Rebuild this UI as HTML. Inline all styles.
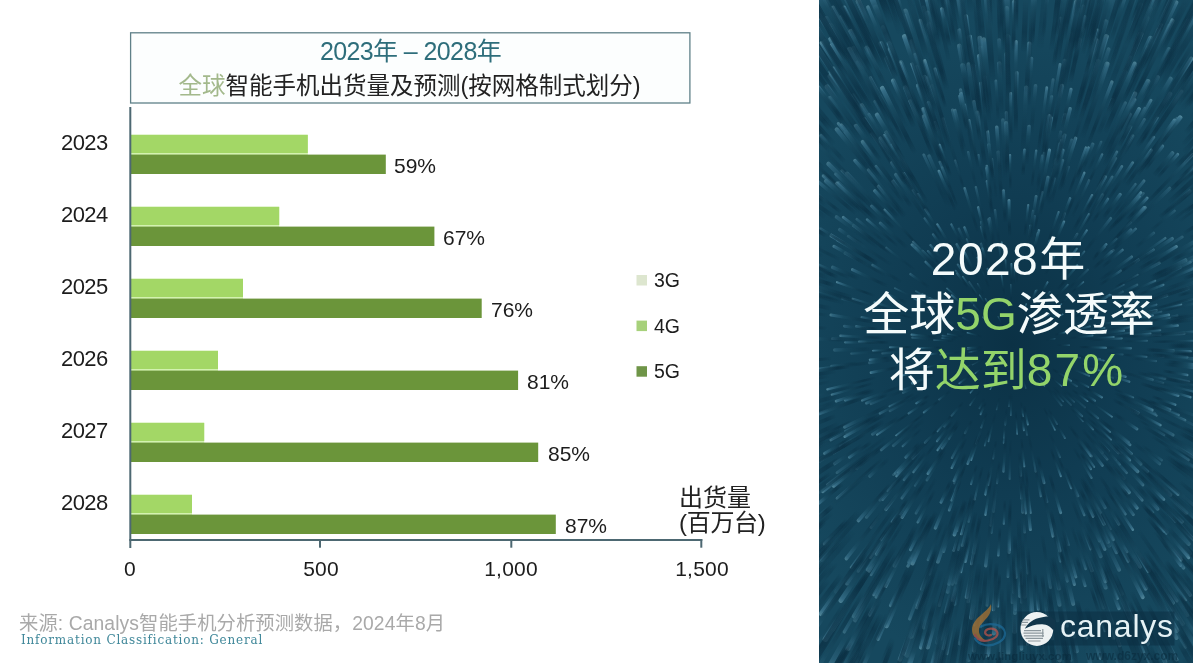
<!DOCTYPE html>
<html lang="zh">
<head>
<meta charset="utf-8">
<title>2023年 – 2028年 全球智能手机出货量及预测</title>
<style>
html,body{margin:0;padding:0;}
body{width:1193px;height:663px;position:relative;overflow:hidden;background:#fff;
  font-family:"Liberation Sans","Noto Sans CJK SC",sans-serif;color:#1a1a1a;}
.abs{position:absolute;white-space:nowrap;line-height:1;z-index:2;}
#titlebox{position:absolute;left:130px;top:32px;width:559px;height:70px;border:1px solid #5f8088;box-sizing:content-box;}
.t1{left:130px;width:561px;top:39px;text-align:center;font-size:25px;letter-spacing:-0.6px;color:#2e6e7b;}
.t2{left:129px;width:561px;top:75px;text-align:center;font-size:23.5px;color:#222;}
.t2 span{color:#a3b98c;}
.bar{position:absolute;left:131px;}
.l{background:#a3d867;height:19px;}
.d{background:#6b953a;height:20px;}
.yr{left:61px;font-size:22px;letter-spacing:-0.6px;color:#1c1c1c;}
.pc{font-size:21px;letter-spacing:0;color:#1c1c1c;}
.ax{font-size:21px;letter-spacing:0.2px;color:#1c1c1c;text-align:center;width:100px;}
#yaxis{position:absolute;left:130px;top:107px;width:1px;height:433px;background:#4f7580;}
#xaxis{position:absolute;left:130px;top:539px;width:572px;height:1px;background:#4f7580;}
.tick{position:absolute;top:539px;width:1px;height:8px;background:#4f7580;}
.lg{font-size:19.5px;letter-spacing:0;color:#1c1c1c;}
.sw{position:absolute;width:9px;height:9px;}
#panel{position:absolute;left:819px;top:0;width:374px;height:663px;overflow:hidden;background:radial-gradient(ellipse 250px 330px at 193px 345px,#0b3145 0%,#103c52 45%,#16485e 100%);}
.big{left:0;width:374px;text-align:center;color:#f4fbfb;font-size:46px;}
.big i{font-style:normal;letter-spacing:1.5px;}
.big span{color:#93d46a;}
</style>
</head>
<body>
<div class="abs t1">2023年 – 2028年</div>
<div class="abs t2"><span>全球</span>智能手机出货量及预测(按网格制式划分)</div>

<svg id="chart" width="819" height="663" viewBox="0 0 819 663" style="position:absolute;left:0;top:0">
<rect x="131" y="134.80" width="176.8" height="39.2" fill="#d3f2b0"/>
<rect x="131" y="134.80" width="176.8" height="18.2" fill="#a3d766"/>
<rect x="131" y="154.60" width="254.8" height="19.4" fill="#6b953a"/>
<rect x="131" y="206.80" width="148.2" height="39.2" fill="#d3f2b0"/>
<rect x="131" y="206.80" width="148.2" height="18.2" fill="#a3d766"/>
<rect x="131" y="226.60" width="303.4" height="19.4" fill="#6b953a"/>
<rect x="131" y="278.80" width="112.0" height="39.2" fill="#d3f2b0"/>
<rect x="131" y="278.80" width="112.0" height="18.2" fill="#a3d766"/>
<rect x="131" y="298.60" width="350.7" height="19.4" fill="#6b953a"/>
<rect x="131" y="350.80" width="87.0" height="39.2" fill="#d3f2b0"/>
<rect x="131" y="350.80" width="87.0" height="18.2" fill="#a3d766"/>
<rect x="131" y="370.60" width="387.1" height="19.4" fill="#6b953a"/>
<rect x="131" y="422.80" width="73.2" height="39.2" fill="#d3f2b0"/>
<rect x="131" y="422.80" width="73.2" height="18.2" fill="#a3d766"/>
<rect x="131" y="442.60" width="407.2" height="19.4" fill="#6b953a"/>
<rect x="131" y="494.80" width="61.0" height="39.2" fill="#d3f2b0"/>
<rect x="131" y="494.80" width="61.0" height="18.2" fill="#a3d766"/>
<rect x="131" y="514.60" width="424.8" height="19.4" fill="#6b953a"/>
<rect x="129.3" y="107" width="2" height="441" fill="#4d6872"/>
<rect x="129.3" y="539" width="573" height="2" fill="#4d6872"/>
<rect x="319" y="539" width="2" height="8.7" fill="#4d6872"/>
<rect x="510.3" y="539" width="2" height="8.7" fill="#4d6872"/>
<rect x="700.3" y="539" width="2" height="8.7" fill="#4d6872"/>
<rect x="636.5" y="275" width="10.5" height="10.5" fill="#dde6cf"/>
<rect x="636.5" y="320.6" width="10.5" height="10.5" fill="#a7d17b"/>
<rect x="636.5" y="366.2" width="10.5" height="10.5" fill="#6f9548"/>
<rect x="130.6" y="32.8" width="559.3" height="70.2" fill="#fcfefe" stroke="#5f8088" stroke-width="1.3"/>
</svg>

<div class="abs yr" style="top:132px">2023</div>
<div class="abs yr" style="top:204px">2024</div>
<div class="abs yr" style="top:276px">2025</div>
<div class="abs yr" style="top:348px">2026</div>
<div class="abs yr" style="top:420px">2027</div>
<div class="abs yr" style="top:492px">2028</div>

<div class="abs pc" style="left:394px;top:155px">59%</div>
<div class="abs pc" style="left:443px;top:227px">67%</div>
<div class="abs pc" style="left:491px;top:299px">76%</div>
<div class="abs pc" style="left:527px;top:371px">81%</div>
<div class="abs pc" style="left:548px;top:443px">85%</div>
<div class="abs pc" style="left:565px;top:515px">87%</div>

<div class="abs ax" style="left:80px;top:558px">0</div>
<div class="abs ax" style="left:271px;top:558px">500</div>
<div class="abs ax" style="left:461px;top:558px">1,000</div>
<div class="abs ax" style="left:652px;top:558px">1,500</div>

<div class="abs lg" style="left:654px;top:271px">3G</div>
<div class="abs lg" style="left:654px;top:317px">4G</div>
<div class="abs lg" style="left:654px;top:362px">5G</div>

<div class="abs" style="left:679px;top:486px;font-size:24px;color:#222">出货量</div>
<div class="abs" style="left:679px;top:511px;font-size:24px;letter-spacing:-0.3px;color:#222">(百万台)</div>

<div class="abs" style="left:19px;top:614px;font-size:19.3px;letter-spacing:0.1px;color:#a9a9a9">来源: Canalys智能手机分析预测数据，2024年8月</div>
<div class="abs" style="left:21px;top:634px;font-size:12px;letter-spacing:0.8px;color:#3f8799;font-family:'DejaVu Serif','Liberation Serif',serif">Information Classification: General</div>

<div id="panel">
<!--BURST-->
<svg id="burst" width="374" height="663" viewBox="0 0 374 663" style="position:absolute;left:0;top:0;filter:blur(0.5px)">
<defs><linearGradient id="rg" x1="0" y1="0" x2="1" y2="0"><stop offset="0" stop-color="#0a2c3f" stop-opacity="0"/><stop offset="0.25" stop-color="#0b3044" stop-opacity="0.75"/><stop offset="0.7" stop-color="#1a4c62" stop-opacity="0.92"/><stop offset="0.93" stop-color="#38708a" stop-opacity="1"/><stop offset="1" stop-color="#5a8fa2" stop-opacity="1"/></linearGradient></defs>
<g transform="translate(193 345)" fill="url(#rg)">
<rect x="21" y="-0.6" width="11" height="1.3" rx="0.6" opacity="0.5" transform="rotate(243.7)"/>
<rect x="28" y="-0.7" width="13" height="1.3" rx="0.7" opacity="0.4" transform="rotate(313.9)"/>
<rect x="29" y="-0.7" width="12" height="1.5" rx="0.7" opacity="0.6" transform="rotate(223.4)"/>
<rect x="30" y="-0.8" width="12" height="1.5" rx="0.8" opacity="0.5" transform="rotate(170.6)"/>
<rect x="32" y="-0.8" width="12" height="1.5" rx="0.8" opacity="0.9" transform="rotate(289.2)"/>
<rect x="34" y="-0.8" width="10" height="1.5" rx="0.8" opacity="0.5" transform="rotate(351.7)"/>
<rect x="29" y="-0.7" width="16" height="1.4" rx="0.7" opacity="0.7" transform="rotate(176.6)"/>
<rect x="31" y="-0.7" width="13" height="1.4" rx="0.7" opacity="0.5" transform="rotate(170.6)"/>
<rect x="30" y="-0.7" width="15" height="1.4" rx="0.7" opacity="0.7" transform="rotate(174.7)"/>
<rect x="30" y="-0.7" width="15" height="1.4" rx="0.7" opacity="0.6" transform="rotate(153.8)"/>
<rect x="30" y="-0.8" width="16" height="1.5" rx="0.8" opacity="0.4" transform="rotate(72.3)"/>
<rect x="31" y="-0.8" width="16" height="1.6" rx="0.8" opacity="0.9" transform="rotate(195.4)"/>
<rect x="37" y="-0.7" width="10" height="1.4" rx="0.7" opacity="0.9" transform="rotate(142.5)"/>
<rect x="30" y="-0.7" width="17" height="1.4" rx="0.7" opacity="0.9" transform="rotate(48.1)"/>
<rect x="34" y="-0.8" width="15" height="1.6" rx="0.8" opacity="0.6" transform="rotate(320.4)"/>
<rect x="33" y="-0.7" width="17" height="1.5" rx="0.7" opacity="0.9" transform="rotate(116.0)"/>
<rect x="35" y="-0.8" width="18" height="1.6" rx="0.8" opacity="0.7" transform="rotate(51.5)"/>
<rect x="38" y="-0.8" width="16" height="1.6" rx="0.8" opacity="0.5" transform="rotate(240.2)"/>
<rect x="44" y="-0.8" width="11" height="1.7" rx="0.8" opacity="0.8" transform="rotate(346.5)"/>
<rect x="39" y="-0.8" width="17" height="1.7" rx="0.8" opacity="0.5" transform="rotate(226.1)"/>
<rect x="39" y="-0.7" width="17" height="1.4" rx="0.7" opacity="0.8" transform="rotate(154.3)"/>
<rect x="39" y="-0.7" width="17" height="1.4" rx="0.7" opacity="0.9" transform="rotate(326.0)"/>
<rect x="43" y="-0.8" width="14" height="1.6" rx="0.8" opacity="0.8" transform="rotate(209.0)"/>
<rect x="45" y="-0.7" width="13" height="1.4" rx="0.7" opacity="0.7" transform="rotate(0.1)"/>
<rect x="47" y="-0.8" width="13" height="1.5" rx="0.8" opacity="0.9" transform="rotate(236.9)"/>
<rect x="48" y="-0.8" width="12" height="1.5" rx="0.8" opacity="0.9" transform="rotate(328.9)"/>
<rect x="46" y="-0.7" width="14" height="1.5" rx="0.7" opacity="0.7" transform="rotate(293.4)"/>
<rect x="49" y="-0.9" width="12" height="1.8" rx="0.9" opacity="0.4" transform="rotate(226.7)"/>
<rect x="43" y="-0.8" width="18" height="1.6" rx="0.8" opacity="0.4" transform="rotate(294.4)"/>
<rect x="43" y="-0.7" width="18" height="1.4" rx="0.7" opacity="0.5" transform="rotate(268.9)"/>
<rect x="50" y="-0.7" width="12" height="1.5" rx="0.7" opacity="0.5" transform="rotate(92.8)"/>
<rect x="48" y="-0.7" width="16" height="1.5" rx="0.7" opacity="0.9" transform="rotate(131.0)"/>
<rect x="47" y="-0.7" width="17" height="1.4" rx="0.7" opacity="0.6" transform="rotate(195.0)"/>
<rect x="49" y="-0.8" width="16" height="1.6" rx="0.8" opacity="0.9" transform="rotate(320.3)"/>
<rect x="49" y="-0.7" width="16" height="1.4" rx="0.7" opacity="0.8" transform="rotate(39.6)"/>
<rect x="51" y="-0.9" width="15" height="1.9" rx="0.9" opacity="0.9" transform="rotate(143.9)"/>
<rect x="53" y="-0.9" width="13" height="1.8" rx="0.9" opacity="0.5" transform="rotate(305.3)"/>
<rect x="46" y="-0.8" width="20" height="1.7" rx="0.8" opacity="0.7" transform="rotate(30.8)"/>
<rect x="54" y="-0.8" width="13" height="1.6" rx="0.8" opacity="0.4" transform="rotate(103.4)"/>
<rect x="49" y="-0.8" width="17" height="1.6" rx="0.8" opacity="0.6" transform="rotate(189.7)"/>
<rect x="55" y="-0.7" width="15" height="1.5" rx="0.7" opacity="0.6" transform="rotate(31.7)"/>
<rect x="47" y="-0.8" width="23" height="1.6" rx="0.8" opacity="0.8" transform="rotate(31.1)"/>
<rect x="56" y="-0.8" width="15" height="1.6" rx="0.8" opacity="0.6" transform="rotate(185.6)"/>
<rect x="54" y="-1.0" width="17" height="1.9" rx="1.0" opacity="0.6" transform="rotate(187.7)"/>
<rect x="54" y="-0.8" width="16" height="1.7" rx="0.8" opacity="0.5" transform="rotate(10.4)"/>
<rect x="58" y="-0.9" width="13" height="1.7" rx="0.9" opacity="0.4" transform="rotate(240.8)"/>
<rect x="51" y="-0.8" width="20" height="1.6" rx="0.8" opacity="0.9" transform="rotate(261.4)"/>
<rect x="48" y="-0.9" width="23" height="1.9" rx="0.9" opacity="0.5" transform="rotate(90.9)"/>
<rect x="60" y="-1.0" width="12" height="1.9" rx="1.0" opacity="0.4" transform="rotate(117.3)"/>
<rect x="59" y="-0.8" width="13" height="1.6" rx="0.8" opacity="0.6" transform="rotate(198.8)"/>
<rect x="58" y="-0.9" width="15" height="1.8" rx="0.9" opacity="0.7" transform="rotate(81.1)"/>
<rect x="58" y="-0.9" width="15" height="1.9" rx="0.9" opacity="0.9" transform="rotate(299.5)"/>
<rect x="51" y="-1.0" width="22" height="2.0" rx="1.0" opacity="0.5" transform="rotate(172.4)"/>
<rect x="56" y="-0.8" width="18" height="1.6" rx="0.8" opacity="0.5" transform="rotate(124.9)"/>
<rect x="52" y="-0.8" width="24" height="1.6" rx="0.8" opacity="0.5" transform="rotate(200.1)"/>
<rect x="52" y="-0.9" width="25" height="1.7" rx="0.9" opacity="0.8" transform="rotate(235.9)"/>
<rect x="61" y="-0.8" width="16" height="1.6" rx="0.8" opacity="0.5" transform="rotate(47.8)"/>
<rect x="63" y="-1.0" width="14" height="2.0" rx="1.0" opacity="0.8" transform="rotate(114.4)"/>
<rect x="55" y="-1.0" width="23" height="1.9" rx="1.0" opacity="0.4" transform="rotate(32.5)"/>
<rect x="63" y="-0.8" width="14" height="1.5" rx="0.8" opacity="0.7" transform="rotate(319.6)"/>
<rect x="61" y="-0.8" width="17" height="1.6" rx="0.8" opacity="0.7" transform="rotate(271.9)"/>
<rect x="58" y="-1.0" width="21" height="2.0" rx="1.0" opacity="0.9" transform="rotate(219.5)"/>
<rect x="58" y="-0.8" width="21" height="1.6" rx="0.8" opacity="0.7" transform="rotate(183.7)"/>
<rect x="59" y="-0.9" width="21" height="1.8" rx="0.9" opacity="0.4" transform="rotate(21.7)"/>
<rect x="54" y="-1.0" width="25" height="2.0" rx="1.0" opacity="0.4" transform="rotate(50.6)"/>
<rect x="58" y="-0.9" width="23" height="1.9" rx="0.9" opacity="0.9" transform="rotate(346.6)"/>
<rect x="64" y="-1.0" width="17" height="2.0" rx="1.0" opacity="0.6" transform="rotate(94.9)"/>
<rect x="62" y="-1.0" width="20" height="2.0" rx="1.0" opacity="0.9" transform="rotate(78.7)"/>
<rect x="60" y="-1.0" width="22" height="2.0" rx="1.0" opacity="0.9" transform="rotate(269.6)"/>
<rect x="67" y="-1.0" width="14" height="2.1" rx="1.0" opacity="0.7" transform="rotate(252.2)"/>
<rect x="57" y="-1.0" width="25" height="2.1" rx="1.0" opacity="0.7" transform="rotate(353.2)"/>
<rect x="68" y="-1.0" width="15" height="2.0" rx="1.0" opacity="0.8" transform="rotate(173.6)"/>
<rect x="63" y="-1.0" width="20" height="1.9" rx="1.0" opacity="0.6" transform="rotate(312.8)"/>
<rect x="57" y="-0.9" width="27" height="1.7" rx="0.9" opacity="0.7" transform="rotate(341.8)"/>
<rect x="57" y="-0.9" width="27" height="1.8" rx="0.9" opacity="0.7" transform="rotate(21.8)"/>
<rect x="61" y="-0.9" width="24" height="1.8" rx="0.9" opacity="0.7" transform="rotate(234.3)"/>
<rect x="59" y="-0.9" width="26" height="1.8" rx="0.9" opacity="0.6" transform="rotate(45.5)"/>
<rect x="68" y="-0.8" width="17" height="1.7" rx="0.8" opacity="0.4" transform="rotate(42.4)"/>
<rect x="70" y="-1.0" width="17" height="2.1" rx="1.0" opacity="0.8" transform="rotate(82.0)"/>
<rect x="67" y="-0.9" width="19" height="1.8" rx="0.9" opacity="0.6" transform="rotate(265.6)"/>
<rect x="61" y="-0.8" width="26" height="1.6" rx="0.8" opacity="0.7" transform="rotate(221.0)"/>
<rect x="63" y="-0.8" width="24" height="1.6" rx="0.8" opacity="0.6" transform="rotate(274.3)"/>
<rect x="69" y="-1.1" width="19" height="2.1" rx="1.1" opacity="0.6" transform="rotate(28.9)"/>
<rect x="67" y="-0.8" width="21" height="1.7" rx="0.8" opacity="0.8" transform="rotate(335.7)"/>
<rect x="72" y="-1.0" width="17" height="2.0" rx="1.0" opacity="0.7" transform="rotate(110.4)"/>
<rect x="68" y="-0.8" width="22" height="1.7" rx="0.8" opacity="0.5" transform="rotate(165.3)"/>
<rect x="66" y="-0.8" width="24" height="1.6" rx="0.8" opacity="0.9" transform="rotate(86.7)"/>
<rect x="62" y="-1.0" width="28" height="2.0" rx="1.0" opacity="0.6" transform="rotate(9.1)"/>
<rect x="62" y="-0.9" width="28" height="1.7" rx="0.9" opacity="0.7" transform="rotate(248.3)"/>
<rect x="73" y="-1.1" width="18" height="2.2" rx="1.1" opacity="0.7" transform="rotate(232.5)"/>
<rect x="77" y="-1.0" width="15" height="2.1" rx="1.0" opacity="0.5" transform="rotate(143.2)"/>
<rect x="72" y="-0.9" width="19" height="1.7" rx="0.9" opacity="0.4" transform="rotate(205.4)"/>
<rect x="74" y="-0.8" width="18" height="1.7" rx="0.8" opacity="0.6" transform="rotate(60.3)"/>
<rect x="71" y="-0.9" width="21" height="1.9" rx="0.9" opacity="0.4" transform="rotate(80.5)"/>
<rect x="77" y="-0.9" width="17" height="1.7" rx="0.9" opacity="0.6" transform="rotate(232.9)"/>
<rect x="72" y="-0.9" width="22" height="1.9" rx="0.9" opacity="0.9" transform="rotate(16.3)"/>
<rect x="65" y="-0.9" width="29" height="1.8" rx="0.9" opacity="0.7" transform="rotate(9.6)"/>
<rect x="75" y="-1.1" width="19" height="2.2" rx="1.1" opacity="0.7" transform="rotate(130.5)"/>
<rect x="68" y="-0.8" width="26" height="1.7" rx="0.8" opacity="0.6" transform="rotate(95.0)"/>
<rect x="68" y="-0.9" width="26" height="1.8" rx="0.9" opacity="0.8" transform="rotate(178.1)"/>
<rect x="75" y="-0.8" width="20" height="1.7" rx="0.8" opacity="0.9" transform="rotate(36.6)"/>
<rect x="77" y="-1.0" width="18" height="1.9" rx="1.0" opacity="0.9" transform="rotate(248.5)"/>
<rect x="67" y="-1.0" width="28" height="2.0" rx="1.0" opacity="0.5" transform="rotate(1.7)"/>
<rect x="67" y="-1.0" width="28" height="2.0" rx="1.0" opacity="0.9" transform="rotate(1.7)"/>
<rect x="80" y="-1.0" width="15" height="2.0" rx="1.0" opacity="0.8" transform="rotate(349.6)"/>
<rect x="70" y="-0.8" width="26" height="1.6" rx="0.8" opacity="0.9" transform="rotate(63.2)"/>
<rect x="79" y="-0.9" width="17" height="1.8" rx="0.9" opacity="0.8" transform="rotate(318.6)"/>
<rect x="76" y="-1.1" width="20" height="2.1" rx="1.1" opacity="0.9" transform="rotate(209.7)"/>
<rect x="78" y="-0.8" width="18" height="1.7" rx="0.8" opacity="0.4" transform="rotate(15.4)"/>
<rect x="75" y="-0.8" width="22" height="1.6" rx="0.8" opacity="0.4" transform="rotate(209.3)"/>
<rect x="69" y="-1.0" width="28" height="2.0" rx="1.0" opacity="0.5" transform="rotate(40.5)"/>
<rect x="68" y="-1.1" width="30" height="2.2" rx="1.1" opacity="0.6" transform="rotate(236.0)"/>
<rect x="81" y="-0.9" width="18" height="1.9" rx="0.9" opacity="0.5" transform="rotate(176.2)"/>
<rect x="78" y="-1.2" width="21" height="2.3" rx="1.2" opacity="0.5" transform="rotate(295.5)"/>
<rect x="80" y="-0.9" width="19" height="1.8" rx="0.9" opacity="0.6" transform="rotate(94.9)"/>
<rect x="71" y="-1.0" width="29" height="2.0" rx="1.0" opacity="0.4" transform="rotate(262.6)"/>
<rect x="70" y="-0.9" width="30" height="1.8" rx="0.9" opacity="0.6" transform="rotate(103.7)"/>
<rect x="73" y="-1.2" width="28" height="2.3" rx="1.2" opacity="0.5" transform="rotate(184.3)"/>
<rect x="84" y="-1.1" width="17" height="2.1" rx="1.1" opacity="0.7" transform="rotate(33.9)"/>
<rect x="79" y="-1.2" width="22" height="2.3" rx="1.2" opacity="0.6" transform="rotate(45.5)"/>
<rect x="85" y="-1.2" width="16" height="2.3" rx="1.2" opacity="0.6" transform="rotate(118.1)"/>
<rect x="74" y="-0.9" width="28" height="1.9" rx="0.9" opacity="0.4" transform="rotate(347.2)"/>
<rect x="75" y="-1.2" width="27" height="2.3" rx="1.2" opacity="0.9" transform="rotate(185.9)"/>
<rect x="86" y="-1.1" width="16" height="2.2" rx="1.1" opacity="0.9" transform="rotate(253.0)"/>
<rect x="72" y="-0.9" width="31" height="1.8" rx="0.9" opacity="0.8" transform="rotate(355.5)"/>
<rect x="84" y="-1.0" width="20" height="2.0" rx="1.0" opacity="0.7" transform="rotate(264.3)"/>
<rect x="76" y="-0.9" width="28" height="1.8" rx="0.9" opacity="0.4" transform="rotate(206.8)"/>
<rect x="72" y="-1.2" width="32" height="2.4" rx="1.2" opacity="0.9" transform="rotate(309.4)"/>
<rect x="81" y="-1.2" width="23" height="2.3" rx="1.2" opacity="0.7" transform="rotate(209.5)"/>
<rect x="84" y="-1.2" width="21" height="2.3" rx="1.2" opacity="0.9" transform="rotate(30.2)"/>
<rect x="88" y="-0.9" width="17" height="1.7" rx="0.9" opacity="0.6" transform="rotate(105.2)"/>
<rect x="76" y="-1.2" width="29" height="2.4" rx="1.2" opacity="0.7" transform="rotate(242.9)"/>
<rect x="86" y="-0.9" width="19" height="1.8" rx="0.9" opacity="0.5" transform="rotate(47.1)"/>
<rect x="77" y="-1.1" width="29" height="2.3" rx="1.1" opacity="0.4" transform="rotate(110.0)"/>
<rect x="78" y="-1.0" width="29" height="1.9" rx="1.0" opacity="0.8" transform="rotate(333.3)"/>
<rect x="91" y="-0.9" width="16" height="1.8" rx="0.9" opacity="0.6" transform="rotate(17.9)"/>
<rect x="90" y="-1.1" width="17" height="2.3" rx="1.1" opacity="0.4" transform="rotate(129.7)"/>
<rect x="77" y="-1.2" width="30" height="2.4" rx="1.2" opacity="0.4" transform="rotate(253.0)"/>
<rect x="78" y="-1.2" width="30" height="2.4" rx="1.2" opacity="0.4" transform="rotate(315.2)"/>
<rect x="88" y="-1.0" width="20" height="2.0" rx="1.0" opacity="0.6" transform="rotate(60.4)"/>
<rect x="83" y="-1.2" width="25" height="2.5" rx="1.2" opacity="0.8" transform="rotate(159.0)"/>
<rect x="89" y="-0.9" width="20" height="1.8" rx="0.9" opacity="0.8" transform="rotate(205.4)"/>
<rect x="78" y="-1.1" width="33" height="2.2" rx="1.1" opacity="0.7" transform="rotate(356.5)"/>
<rect x="78" y="-0.9" width="33" height="1.7" rx="0.9" opacity="0.5" transform="rotate(209.3)"/>
<rect x="95" y="-1.0" width="17" height="2.0" rx="1.0" opacity="0.4" transform="rotate(4.9)"/>
<rect x="88" y="-1.0" width="23" height="2.0" rx="1.0" opacity="0.9" transform="rotate(332.8)"/>
<rect x="88" y="-1.0" width="24" height="2.0" rx="1.0" opacity="0.5" transform="rotate(333.4)"/>
<rect x="86" y="-1.0" width="26" height="2.0" rx="1.0" opacity="0.7" transform="rotate(289.8)"/>
<rect x="91" y="-1.0" width="21" height="2.0" rx="1.0" opacity="0.8" transform="rotate(142.6)"/>
<rect x="97" y="-1.2" width="16" height="2.3" rx="1.2" opacity="0.9" transform="rotate(148.7)"/>
<rect x="86" y="-1.1" width="28" height="2.1" rx="1.1" opacity="0.8" transform="rotate(352.7)"/>
<rect x="89" y="-1.2" width="25" height="2.4" rx="1.2" opacity="0.5" transform="rotate(40.4)"/>
<rect x="97" y="-0.9" width="17" height="1.8" rx="0.9" opacity="0.8" transform="rotate(123.9)"/>
<rect x="89" y="-0.9" width="26" height="1.8" rx="0.9" opacity="0.7" transform="rotate(130.8)"/>
<rect x="88" y="-1.0" width="27" height="2.0" rx="1.0" opacity="0.9" transform="rotate(164.5)"/>
<rect x="97" y="-0.9" width="19" height="1.9" rx="0.9" opacity="0.7" transform="rotate(99.4)"/>
<rect x="82" y="-1.2" width="34" height="2.5" rx="1.2" opacity="0.6" transform="rotate(241.2)"/>
<rect x="83" y="-0.9" width="33" height="1.8" rx="0.9" opacity="0.9" transform="rotate(282.9)"/>
<rect x="95" y="-0.9" width="21" height="1.9" rx="0.9" opacity="0.5" transform="rotate(246.8)"/>
<rect x="86" y="-1.2" width="31" height="2.5" rx="1.2" opacity="0.9" transform="rotate(303.8)"/>
<rect x="85" y="-1.3" width="33" height="2.5" rx="1.3" opacity="0.6" transform="rotate(347.6)"/>
<rect x="97" y="-1.1" width="21" height="2.2" rx="1.1" opacity="0.7" transform="rotate(46.1)"/>
<rect x="94" y="-1.3" width="25" height="2.6" rx="1.3" opacity="0.9" transform="rotate(15.6)"/>
<rect x="85" y="-1.1" width="34" height="2.3" rx="1.1" opacity="0.5" transform="rotate(351.4)"/>
<rect x="93" y="-1.2" width="26" height="2.5" rx="1.2" opacity="0.9" transform="rotate(283.2)"/>
<rect x="94" y="-1.1" width="25" height="2.2" rx="1.1" opacity="0.5" transform="rotate(157.6)"/>
<rect x="102" y="-0.9" width="17" height="1.9" rx="0.9" opacity="0.7" transform="rotate(307.7)"/>
<rect x="92" y="-1.3" width="28" height="2.6" rx="1.3" opacity="0.7" transform="rotate(1.6)"/>
<rect x="101" y="-1.2" width="19" height="2.5" rx="1.2" opacity="0.5" transform="rotate(156.3)"/>
<rect x="90" y="-1.3" width="31" height="2.6" rx="1.3" opacity="0.7" transform="rotate(223.9)"/>
<rect x="87" y="-0.9" width="35" height="1.8" rx="0.9" opacity="0.8" transform="rotate(354.1)"/>
<rect x="93" y="-1.1" width="29" height="2.2" rx="1.1" opacity="0.6" transform="rotate(278.8)"/>
<rect x="97" y="-0.9" width="25" height="1.8" rx="0.9" opacity="0.8" transform="rotate(351.0)"/>
<rect x="100" y="-1.0" width="23" height="2.0" rx="1.0" opacity="0.9" transform="rotate(178.9)"/>
<rect x="94" y="-1.0" width="29" height="2.0" rx="1.0" opacity="0.8" transform="rotate(84.2)"/>
<rect x="94" y="-1.0" width="29" height="2.0" rx="1.0" opacity="0.9" transform="rotate(109.5)"/>
<rect x="97" y="-1.0" width="26" height="2.0" rx="1.0" opacity="0.5" transform="rotate(255.2)"/>
<rect x="96" y="-1.0" width="27" height="2.1" rx="1.0" opacity="0.4" transform="rotate(66.8)"/>
<rect x="97" y="-1.2" width="26" height="2.3" rx="1.2" opacity="0.7" transform="rotate(128.0)"/>
<rect x="88" y="-0.9" width="36" height="1.8" rx="0.9" opacity="0.8" transform="rotate(35.7)"/>
<rect x="88" y="-1.3" width="36" height="2.5" rx="1.3" opacity="0.7" transform="rotate(17.4)"/>
<rect x="102" y="-1.1" width="22" height="2.2" rx="1.1" opacity="0.7" transform="rotate(334.3)"/>
<rect x="106" y="-1.3" width="18" height="2.7" rx="1.3" opacity="0.8" transform="rotate(348.4)"/>
<rect x="101" y="-1.1" width="24" height="2.2" rx="1.1" opacity="0.8" transform="rotate(146.5)"/>
<rect x="101" y="-1.3" width="24" height="2.6" rx="1.3" opacity="0.5" transform="rotate(214.9)"/>
<rect x="107" y="-1.0" width="19" height="1.9" rx="1.0" opacity="0.5" transform="rotate(187.3)"/>
<rect x="93" y="-1.3" width="33" height="2.6" rx="1.3" opacity="0.6" transform="rotate(124.1)"/>
<rect x="108" y="-1.2" width="19" height="2.3" rx="1.2" opacity="0.6" transform="rotate(228.2)"/>
<rect x="96" y="-1.4" width="32" height="2.7" rx="1.4" opacity="0.8" transform="rotate(110.5)"/>
<rect x="92" y="-1.3" width="36" height="2.5" rx="1.3" opacity="0.6" transform="rotate(93.9)"/>
<rect x="93" y="-1.0" width="35" height="1.9" rx="1.0" opacity="0.4" transform="rotate(331.7)"/>
<rect x="98" y="-1.0" width="31" height="2.1" rx="1.0" opacity="0.5" transform="rotate(259.3)"/>
<rect x="108" y="-1.0" width="20" height="2.0" rx="1.0" opacity="0.7" transform="rotate(255.8)"/>
<rect x="102" y="-1.3" width="26" height="2.5" rx="1.3" opacity="0.8" transform="rotate(248.0)"/>
<rect x="102" y="-1.2" width="27" height="2.5" rx="1.2" opacity="0.4" transform="rotate(245.4)"/>
<rect x="92" y="-1.2" width="37" height="2.4" rx="1.2" opacity="0.5" transform="rotate(118.0)"/>
<rect x="104" y="-1.2" width="26" height="2.5" rx="1.2" opacity="0.5" transform="rotate(260.0)"/>
<rect x="92" y="-1.0" width="38" height="2.0" rx="1.0" opacity="0.6" transform="rotate(79.4)"/>
<rect x="92" y="-1.1" width="38" height="2.2" rx="1.1" opacity="0.9" transform="rotate(125.3)"/>
<rect x="105" y="-1.1" width="25" height="2.2" rx="1.1" opacity="0.9" transform="rotate(300.4)"/>
<rect x="101" y="-1.2" width="29" height="2.4" rx="1.2" opacity="0.7" transform="rotate(230.8)"/>
<rect x="101" y="-1.0" width="30" height="1.9" rx="1.0" opacity="0.5" transform="rotate(205.9)"/>
<rect x="94" y="-1.0" width="37" height="2.0" rx="1.0" opacity="0.7" transform="rotate(226.5)"/>
<rect x="96" y="-1.1" width="35" height="2.2" rx="1.1" opacity="0.4" transform="rotate(176.3)"/>
<rect x="112" y="-1.1" width="20" height="2.3" rx="1.1" opacity="0.9" transform="rotate(131.6)"/>
<rect x="97" y="-1.0" width="35" height="2.0" rx="1.0" opacity="0.8" transform="rotate(41.6)"/>
<rect x="109" y="-1.4" width="23" height="2.7" rx="1.4" opacity="0.4" transform="rotate(280.0)"/>
<rect x="111" y="-1.0" width="22" height="1.9" rx="1.0" opacity="0.6" transform="rotate(23.4)"/>
<rect x="108" y="-1.3" width="24" height="2.5" rx="1.3" opacity="0.5" transform="rotate(86.1)"/>
<rect x="106" y="-1.2" width="27" height="2.3" rx="1.2" opacity="0.7" transform="rotate(325.7)"/>
<rect x="114" y="-1.4" width="20" height="2.7" rx="1.4" opacity="0.6" transform="rotate(202.0)"/>
<rect x="105" y="-1.3" width="30" height="2.7" rx="1.3" opacity="0.9" transform="rotate(292.8)"/>
<rect x="106" y="-1.4" width="29" height="2.8" rx="1.4" opacity="0.4" transform="rotate(338.7)"/>
<rect x="95" y="-1.1" width="40" height="2.2" rx="1.1" opacity="0.4" transform="rotate(91.0)"/>
<rect x="110" y="-1.1" width="26" height="2.2" rx="1.1" opacity="0.7" transform="rotate(5.0)"/>
<rect x="103" y="-1.0" width="33" height="2.0" rx="1.0" opacity="0.7" transform="rotate(195.1)"/>
<rect x="117" y="-1.1" width="19" height="2.2" rx="1.1" opacity="0.6" transform="rotate(313.4)"/>
<rect x="110" y="-1.1" width="26" height="2.2" rx="1.1" opacity="0.7" transform="rotate(243.3)"/>
<rect x="115" y="-1.3" width="22" height="2.6" rx="1.3" opacity="0.6" transform="rotate(234.5)"/>
<rect x="101" y="-1.2" width="36" height="2.5" rx="1.2" opacity="0.4" transform="rotate(262.8)"/>
<rect x="111" y="-1.0" width="25" height="2.0" rx="1.0" opacity="0.5" transform="rotate(358.2)"/>
<rect x="100" y="-1.1" width="37" height="2.3" rx="1.1" opacity="0.5" transform="rotate(278.9)"/>
<rect x="109" y="-1.0" width="29" height="2.0" rx="1.0" opacity="0.7" transform="rotate(153.4)"/>
<rect x="113" y="-1.1" width="25" height="2.2" rx="1.1" opacity="0.7" transform="rotate(225.3)"/>
<rect x="99" y="-1.1" width="38" height="2.3" rx="1.1" opacity="0.7" transform="rotate(54.7)"/>
<rect x="111" y="-1.4" width="27" height="2.8" rx="1.4" opacity="0.5" transform="rotate(348.2)"/>
<rect x="104" y="-1.2" width="34" height="2.5" rx="1.2" opacity="0.8" transform="rotate(116.1)"/>
<rect x="111" y="-1.1" width="27" height="2.2" rx="1.1" opacity="0.9" transform="rotate(303.1)"/>
<rect x="112" y="-1.4" width="26" height="2.7" rx="1.4" opacity="0.8" transform="rotate(316.8)"/>
<rect x="100" y="-1.4" width="38" height="2.7" rx="1.4" opacity="0.4" transform="rotate(54.4)"/>
<rect x="105" y="-1.0" width="33" height="2.0" rx="1.0" opacity="0.7" transform="rotate(43.7)"/>
<rect x="120" y="-1.3" width="19" height="2.6" rx="1.3" opacity="0.9" transform="rotate(313.1)"/>
<rect x="117" y="-1.1" width="23" height="2.2" rx="1.1" opacity="0.6" transform="rotate(96.2)"/>
<rect x="104" y="-1.3" width="36" height="2.7" rx="1.3" opacity="0.4" transform="rotate(151.6)"/>
<rect x="119" y="-1.3" width="21" height="2.6" rx="1.3" opacity="0.5" transform="rotate(316.9)"/>
<rect x="108" y="-1.2" width="32" height="2.4" rx="1.2" opacity="0.5" transform="rotate(334.3)"/>
<rect x="105" y="-1.3" width="35" height="2.6" rx="1.3" opacity="0.7" transform="rotate(355.4)"/>
<rect x="116" y="-1.0" width="24" height="2.1" rx="1.0" opacity="0.9" transform="rotate(177.6)"/>
<rect x="110" y="-1.2" width="31" height="2.5" rx="1.2" opacity="0.6" transform="rotate(350.4)"/>
<rect x="111" y="-1.1" width="30" height="2.1" rx="1.1" opacity="0.9" transform="rotate(69.6)"/>
<rect x="110" y="-1.1" width="32" height="2.2" rx="1.1" opacity="0.8" transform="rotate(276.6)"/>
<rect x="122" y="-1.4" width="20" height="2.9" rx="1.4" opacity="0.4" transform="rotate(50.0)"/>
<rect x="108" y="-1.1" width="34" height="2.2" rx="1.1" opacity="0.7" transform="rotate(289.3)"/>
<rect x="114" y="-1.4" width="29" height="2.9" rx="1.4" opacity="0.8" transform="rotate(76.9)"/>
<rect x="102" y="-1.5" width="41" height="2.9" rx="1.5" opacity="0.8" transform="rotate(225.1)"/>
<rect x="109" y="-1.3" width="34" height="2.6" rx="1.3" opacity="0.9" transform="rotate(238.2)"/>
<rect x="122" y="-1.3" width="22" height="2.6" rx="1.3" opacity="0.9" transform="rotate(174.1)"/>
<rect x="104" y="-1.3" width="39" height="2.6" rx="1.3" opacity="0.8" transform="rotate(256.2)"/>
<rect x="104" y="-1.4" width="39" height="2.7" rx="1.4" opacity="0.5" transform="rotate(99.6)"/>
<rect x="106" y="-1.2" width="37" height="2.4" rx="1.2" opacity="0.4" transform="rotate(291.9)"/>
<rect x="119" y="-1.4" width="26" height="2.8" rx="1.4" opacity="0.5" transform="rotate(172.9)"/>
<rect x="118" y="-1.0" width="27" height="2.0" rx="1.0" opacity="0.9" transform="rotate(330.8)"/>
<rect x="105" y="-1.1" width="39" height="2.2" rx="1.1" opacity="0.8" transform="rotate(226.3)"/>
<rect x="116" y="-1.4" width="29" height="2.8" rx="1.4" opacity="0.8" transform="rotate(348.2)"/>
<rect x="114" y="-1.4" width="31" height="2.7" rx="1.4" opacity="0.4" transform="rotate(47.7)"/>
<rect x="108" y="-1.1" width="37" height="2.3" rx="1.1" opacity="0.7" transform="rotate(197.2)"/>
<rect x="115" y="-1.4" width="30" height="2.9" rx="1.4" opacity="0.8" transform="rotate(28.3)"/>
<rect x="125" y="-1.1" width="21" height="2.2" rx="1.1" opacity="0.7" transform="rotate(106.4)"/>
<rect x="115" y="-1.3" width="30" height="2.7" rx="1.3" opacity="0.9" transform="rotate(168.9)"/>
<rect x="121" y="-1.1" width="25" height="2.3" rx="1.1" opacity="0.4" transform="rotate(6.4)"/>
<rect x="109" y="-1.5" width="37" height="3.0" rx="1.5" opacity="0.9" transform="rotate(268.8)"/>
<rect x="114" y="-1.3" width="32" height="2.7" rx="1.3" opacity="0.6" transform="rotate(13.9)"/>
<rect x="119" y="-1.3" width="28" height="2.6" rx="1.3" opacity="0.7" transform="rotate(319.3)"/>
<rect x="112" y="-1.0" width="36" height="2.0" rx="1.0" opacity="0.9" transform="rotate(142.0)"/>
<rect x="117" y="-1.0" width="31" height="2.0" rx="1.0" opacity="0.7" transform="rotate(56.0)"/>
<rect x="128" y="-1.2" width="20" height="2.5" rx="1.2" opacity="0.8" transform="rotate(57.5)"/>
<rect x="114" y="-1.4" width="36" height="2.8" rx="1.4" opacity="0.9" transform="rotate(346.5)"/>
<rect x="118" y="-1.4" width="31" height="2.7" rx="1.4" opacity="0.7" transform="rotate(113.2)"/>
<rect x="116" y="-1.3" width="34" height="2.6" rx="1.3" opacity="0.6" transform="rotate(152.6)"/>
<rect x="114" y="-1.2" width="36" height="2.3" rx="1.2" opacity="0.8" transform="rotate(356.0)"/>
<rect x="109" y="-1.0" width="41" height="2.0" rx="1.0" opacity="0.6" transform="rotate(354.3)"/>
<rect x="124" y="-1.1" width="26" height="2.2" rx="1.1" opacity="0.6" transform="rotate(137.2)"/>
<rect x="109" y="-1.4" width="41" height="2.9" rx="1.4" opacity="0.6" transform="rotate(323.6)"/>
<rect x="110" y="-1.3" width="40" height="2.5" rx="1.3" opacity="0.6" transform="rotate(50.2)"/>
<rect x="128" y="-1.0" width="22" height="2.0" rx="1.0" opacity="0.5" transform="rotate(314.5)"/>
<rect x="120" y="-1.1" width="31" height="2.2" rx="1.1" opacity="0.4" transform="rotate(112.7)"/>
<rect x="124" y="-1.1" width="27" height="2.1" rx="1.1" opacity="0.6" transform="rotate(344.4)"/>
<rect x="122" y="-1.5" width="30" height="3.0" rx="1.5" opacity="0.7" transform="rotate(33.9)"/>
<rect x="124" y="-1.5" width="28" height="3.0" rx="1.5" opacity="0.7" transform="rotate(131.3)"/>
<rect x="118" y="-1.5" width="34" height="3.0" rx="1.5" opacity="0.7" transform="rotate(53.1)"/>
<rect x="108" y="-1.4" width="44" height="2.9" rx="1.4" opacity="0.6" transform="rotate(279.2)"/>
<rect x="127" y="-1.1" width="26" height="2.3" rx="1.1" opacity="0.9" transform="rotate(100.1)"/>
<rect x="119" y="-1.0" width="34" height="2.1" rx="1.0" opacity="0.5" transform="rotate(39.7)"/>
<rect x="109" y="-1.2" width="44" height="2.3" rx="1.2" opacity="0.7" transform="rotate(300.5)"/>
<rect x="110" y="-1.2" width="43" height="2.4" rx="1.2" opacity="0.8" transform="rotate(45.4)"/>
<rect x="130" y="-1.2" width="23" height="2.4" rx="1.2" opacity="0.5" transform="rotate(4.4)"/>
<rect x="123" y="-1.3" width="31" height="2.5" rx="1.3" opacity="0.9" transform="rotate(181.2)"/>
<rect x="111" y="-1.0" width="43" height="2.0" rx="1.0" opacity="0.4" transform="rotate(347.4)"/>
<rect x="125" y="-1.2" width="29" height="2.3" rx="1.2" opacity="0.6" transform="rotate(190.5)"/>
<rect x="129" y="-1.4" width="25" height="2.8" rx="1.4" opacity="0.9" transform="rotate(326.0)"/>
<rect x="122" y="-1.5" width="33" height="2.9" rx="1.5" opacity="0.9" transform="rotate(123.2)"/>
<rect x="113" y="-1.2" width="41" height="2.4" rx="1.2" opacity="0.4" transform="rotate(157.3)"/>
<rect x="122" y="-1.2" width="33" height="2.4" rx="1.2" opacity="0.7" transform="rotate(86.5)"/>
<rect x="121" y="-1.5" width="34" height="3.0" rx="1.5" opacity="0.4" transform="rotate(44.7)"/>
<rect x="122" y="-1.1" width="33" height="2.3" rx="1.1" opacity="0.6" transform="rotate(79.2)"/>
<rect x="121" y="-1.1" width="35" height="2.3" rx="1.1" opacity="0.8" transform="rotate(67.5)"/>
<rect x="128" y="-1.1" width="27" height="2.2" rx="1.1" opacity="0.6" transform="rotate(235.4)"/>
<rect x="113" y="-1.4" width="43" height="2.9" rx="1.4" opacity="0.9" transform="rotate(24.9)"/>
<rect x="131" y="-1.1" width="25" height="2.1" rx="1.1" opacity="0.5" transform="rotate(47.9)"/>
<rect x="135" y="-1.5" width="21" height="3.0" rx="1.5" opacity="0.7" transform="rotate(133.4)"/>
<rect x="123" y="-1.1" width="34" height="2.3" rx="1.1" opacity="0.4" transform="rotate(14.1)"/>
<rect x="115" y="-1.4" width="41" height="2.9" rx="1.4" opacity="0.7" transform="rotate(40.2)"/>
<rect x="120" y="-1.2" width="36" height="2.4" rx="1.2" opacity="0.6" transform="rotate(59.1)"/>
<rect x="123" y="-1.5" width="33" height="3.1" rx="1.5" opacity="0.8" transform="rotate(266.8)"/>
<rect x="116" y="-1.1" width="41" height="2.1" rx="1.1" opacity="0.7" transform="rotate(281.3)"/>
<rect x="116" y="-1.5" width="41" height="3.0" rx="1.5" opacity="0.4" transform="rotate(139.7)"/>
<rect x="123" y="-1.0" width="34" height="2.1" rx="1.0" opacity="0.5" transform="rotate(338.3)"/>
<rect x="129" y="-1.4" width="29" height="2.8" rx="1.4" opacity="0.6" transform="rotate(12.4)"/>
<rect x="135" y="-1.3" width="22" height="2.6" rx="1.3" opacity="0.4" transform="rotate(111.3)"/>
<rect x="135" y="-1.2" width="23" height="2.4" rx="1.2" opacity="0.9" transform="rotate(186.8)"/>
<rect x="134" y="-1.4" width="24" height="2.8" rx="1.4" opacity="0.7" transform="rotate(158.2)"/>
<rect x="125" y="-1.1" width="33" height="2.3" rx="1.1" opacity="0.7" transform="rotate(335.8)"/>
<rect x="130" y="-1.3" width="29" height="2.6" rx="1.3" opacity="0.7" transform="rotate(291.6)"/>
<rect x="136" y="-1.5" width="24" height="2.9" rx="1.5" opacity="0.4" transform="rotate(25.6)"/>
<rect x="125" y="-1.0" width="35" height="2.1" rx="1.0" opacity="0.8" transform="rotate(103.6)"/>
<rect x="123" y="-1.1" width="37" height="2.3" rx="1.1" opacity="0.4" transform="rotate(217.7)"/>
<rect x="119" y="-1.4" width="42" height="2.9" rx="1.4" opacity="0.9" transform="rotate(349.1)"/>
<rect x="125" y="-1.4" width="36" height="2.8" rx="1.4" opacity="0.4" transform="rotate(122.2)"/>
<rect x="140" y="-1.1" width="21" height="2.1" rx="1.1" opacity="0.9" transform="rotate(350.2)"/>
<rect x="118" y="-1.3" width="43" height="2.6" rx="1.3" opacity="0.7" transform="rotate(159.7)"/>
<rect x="123" y="-1.2" width="39" height="2.4" rx="1.2" opacity="0.7" transform="rotate(127.8)"/>
<rect x="126" y="-1.1" width="36" height="2.2" rx="1.1" opacity="0.4" transform="rotate(176.9)"/>
<rect x="136" y="-1.1" width="26" height="2.3" rx="1.1" opacity="0.6" transform="rotate(47.9)"/>
<rect x="127" y="-1.4" width="35" height="2.8" rx="1.4" opacity="0.5" transform="rotate(209.8)"/>
<rect x="116" y="-1.2" width="46" height="2.3" rx="1.2" opacity="0.6" transform="rotate(26.0)"/>
<rect x="136" y="-1.4" width="26" height="2.8" rx="1.4" opacity="0.4" transform="rotate(77.4)"/>
<rect x="130" y="-1.1" width="32" height="2.3" rx="1.1" opacity="0.8" transform="rotate(237.4)"/>
<rect x="136" y="-1.1" width="26" height="2.3" rx="1.1" opacity="0.4" transform="rotate(353.0)"/>
<rect x="122" y="-1.1" width="41" height="2.2" rx="1.1" opacity="0.9" transform="rotate(146.4)"/>
<rect x="122" y="-1.2" width="41" height="2.4" rx="1.2" opacity="0.5" transform="rotate(257.1)"/>
<rect x="116" y="-1.4" width="46" height="2.9" rx="1.4" opacity="0.5" transform="rotate(307.9)"/>
<rect x="124" y="-1.4" width="39" height="2.8" rx="1.4" opacity="0.7" transform="rotate(42.3)"/>
<rect x="134" y="-1.6" width="29" height="3.2" rx="1.6" opacity="0.8" transform="rotate(2.0)"/>
<rect x="136" y="-1.1" width="28" height="2.3" rx="1.1" opacity="0.8" transform="rotate(338.3)"/>
<rect x="137" y="-1.4" width="27" height="2.8" rx="1.4" opacity="0.8" transform="rotate(342.3)"/>
<rect x="118" y="-1.3" width="47" height="2.6" rx="1.3" opacity="0.7" transform="rotate(253.2)"/>
<rect x="141" y="-1.6" width="25" height="3.2" rx="1.6" opacity="0.8" transform="rotate(44.4)"/>
<rect x="134" y="-1.5" width="32" height="3.1" rx="1.5" opacity="0.5" transform="rotate(66.4)"/>
<rect x="123" y="-1.1" width="44" height="2.1" rx="1.1" opacity="0.7" transform="rotate(196.2)"/>
<rect x="133" y="-1.3" width="34" height="2.6" rx="1.3" opacity="0.7" transform="rotate(261.3)"/>
<rect x="141" y="-1.6" width="26" height="3.2" rx="1.6" opacity="0.6" transform="rotate(315.9)"/>
<rect x="134" y="-1.5" width="33" height="3.0" rx="1.5" opacity="0.5" transform="rotate(147.4)"/>
<rect x="126" y="-1.2" width="42" height="2.4" rx="1.2" opacity="0.9" transform="rotate(111.2)"/>
<rect x="134" y="-1.2" width="34" height="2.5" rx="1.2" opacity="0.9" transform="rotate(353.3)"/>
<rect x="134" y="-1.3" width="35" height="2.6" rx="1.3" opacity="0.9" transform="rotate(86.3)"/>
<rect x="134" y="-1.1" width="34" height="2.2" rx="1.1" opacity="0.7" transform="rotate(180.9)"/>
<rect x="122" y="-1.3" width="47" height="2.7" rx="1.3" opacity="0.4" transform="rotate(96.3)"/>
<rect x="123" y="-1.2" width="47" height="2.5" rx="1.2" opacity="0.7" transform="rotate(85.3)"/>
<rect x="125" y="-1.4" width="44" height="2.8" rx="1.4" opacity="0.6" transform="rotate(141.3)"/>
<rect x="125" y="-1.2" width="45" height="2.4" rx="1.2" opacity="0.8" transform="rotate(83.7)"/>
<rect x="130" y="-1.1" width="39" height="2.3" rx="1.1" opacity="0.4" transform="rotate(349.9)"/>
<rect x="143" y="-1.5" width="27" height="2.9" rx="1.5" opacity="0.5" transform="rotate(186.4)"/>
<rect x="128" y="-1.3" width="42" height="2.6" rx="1.3" opacity="0.9" transform="rotate(28.4)"/>
<rect x="127" y="-1.5" width="43" height="3.0" rx="1.5" opacity="0.6" transform="rotate(330.9)"/>
<rect x="134" y="-1.4" width="37" height="2.7" rx="1.4" opacity="0.6" transform="rotate(316.8)"/>
<rect x="144" y="-1.1" width="28" height="2.2" rx="1.1" opacity="0.4" transform="rotate(124.6)"/>
<rect x="130" y="-1.5" width="41" height="2.9" rx="1.5" opacity="0.8" transform="rotate(298.2)"/>
<rect x="134" y="-1.2" width="38" height="2.5" rx="1.2" opacity="0.7" transform="rotate(22.6)"/>
<rect x="128" y="-1.2" width="45" height="2.4" rx="1.2" opacity="0.7" transform="rotate(183.1)"/>
<rect x="148" y="-1.2" width="24" height="2.5" rx="1.2" opacity="0.9" transform="rotate(131.8)"/>
<rect x="147" y="-1.1" width="25" height="2.2" rx="1.1" opacity="0.8" transform="rotate(314.1)"/>
<rect x="147" y="-1.3" width="25" height="2.7" rx="1.3" opacity="0.9" transform="rotate(22.2)"/>
<rect x="133" y="-1.6" width="40" height="3.3" rx="1.6" opacity="0.6" transform="rotate(282.1)"/>
<rect x="145" y="-1.3" width="28" height="2.6" rx="1.3" opacity="0.4" transform="rotate(284.4)"/>
<rect x="137" y="-1.2" width="35" height="2.3" rx="1.2" opacity="0.9" transform="rotate(326.1)"/>
<rect x="134" y="-1.2" width="39" height="2.4" rx="1.2" opacity="0.9" transform="rotate(98.9)"/>
<rect x="128" y="-1.2" width="45" height="2.5" rx="1.2" opacity="0.5" transform="rotate(48.1)"/>
<rect x="138" y="-1.3" width="36" height="2.7" rx="1.3" opacity="0.5" transform="rotate(128.7)"/>
<rect x="135" y="-1.6" width="39" height="3.3" rx="1.6" opacity="0.8" transform="rotate(356.1)"/>
<rect x="149" y="-1.6" width="25" height="3.1" rx="1.6" opacity="0.8" transform="rotate(114.3)"/>
<rect x="134" y="-1.5" width="40" height="3.0" rx="1.5" opacity="0.9" transform="rotate(16.7)"/>
<rect x="149" y="-1.2" width="26" height="2.4" rx="1.2" opacity="0.9" transform="rotate(20.1)"/>
<rect x="132" y="-1.1" width="43" height="2.2" rx="1.1" opacity="0.8" transform="rotate(346.6)"/>
<rect x="144" y="-1.5" width="31" height="3.1" rx="1.5" opacity="0.9" transform="rotate(16.9)"/>
<rect x="135" y="-1.4" width="41" height="2.9" rx="1.4" opacity="0.9" transform="rotate(73.8)"/>
<rect x="131" y="-1.4" width="45" height="2.7" rx="1.4" opacity="0.4" transform="rotate(50.0)"/>
<rect x="132" y="-1.3" width="43" height="2.6" rx="1.3" opacity="0.6" transform="rotate(132.3)"/>
<rect x="147" y="-1.3" width="29" height="2.6" rx="1.3" opacity="0.7" transform="rotate(303.3)"/>
<rect x="133" y="-1.3" width="43" height="2.5" rx="1.3" opacity="0.9" transform="rotate(131.4)"/>
<rect x="143" y="-1.7" width="34" height="3.4" rx="1.7" opacity="0.6" transform="rotate(42.7)"/>
<rect x="140" y="-1.6" width="37" height="3.2" rx="1.6" opacity="0.6" transform="rotate(301.1)"/>
<rect x="152" y="-1.4" width="25" height="2.7" rx="1.4" opacity="0.4" transform="rotate(195.3)"/>
<rect x="140" y="-1.6" width="37" height="3.2" rx="1.6" opacity="0.9" transform="rotate(4.0)"/>
<rect x="130" y="-1.2" width="47" height="2.5" rx="1.2" opacity="0.4" transform="rotate(132.4)"/>
<rect x="145" y="-1.5" width="32" height="3.1" rx="1.5" opacity="0.7" transform="rotate(161.7)"/>
<rect x="138" y="-1.5" width="40" height="3.0" rx="1.5" opacity="0.7" transform="rotate(205.3)"/>
<rect x="147" y="-1.1" width="31" height="2.2" rx="1.1" opacity="0.5" transform="rotate(30.6)"/>
<rect x="144" y="-1.4" width="34" height="2.8" rx="1.4" opacity="0.7" transform="rotate(110.8)"/>
<rect x="155" y="-1.5" width="24" height="3.1" rx="1.5" opacity="0.6" transform="rotate(237.9)"/>
<rect x="153" y="-1.2" width="26" height="2.5" rx="1.2" opacity="0.9" transform="rotate(9.7)"/>
<rect x="139" y="-1.7" width="40" height="3.4" rx="1.7" opacity="0.4" transform="rotate(178.4)"/>
<rect x="137" y="-1.7" width="43" height="3.4" rx="1.7" opacity="0.9" transform="rotate(45.2)"/>
<rect x="133" y="-1.1" width="47" height="2.2" rx="1.1" opacity="0.7" transform="rotate(261.7)"/>
<rect x="136" y="-1.6" width="44" height="3.3" rx="1.6" opacity="0.8" transform="rotate(2.1)"/>
<rect x="155" y="-1.1" width="25" height="2.3" rx="1.1" opacity="0.7" transform="rotate(92.6)"/>
<rect x="143" y="-1.6" width="38" height="3.2" rx="1.6" opacity="0.5" transform="rotate(222.8)"/>
<rect x="150" y="-1.3" width="31" height="2.6" rx="1.3" opacity="0.6" transform="rotate(182.0)"/>
<rect x="149" y="-1.4" width="33" height="2.7" rx="1.4" opacity="0.7" transform="rotate(262.0)"/>
<rect x="140" y="-1.2" width="42" height="2.5" rx="1.2" opacity="0.7" transform="rotate(22.7)"/>
<rect x="137" y="-1.5" width="45" height="2.9" rx="1.5" opacity="0.7" transform="rotate(11.7)"/>
<rect x="155" y="-1.4" width="28" height="2.8" rx="1.4" opacity="0.5" transform="rotate(173.3)"/>
<rect x="140" y="-1.2" width="43" height="2.4" rx="1.2" opacity="0.4" transform="rotate(96.8)"/>
<rect x="158" y="-1.5" width="24" height="2.9" rx="1.5" opacity="0.4" transform="rotate(321.7)"/>
<rect x="142" y="-1.2" width="41" height="2.4" rx="1.2" opacity="0.5" transform="rotate(295.1)"/>
<rect x="154" y="-1.2" width="29" height="2.3" rx="1.2" opacity="0.7" transform="rotate(103.8)"/>
<rect x="138" y="-1.6" width="47" height="3.2" rx="1.6" opacity="0.7" transform="rotate(189.4)"/>
<rect x="155" y="-1.3" width="30" height="2.6" rx="1.3" opacity="0.7" transform="rotate(237.4)"/>
<rect x="156" y="-1.7" width="29" height="3.3" rx="1.7" opacity="0.8" transform="rotate(6.2)"/>
<rect x="136" y="-1.7" width="50" height="3.4" rx="1.7" opacity="0.5" transform="rotate(29.2)"/>
<rect x="147" y="-1.5" width="39" height="3.0" rx="1.5" opacity="0.8" transform="rotate(162.3)"/>
<rect x="153" y="-1.6" width="33" height="3.2" rx="1.6" opacity="0.7" transform="rotate(7.1)"/>
<rect x="163" y="-1.6" width="24" height="3.2" rx="1.6" opacity="0.9" transform="rotate(335.2)"/>
<rect x="134" y="-1.2" width="53" height="2.4" rx="1.2" opacity="0.8" transform="rotate(226.7)"/>
<rect x="156" y="-1.7" width="31" height="3.4" rx="1.7" opacity="0.7" transform="rotate(305.7)"/>
<rect x="157" y="-1.6" width="30" height="3.3" rx="1.6" opacity="0.4" transform="rotate(43.0)"/>
<rect x="138" y="-1.5" width="49" height="3.1" rx="1.5" opacity="0.8" transform="rotate(84.3)"/>
<rect x="140" y="-1.3" width="46" height="2.5" rx="1.3" opacity="0.6" transform="rotate(67.0)"/>
<rect x="141" y="-1.6" width="46" height="3.3" rx="1.6" opacity="0.6" transform="rotate(342.1)"/>
<rect x="146" y="-1.1" width="41" height="2.3" rx="1.1" opacity="0.9" transform="rotate(199.7)"/>
<rect x="139" y="-1.3" width="49" height="2.5" rx="1.3" opacity="0.9" transform="rotate(292.8)"/>
<rect x="148" y="-1.2" width="39" height="2.4" rx="1.2" opacity="0.9" transform="rotate(16.3)"/>
<rect x="144" y="-1.2" width="44" height="2.4" rx="1.2" opacity="0.8" transform="rotate(164.6)"/>
<rect x="138" y="-1.7" width="50" height="3.4" rx="1.7" opacity="0.6" transform="rotate(153.9)"/>
<rect x="139" y="-1.3" width="49" height="2.6" rx="1.3" opacity="0.8" transform="rotate(355.8)"/>
<rect x="137" y="-1.2" width="51" height="2.5" rx="1.2" opacity="0.6" transform="rotate(325.1)"/>
<rect x="149" y="-1.1" width="39" height="2.2" rx="1.1" opacity="0.4" transform="rotate(263.9)"/>
<rect x="164" y="-1.6" width="24" height="3.2" rx="1.6" opacity="0.4" transform="rotate(287.6)"/>
<rect x="154" y="-1.4" width="35" height="2.8" rx="1.4" opacity="0.5" transform="rotate(151.8)"/>
<rect x="157" y="-1.3" width="32" height="2.6" rx="1.3" opacity="0.6" transform="rotate(86.1)"/>
<rect x="140" y="-1.1" width="49" height="2.3" rx="1.1" opacity="0.9" transform="rotate(358.7)"/>
<rect x="148" y="-1.6" width="41" height="3.2" rx="1.6" opacity="0.4" transform="rotate(60.2)"/>
<rect x="142" y="-1.2" width="47" height="2.4" rx="1.2" opacity="0.5" transform="rotate(14.4)"/>
<rect x="140" y="-1.7" width="49" height="3.5" rx="1.7" opacity="0.6" transform="rotate(4.3)"/>
<rect x="148" y="-1.8" width="42" height="3.5" rx="1.8" opacity="0.7" transform="rotate(51.5)"/>
<rect x="152" y="-1.5" width="37" height="3.0" rx="1.5" opacity="0.5" transform="rotate(152.6)"/>
<rect x="165" y="-1.3" width="25" height="2.5" rx="1.3" opacity="0.4" transform="rotate(37.6)"/>
<rect x="146" y="-1.5" width="44" height="3.0" rx="1.5" opacity="0.9" transform="rotate(247.2)"/>
<rect x="143" y="-1.4" width="47" height="2.9" rx="1.4" opacity="0.5" transform="rotate(125.7)"/>
<rect x="158" y="-1.2" width="32" height="2.4" rx="1.2" opacity="0.4" transform="rotate(96.2)"/>
<rect x="145" y="-1.3" width="45" height="2.5" rx="1.3" opacity="0.8" transform="rotate(23.5)"/>
<rect x="149" y="-1.4" width="42" height="2.8" rx="1.4" opacity="0.6" transform="rotate(62.2)"/>
<rect x="156" y="-1.1" width="35" height="2.3" rx="1.1" opacity="0.8" transform="rotate(269.4)"/>
<rect x="145" y="-1.4" width="45" height="2.7" rx="1.4" opacity="0.5" transform="rotate(52.1)"/>
<rect x="156" y="-1.5" width="35" height="3.1" rx="1.5" opacity="0.4" transform="rotate(38.8)"/>
<rect x="159" y="-1.7" width="32" height="3.3" rx="1.7" opacity="0.9" transform="rotate(64.7)"/>
<rect x="147" y="-1.3" width="45" height="2.7" rx="1.3" opacity="0.8" transform="rotate(283.4)"/>
<rect x="140" y="-1.1" width="51" height="2.3" rx="1.1" opacity="0.9" transform="rotate(166.5)"/>
<rect x="149" y="-1.2" width="43" height="2.4" rx="1.2" opacity="0.8" transform="rotate(248.5)"/>
<rect x="145" y="-1.6" width="47" height="3.2" rx="1.6" opacity="0.5" transform="rotate(208.9)"/>
<rect x="165" y="-1.4" width="27" height="2.8" rx="1.4" opacity="0.9" transform="rotate(313.8)"/>
<rect x="163" y="-1.5" width="29" height="3.0" rx="1.5" opacity="0.5" transform="rotate(356.2)"/>
<rect x="160" y="-1.4" width="33" height="2.7" rx="1.4" opacity="0.5" transform="rotate(279.1)"/>
<rect x="151" y="-1.3" width="42" height="2.5" rx="1.3" opacity="0.7" transform="rotate(220.9)"/>
<rect x="144" y="-1.5" width="48" height="3.0" rx="1.5" opacity="0.9" transform="rotate(151.3)"/>
<rect x="153" y="-1.6" width="40" height="3.2" rx="1.6" opacity="0.6" transform="rotate(46.9)"/>
<rect x="144" y="-1.6" width="49" height="3.2" rx="1.6" opacity="0.7" transform="rotate(314.1)"/>
<rect x="147" y="-1.5" width="46" height="3.0" rx="1.5" opacity="0.5" transform="rotate(285.4)"/>
<rect x="148" y="-1.6" width="45" height="3.1" rx="1.6" opacity="0.9" transform="rotate(329.1)"/>
<rect x="168" y="-1.1" width="26" height="2.3" rx="1.1" opacity="0.5" transform="rotate(260.0)"/>
<rect x="150" y="-1.8" width="44" height="3.6" rx="1.8" opacity="0.6" transform="rotate(326.4)"/>
<rect x="143" y="-1.2" width="50" height="2.4" rx="1.2" opacity="0.8" transform="rotate(130.4)"/>
<rect x="164" y="-1.2" width="30" height="2.3" rx="1.2" opacity="0.6" transform="rotate(252.9)"/>
<rect x="155" y="-1.6" width="39" height="3.2" rx="1.6" opacity="0.8" transform="rotate(351.7)"/>
<rect x="149" y="-1.8" width="45" height="3.6" rx="1.8" opacity="0.9" transform="rotate(299.0)"/>
<rect x="145" y="-1.2" width="50" height="2.4" rx="1.2" opacity="0.8" transform="rotate(345.7)"/>
<rect x="154" y="-1.8" width="41" height="3.5" rx="1.8" opacity="0.8" transform="rotate(334.1)"/>
<rect x="154" y="-1.3" width="41" height="2.7" rx="1.3" opacity="0.4" transform="rotate(119.7)"/>
<rect x="162" y="-1.8" width="33" height="3.6" rx="1.8" opacity="0.5" transform="rotate(106.4)"/>
<rect x="145" y="-1.6" width="50" height="3.2" rx="1.6" opacity="0.6" transform="rotate(265.9)"/>
<rect x="168" y="-1.7" width="27" height="3.4" rx="1.7" opacity="0.4" transform="rotate(137.3)"/>
<rect x="153" y="-1.5" width="42" height="2.9" rx="1.5" opacity="0.6" transform="rotate(12.4)"/>
<rect x="155" y="-1.5" width="40" height="3.0" rx="1.5" opacity="0.5" transform="rotate(333.8)"/>
<rect x="155" y="-1.3" width="41" height="2.5" rx="1.3" opacity="0.4" transform="rotate(279.5)"/>
<rect x="140" y="-1.3" width="56" height="2.6" rx="1.3" opacity="0.4" transform="rotate(341.9)"/>
<rect x="141" y="-1.5" width="56" height="3.0" rx="1.5" opacity="0.8" transform="rotate(77.9)"/>
<rect x="151" y="-1.4" width="46" height="2.8" rx="1.4" opacity="0.5" transform="rotate(300.8)"/>
<rect x="167" y="-1.8" width="30" height="3.6" rx="1.8" opacity="0.5" transform="rotate(203.4)"/>
<rect x="142" y="-1.5" width="54" height="3.1" rx="1.5" opacity="0.6" transform="rotate(172.9)"/>
<rect x="152" y="-1.3" width="45" height="2.6" rx="1.3" opacity="0.7" transform="rotate(347.2)"/>
<rect x="154" y="-1.4" width="43" height="2.7" rx="1.4" opacity="0.9" transform="rotate(105.0)"/>
<rect x="170" y="-1.6" width="27" height="3.2" rx="1.6" opacity="0.8" transform="rotate(273.7)"/>
<rect x="160" y="-1.2" width="37" height="2.4" rx="1.2" opacity="0.7" transform="rotate(277.1)"/>
<rect x="154" y="-1.2" width="43" height="2.4" rx="1.2" opacity="0.9" transform="rotate(310.7)"/>
<rect x="152" y="-1.4" width="46" height="2.8" rx="1.4" opacity="0.8" transform="rotate(335.1)"/>
<rect x="162" y="-1.4" width="36" height="2.8" rx="1.4" opacity="0.7" transform="rotate(248.5)"/>
<rect x="145" y="-1.4" width="53" height="2.8" rx="1.4" opacity="0.4" transform="rotate(213.6)"/>
<rect x="170" y="-1.4" width="28" height="2.9" rx="1.4" opacity="0.5" transform="rotate(237.3)"/>
<rect x="170" y="-1.2" width="29" height="2.4" rx="1.2" opacity="0.4" transform="rotate(13.7)"/>
<rect x="163" y="-1.3" width="36" height="2.6" rx="1.3" opacity="0.4" transform="rotate(257.2)"/>
<rect x="168" y="-1.4" width="32" height="2.7" rx="1.4" opacity="0.8" transform="rotate(172.7)"/>
<rect x="171" y="-1.5" width="28" height="3.0" rx="1.5" opacity="0.7" transform="rotate(145.4)"/>
<rect x="166" y="-1.6" width="33" height="3.2" rx="1.6" opacity="0.7" transform="rotate(224.7)"/>
<rect x="152" y="-1.5" width="48" height="3.1" rx="1.5" opacity="0.8" transform="rotate(217.0)"/>
<rect x="146" y="-1.7" width="54" height="3.3" rx="1.7" opacity="0.9" transform="rotate(280.9)"/>
<rect x="173" y="-1.2" width="27" height="2.4" rx="1.2" opacity="0.8" transform="rotate(343.5)"/>
<rect x="147" y="-1.7" width="53" height="3.4" rx="1.7" opacity="0.7" transform="rotate(112.7)"/>
<rect x="164" y="-1.2" width="36" height="2.5" rx="1.2" opacity="0.6" transform="rotate(141.5)"/>
<rect x="162" y="-1.9" width="38" height="3.7" rx="1.9" opacity="0.9" transform="rotate(106.9)"/>
<rect x="147" y="-1.4" width="53" height="2.9" rx="1.4" opacity="0.8" transform="rotate(337.1)"/>
<rect x="149" y="-1.8" width="52" height="3.6" rx="1.8" opacity="0.8" transform="rotate(149.3)"/>
<rect x="148" y="-1.4" width="53" height="2.8" rx="1.4" opacity="0.9" transform="rotate(310.2)"/>
<rect x="170" y="-1.6" width="31" height="3.2" rx="1.6" opacity="0.9" transform="rotate(312.6)"/>
<rect x="153" y="-1.2" width="49" height="2.3" rx="1.2" opacity="0.5" transform="rotate(350.2)"/>
<rect x="162" y="-1.3" width="39" height="2.7" rx="1.3" opacity="0.4" transform="rotate(219.0)"/>
<rect x="164" y="-1.8" width="38" height="3.6" rx="1.8" opacity="0.6" transform="rotate(181.8)"/>
<rect x="160" y="-1.4" width="42" height="2.8" rx="1.4" opacity="0.4" transform="rotate(310.9)"/>
<rect x="165" y="-1.4" width="37" height="2.7" rx="1.4" opacity="0.7" transform="rotate(118.0)"/>
<rect x="158" y="-1.6" width="45" height="3.2" rx="1.6" opacity="0.8" transform="rotate(0.4)"/>
<rect x="153" y="-1.5" width="50" height="3.0" rx="1.5" opacity="0.4" transform="rotate(327.6)"/>
<rect x="169" y="-1.7" width="34" height="3.3" rx="1.7" opacity="0.7" transform="rotate(284.7)"/>
<rect x="168" y="-1.3" width="35" height="2.5" rx="1.3" opacity="0.7" transform="rotate(129.9)"/>
<rect x="168" y="-1.6" width="35" height="3.2" rx="1.6" opacity="0.7" transform="rotate(263.4)"/>
<rect x="167" y="-1.7" width="36" height="3.4" rx="1.7" opacity="0.6" transform="rotate(334.9)"/>
<rect x="152" y="-1.4" width="52" height="2.8" rx="1.4" opacity="0.4" transform="rotate(23.7)"/>
<rect x="146" y="-1.6" width="58" height="3.3" rx="1.6" opacity="0.4" transform="rotate(340.9)"/>
<rect x="162" y="-1.3" width="42" height="2.6" rx="1.3" opacity="0.5" transform="rotate(307.5)"/>
<rect x="150" y="-1.8" width="53" height="3.6" rx="1.8" opacity="0.9" transform="rotate(62.8)"/>
<rect x="171" y="-1.4" width="33" height="2.8" rx="1.4" opacity="0.6" transform="rotate(237.9)"/>
<rect x="171" y="-1.9" width="33" height="3.7" rx="1.9" opacity="0.6" transform="rotate(234.0)"/>
<rect x="155" y="-1.4" width="49" height="2.8" rx="1.4" opacity="0.9" transform="rotate(50.0)"/>
<rect x="159" y="-1.6" width="46" height="3.2" rx="1.6" opacity="0.8" transform="rotate(350.8)"/>
<rect x="157" y="-1.8" width="48" height="3.6" rx="1.8" opacity="0.9" transform="rotate(211.1)"/>
<rect x="163" y="-1.2" width="42" height="2.4" rx="1.2" opacity="0.4" transform="rotate(237.6)"/>
<rect x="158" y="-1.5" width="47" height="3.0" rx="1.5" opacity="0.6" transform="rotate(56.2)"/>
<rect x="165" y="-1.8" width="40" height="3.5" rx="1.8" opacity="0.4" transform="rotate(130.5)"/>
<rect x="168" y="-1.2" width="36" height="2.3" rx="1.2" opacity="0.4" transform="rotate(123.4)"/>
<rect x="154" y="-1.6" width="51" height="3.3" rx="1.6" opacity="0.7" transform="rotate(342.0)"/>
<rect x="166" y="-1.6" width="39" height="3.3" rx="1.6" opacity="0.7" transform="rotate(209.0)"/>
<rect x="160" y="-1.3" width="45" height="2.6" rx="1.3" opacity="0.7" transform="rotate(142.2)"/>
<rect x="160" y="-1.5" width="46" height="3.1" rx="1.5" opacity="0.9" transform="rotate(122.5)"/>
<rect x="165" y="-1.2" width="41" height="2.5" rx="1.2" opacity="0.5" transform="rotate(336.5)"/>
<rect x="154" y="-1.2" width="52" height="2.4" rx="1.2" opacity="0.7" transform="rotate(90.6)"/>
<rect x="149" y="-1.3" width="57" height="2.6" rx="1.3" opacity="0.9" transform="rotate(152.3)"/>
<rect x="156" y="-1.7" width="51" height="3.4" rx="1.7" opacity="0.6" transform="rotate(352.0)"/>
<rect x="154" y="-1.6" width="53" height="3.1" rx="1.6" opacity="0.8" transform="rotate(12.3)"/>
<rect x="180" y="-1.7" width="27" height="3.4" rx="1.7" opacity="0.9" transform="rotate(52.5)"/>
<rect x="162" y="-1.9" width="46" height="3.8" rx="1.9" opacity="0.5" transform="rotate(340.1)"/>
<rect x="177" y="-1.4" width="31" height="2.8" rx="1.4" opacity="0.4" transform="rotate(335.8)"/>
<rect x="171" y="-1.7" width="37" height="3.5" rx="1.7" opacity="0.7" transform="rotate(228.3)"/>
<rect x="150" y="-1.5" width="58" height="3.0" rx="1.5" opacity="0.5" transform="rotate(103.9)"/>
<rect x="155" y="-1.6" width="53" height="3.2" rx="1.6" opacity="0.7" transform="rotate(21.1)"/>
<rect x="176" y="-1.6" width="32" height="3.2" rx="1.6" opacity="0.8" transform="rotate(283.4)"/>
<rect x="150" y="-1.8" width="58" height="3.7" rx="1.8" opacity="0.5" transform="rotate(235.7)"/>
<rect x="151" y="-1.9" width="57" height="3.7" rx="1.9" opacity="0.4" transform="rotate(246.3)"/>
<rect x="167" y="-1.6" width="42" height="3.3" rx="1.6" opacity="0.7" transform="rotate(229.9)"/>
<rect x="159" y="-1.5" width="50" height="3.1" rx="1.5" opacity="0.7" transform="rotate(90.8)"/>
<rect x="173" y="-1.4" width="36" height="2.8" rx="1.4" opacity="0.4" transform="rotate(74.2)"/>
<rect x="179" y="-1.8" width="30" height="3.7" rx="1.8" opacity="0.4" transform="rotate(213.8)"/>
<rect x="162" y="-1.6" width="47" height="3.2" rx="1.6" opacity="0.8" transform="rotate(127.5)"/>
<rect x="176" y="-1.5" width="34" height="3.0" rx="1.5" opacity="0.7" transform="rotate(59.2)"/>
<rect x="171" y="-1.8" width="39" height="3.5" rx="1.8" opacity="0.8" transform="rotate(148.9)"/>
<rect x="156" y="-1.6" width="54" height="3.2" rx="1.6" opacity="0.9" transform="rotate(160.4)"/>
<rect x="152" y="-1.2" width="58" height="2.4" rx="1.2" opacity="0.4" transform="rotate(61.8)"/>
<rect x="173" y="-1.5" width="37" height="3.1" rx="1.5" opacity="0.6" transform="rotate(54.4)"/>
<rect x="154" y="-1.4" width="57" height="2.9" rx="1.4" opacity="0.5" transform="rotate(245.1)"/>
<rect x="163" y="-1.4" width="48" height="2.8" rx="1.4" opacity="0.7" transform="rotate(301.6)"/>
<rect x="156" y="-1.9" width="54" height="3.8" rx="1.9" opacity="0.7" transform="rotate(0.2)"/>
<rect x="176" y="-1.5" width="35" height="2.9" rx="1.5" opacity="0.5" transform="rotate(202.5)"/>
<rect x="161" y="-1.2" width="51" height="2.5" rx="1.2" opacity="0.8" transform="rotate(290.5)"/>
<rect x="178" y="-1.2" width="34" height="2.5" rx="1.2" opacity="0.7" transform="rotate(295.3)"/>
<rect x="158" y="-1.9" width="54" height="3.8" rx="1.9" opacity="0.7" transform="rotate(195.7)"/>
<rect x="160" y="-1.5" width="52" height="3.1" rx="1.5" opacity="0.6" transform="rotate(308.8)"/>
<rect x="156" y="-1.8" width="56" height="3.7" rx="1.8" opacity="0.9" transform="rotate(283.7)"/>
<rect x="180" y="-1.4" width="32" height="2.7" rx="1.4" opacity="0.4" transform="rotate(320.5)"/>
<rect x="157" y="-1.4" width="55" height="2.8" rx="1.4" opacity="0.6" transform="rotate(334.0)"/>
<rect x="179" y="-1.9" width="33" height="3.8" rx="1.9" opacity="0.4" transform="rotate(30.8)"/>
<rect x="160" y="-1.9" width="53" height="3.8" rx="1.9" opacity="0.8" transform="rotate(3.2)"/>
<rect x="167" y="-1.4" width="45" height="2.7" rx="1.4" opacity="0.6" transform="rotate(33.1)"/>
<rect x="183" y="-1.2" width="29" height="2.5" rx="1.2" opacity="0.8" transform="rotate(93.7)"/>
<rect x="170" y="-1.7" width="43" height="3.4" rx="1.7" opacity="0.8" transform="rotate(76.9)"/>
<rect x="180" y="-1.8" width="32" height="3.6" rx="1.8" opacity="0.7" transform="rotate(332.1)"/>
<rect x="158" y="-1.2" width="55" height="2.4" rx="1.2" opacity="0.7" transform="rotate(345.5)"/>
<rect x="183" y="-1.3" width="30" height="2.5" rx="1.3" opacity="0.5" transform="rotate(104.7)"/>
<rect x="157" y="-1.8" width="56" height="3.7" rx="1.8" opacity="0.9" transform="rotate(211.2)"/>
<rect x="172" y="-1.9" width="41" height="3.7" rx="1.9" opacity="0.5" transform="rotate(100.5)"/>
<rect x="178" y="-1.4" width="35" height="2.9" rx="1.4" opacity="0.9" transform="rotate(291.2)"/>
<rect x="166" y="-1.4" width="48" height="2.9" rx="1.4" opacity="0.6" transform="rotate(239.3)"/>
<rect x="163" y="-1.5" width="50" height="3.0" rx="1.5" opacity="0.9" transform="rotate(172.4)"/>
<rect x="166" y="-1.5" width="47" height="3.0" rx="1.5" opacity="0.8" transform="rotate(217.1)"/>
<rect x="167" y="-1.5" width="47" height="3.1" rx="1.5" opacity="0.6" transform="rotate(196.7)"/>
<rect x="182" y="-1.2" width="33" height="2.5" rx="1.2" opacity="0.9" transform="rotate(105.8)"/>
<rect x="180" y="-1.4" width="34" height="2.8" rx="1.4" opacity="0.9" transform="rotate(250.1)"/>
<rect x="187" y="-1.6" width="28" height="3.2" rx="1.6" opacity="0.5" transform="rotate(12.5)"/>
<rect x="159" y="-1.2" width="56" height="2.5" rx="1.2" opacity="0.4" transform="rotate(299.1)"/>
<rect x="176" y="-1.7" width="39" height="3.3" rx="1.7" opacity="0.4" transform="rotate(286.3)"/>
<rect x="180" y="-1.6" width="35" height="3.3" rx="1.6" opacity="0.5" transform="rotate(146.2)"/>
<rect x="186" y="-1.6" width="30" height="3.3" rx="1.6" opacity="0.4" transform="rotate(65.9)"/>
<rect x="186" y="-1.4" width="29" height="2.9" rx="1.4" opacity="0.8" transform="rotate(124.1)"/>
<rect x="165" y="-1.5" width="51" height="3.0" rx="1.5" opacity="0.8" transform="rotate(263.5)"/>
<rect x="164" y="-1.6" width="52" height="3.3" rx="1.6" opacity="0.8" transform="rotate(342.1)"/>
<rect x="186" y="-1.6" width="30" height="3.1" rx="1.6" opacity="0.7" transform="rotate(283.8)"/>
<rect x="158" y="-1.5" width="58" height="3.0" rx="1.5" opacity="0.4" transform="rotate(359.3)"/>
<rect x="155" y="-1.7" width="61" height="3.4" rx="1.7" opacity="0.7" transform="rotate(31.7)"/>
<rect x="159" y="-1.9" width="57" height="3.9" rx="1.9" opacity="0.9" transform="rotate(2.8)"/>
<rect x="163" y="-1.3" width="54" height="2.6" rx="1.3" opacity="0.5" transform="rotate(165.4)"/>
<rect x="176" y="-1.5" width="42" height="3.1" rx="1.5" opacity="0.8" transform="rotate(45.5)"/>
<rect x="187" y="-1.8" width="31" height="3.6" rx="1.8" opacity="0.6" transform="rotate(284.1)"/>
<rect x="157" y="-1.4" width="61" height="2.7" rx="1.4" opacity="0.4" transform="rotate(143.9)"/>
<rect x="187" y="-1.6" width="31" height="3.3" rx="1.6" opacity="0.8" transform="rotate(149.9)"/>
<rect x="161" y="-1.7" width="57" height="3.4" rx="1.7" opacity="0.9" transform="rotate(287.1)"/>
<rect x="189" y="-1.7" width="29" height="3.5" rx="1.7" opacity="0.5" transform="rotate(291.9)"/>
<rect x="185" y="-1.5" width="34" height="3.1" rx="1.5" opacity="0.4" transform="rotate(162.1)"/>
<rect x="187" y="-1.7" width="32" height="3.4" rx="1.7" opacity="0.9" transform="rotate(201.3)"/>
<rect x="187" y="-1.9" width="33" height="3.7" rx="1.9" opacity="0.9" transform="rotate(198.5)"/>
<rect x="191" y="-1.8" width="28" height="3.5" rx="1.8" opacity="0.6" transform="rotate(108.4)"/>
<rect x="179" y="-1.8" width="41" height="3.6" rx="1.8" opacity="0.9" transform="rotate(43.4)"/>
<rect x="166" y="-1.8" width="53" height="3.6" rx="1.8" opacity="0.4" transform="rotate(216.1)"/>
<rect x="175" y="-1.7" width="45" height="3.4" rx="1.7" opacity="0.9" transform="rotate(15.3)"/>
<rect x="187" y="-1.4" width="33" height="2.8" rx="1.4" opacity="0.4" transform="rotate(49.9)"/>
<rect x="193" y="-2.0" width="27" height="4.0" rx="2.0" opacity="0.7" transform="rotate(16.3)"/>
<rect x="186" y="-1.6" width="34" height="3.2" rx="1.6" opacity="0.4" transform="rotate(282.9)"/>
<rect x="167" y="-1.4" width="53" height="2.8" rx="1.4" opacity="0.5" transform="rotate(68.9)"/>
<rect x="174" y="-1.5" width="46" height="3.0" rx="1.5" opacity="0.7" transform="rotate(303.5)"/>
<rect x="191" y="-1.3" width="29" height="2.7" rx="1.3" opacity="0.5" transform="rotate(239.0)"/>
<rect x="190" y="-1.2" width="30" height="2.5" rx="1.2" opacity="0.5" transform="rotate(194.1)"/>
<rect x="166" y="-1.8" width="54" height="3.6" rx="1.8" opacity="0.7" transform="rotate(266.0)"/>
<rect x="192" y="-1.9" width="28" height="3.8" rx="1.9" opacity="0.7" transform="rotate(236.6)"/>
<rect x="183" y="-2.0" width="38" height="4.0" rx="2.0" opacity="0.6" transform="rotate(64.0)"/>
<rect x="188" y="-1.9" width="33" height="3.8" rx="1.9" opacity="0.6" transform="rotate(48.4)"/>
<rect x="170" y="-1.7" width="51" height="3.3" rx="1.7" opacity="0.7" transform="rotate(11.7)"/>
<rect x="185" y="-1.8" width="36" height="3.6" rx="1.8" opacity="0.7" transform="rotate(62.5)"/>
<rect x="181" y="-2.0" width="40" height="3.9" rx="2.0" opacity="0.5" transform="rotate(274.5)"/>
<rect x="160" y="-2.0" width="61" height="3.9" rx="2.0" opacity="0.8" transform="rotate(330.5)"/>
<rect x="178" y="-1.3" width="43" height="2.7" rx="1.3" opacity="0.9" transform="rotate(298.5)"/>
<rect x="189" y="-1.7" width="34" height="3.5" rx="1.7" opacity="0.5" transform="rotate(77.3)"/>
<rect x="170" y="-1.2" width="52" height="2.5" rx="1.2" opacity="0.9" transform="rotate(56.8)"/>
<rect x="180" y="-1.4" width="43" height="2.8" rx="1.4" opacity="0.9" transform="rotate(357.9)"/>
<rect x="171" y="-1.7" width="52" height="3.4" rx="1.7" opacity="0.8" transform="rotate(102.2)"/>
<rect x="192" y="-1.3" width="31" height="2.6" rx="1.3" opacity="0.4" transform="rotate(293.7)"/>
<rect x="171" y="-1.9" width="53" height="3.8" rx="1.9" opacity="0.9" transform="rotate(268.5)"/>
<rect x="184" y="-2.0" width="40" height="4.0" rx="2.0" opacity="0.5" transform="rotate(191.4)"/>
<rect x="175" y="-1.3" width="49" height="2.7" rx="1.3" opacity="0.9" transform="rotate(100.5)"/>
<rect x="170" y="-1.8" width="54" height="3.6" rx="1.8" opacity="0.4" transform="rotate(315.2)"/>
<rect x="162" y="-1.6" width="62" height="3.2" rx="1.6" opacity="0.4" transform="rotate(22.1)"/>
<rect x="164" y="-1.3" width="61" height="2.7" rx="1.3" opacity="0.6" transform="rotate(26.1)"/>
<rect x="166" y="-1.7" width="58" height="3.4" rx="1.7" opacity="0.6" transform="rotate(96.8)"/>
<rect x="188" y="-1.4" width="37" height="2.7" rx="1.4" opacity="0.5" transform="rotate(211.3)"/>
<rect x="183" y="-1.3" width="42" height="2.6" rx="1.3" opacity="0.5" transform="rotate(142.0)"/>
<rect x="197" y="-1.8" width="28" height="3.7" rx="1.8" opacity="0.4" transform="rotate(64.2)"/>
<rect x="175" y="-1.7" width="51" height="3.3" rx="1.7" opacity="0.7" transform="rotate(65.6)"/>
<rect x="167" y="-1.9" width="58" height="3.8" rx="1.9" opacity="0.7" transform="rotate(41.9)"/>
<rect x="167" y="-1.8" width="59" height="3.6" rx="1.8" opacity="0.6" transform="rotate(30.2)"/>
<rect x="179" y="-1.5" width="47" height="3.1" rx="1.5" opacity="0.5" transform="rotate(232.7)"/>
<rect x="188" y="-1.8" width="38" height="3.5" rx="1.8" opacity="0.5" transform="rotate(239.3)"/>
<rect x="184" y="-1.8" width="42" height="3.6" rx="1.8" opacity="0.6" transform="rotate(33.9)"/>
<rect x="168" y="-1.9" width="59" height="3.7" rx="1.9" opacity="0.4" transform="rotate(267.7)"/>
<rect x="189" y="-1.7" width="37" height="3.3" rx="1.7" opacity="0.7" transform="rotate(25.7)"/>
<rect x="170" y="-1.6" width="57" height="3.2" rx="1.6" opacity="0.4" transform="rotate(130.2)"/>
<rect x="187" y="-1.6" width="40" height="3.3" rx="1.6" opacity="0.7" transform="rotate(148.9)"/>
<rect x="167" y="-1.4" width="61" height="2.9" rx="1.4" opacity="0.6" transform="rotate(230.6)"/>
<rect x="184" y="-1.7" width="44" height="3.5" rx="1.7" opacity="0.8" transform="rotate(338.9)"/>
<rect x="189" y="-1.3" width="40" height="2.5" rx="1.3" opacity="0.9" transform="rotate(115.1)"/>
<rect x="180" y="-2.0" width="49" height="4.0" rx="2.0" opacity="0.9" transform="rotate(141.7)"/>
<rect x="194" y="-1.5" width="35" height="2.9" rx="1.5" opacity="0.5" transform="rotate(23.4)"/>
<rect x="200" y="-1.9" width="30" height="3.8" rx="1.9" opacity="0.6" transform="rotate(191.3)"/>
<rect x="189" y="-1.6" width="41" height="3.1" rx="1.6" opacity="0.7" transform="rotate(116.4)"/>
<rect x="190" y="-1.8" width="40" height="3.7" rx="1.8" opacity="0.7" transform="rotate(158.1)"/>
<rect x="169" y="-1.3" width="61" height="2.7" rx="1.3" opacity="0.4" transform="rotate(86.0)"/>
<rect x="167" y="-1.5" width="63" height="3.0" rx="1.5" opacity="0.6" transform="rotate(195.9)"/>
<rect x="199" y="-1.4" width="31" height="2.8" rx="1.4" opacity="0.4" transform="rotate(179.5)"/>
<rect x="181" y="-1.4" width="49" height="2.8" rx="1.4" opacity="0.7" transform="rotate(259.2)"/>
<rect x="191" y="-2.0" width="40" height="4.0" rx="2.0" opacity="0.4" transform="rotate(67.2)"/>
<rect x="182" y="-2.0" width="49" height="3.9" rx="2.0" opacity="0.5" transform="rotate(163.8)"/>
<rect x="186" y="-1.3" width="46" height="2.6" rx="1.3" opacity="0.5" transform="rotate(7.5)"/>
<rect x="191" y="-1.5" width="41" height="2.9" rx="1.5" opacity="0.6" transform="rotate(127.7)"/>
<rect x="187" y="-1.3" width="45" height="2.7" rx="1.3" opacity="0.8" transform="rotate(279.9)"/>
<rect x="169" y="-2.0" width="62" height="3.9" rx="2.0" opacity="0.7" transform="rotate(108.9)"/>
<rect x="190" y="-1.3" width="42" height="2.5" rx="1.3" opacity="0.5" transform="rotate(111.4)"/>
<rect x="177" y="-1.3" width="55" height="2.5" rx="1.3" opacity="0.6" transform="rotate(194.5)"/>
<rect x="173" y="-1.8" width="59" height="3.5" rx="1.8" opacity="0.4" transform="rotate(194.1)"/>
<rect x="191" y="-1.5" width="41" height="3.0" rx="1.5" opacity="0.5" transform="rotate(222.8)"/>
<rect x="172" y="-1.7" width="61" height="3.5" rx="1.7" opacity="0.6" transform="rotate(142.8)"/>
<rect x="174" y="-2.0" width="60" height="4.0" rx="2.0" opacity="0.5" transform="rotate(63.2)"/>
<rect x="199" y="-1.3" width="34" height="2.7" rx="1.3" opacity="0.5" transform="rotate(91.0)"/>
<rect x="173" y="-1.3" width="61" height="2.5" rx="1.3" opacity="0.7" transform="rotate(138.8)"/>
<rect x="190" y="-2.0" width="44" height="3.9" rx="2.0" opacity="0.7" transform="rotate(89.1)"/>
<rect x="190" y="-2.0" width="44" height="4.0" rx="2.0" opacity="0.9" transform="rotate(279.3)"/>
<rect x="196" y="-1.4" width="38" height="2.7" rx="1.4" opacity="0.9" transform="rotate(102.7)"/>
<rect x="192" y="-1.7" width="42" height="3.3" rx="1.7" opacity="0.4" transform="rotate(186.1)"/>
<rect x="194" y="-1.4" width="41" height="2.8" rx="1.4" opacity="0.5" transform="rotate(211.2)"/>
<rect x="206" y="-1.9" width="29" height="3.8" rx="1.9" opacity="0.9" transform="rotate(239.1)"/>
<rect x="186" y="-1.6" width="48" height="3.2" rx="1.6" opacity="0.5" transform="rotate(268.6)"/>
<rect x="198" y="-1.8" width="37" height="3.6" rx="1.8" opacity="0.8" transform="rotate(180.5)"/>
<rect x="203" y="-1.5" width="33" height="3.0" rx="1.5" opacity="0.6" transform="rotate(194.7)"/>
<rect x="185" y="-1.8" width="50" height="3.5" rx="1.8" opacity="0.8" transform="rotate(131.2)"/>
<rect x="204" y="-1.4" width="32" height="2.8" rx="1.4" opacity="0.9" transform="rotate(123.9)"/>
<rect x="178" y="-1.3" width="58" height="2.6" rx="1.3" opacity="0.8" transform="rotate(154.6)"/>
<rect x="205" y="-1.4" width="32" height="2.8" rx="1.4" opacity="0.7" transform="rotate(115.2)"/>
<rect x="195" y="-1.6" width="42" height="3.3" rx="1.6" opacity="0.7" transform="rotate(319.1)"/>
<rect x="187" y="-2.0" width="49" height="4.0" rx="2.0" opacity="0.6" transform="rotate(27.6)"/>
<rect x="198" y="-1.4" width="38" height="2.8" rx="1.4" opacity="0.7" transform="rotate(335.5)"/>
<rect x="206" y="-1.3" width="31" height="2.6" rx="1.3" opacity="0.6" transform="rotate(25.0)"/>
<rect x="181" y="-2.0" width="56" height="4.0" rx="2.0" opacity="0.7" transform="rotate(261.5)"/>
<rect x="205" y="-1.8" width="32" height="3.5" rx="1.8" opacity="0.6" transform="rotate(250.9)"/>
<rect x="192" y="-1.4" width="45" height="2.7" rx="1.4" opacity="0.5" transform="rotate(71.8)"/>
<rect x="177" y="-1.3" width="61" height="2.7" rx="1.3" opacity="0.7" transform="rotate(13.0)"/>
<rect x="186" y="-2.1" width="52" height="4.1" rx="2.1" opacity="0.4" transform="rotate(343.5)"/>
<rect x="177" y="-1.7" width="61" height="3.4" rx="1.7" opacity="0.4" transform="rotate(152.1)"/>
<rect x="200" y="-2.0" width="38" height="4.1" rx="2.0" opacity="0.4" transform="rotate(283.0)"/>
<rect x="206" y="-1.3" width="32" height="2.6" rx="1.3" opacity="0.6" transform="rotate(60.9)"/>
<rect x="180" y="-1.7" width="58" height="3.4" rx="1.7" opacity="0.4" transform="rotate(253.0)"/>
<rect x="200" y="-1.6" width="39" height="3.2" rx="1.6" opacity="0.4" transform="rotate(223.1)"/>
<rect x="189" y="-1.9" width="50" height="3.9" rx="1.9" opacity="0.5" transform="rotate(153.7)"/>
<rect x="184" y="-2.0" width="56" height="4.0" rx="2.0" opacity="0.9" transform="rotate(222.7)"/>
<rect x="185" y="-1.4" width="55" height="2.8" rx="1.4" opacity="0.6" transform="rotate(114.5)"/>
<rect x="175" y="-1.9" width="66" height="3.7" rx="1.9" opacity="0.8" transform="rotate(142.3)"/>
<rect x="194" y="-1.5" width="46" height="3.0" rx="1.5" opacity="0.5" transform="rotate(345.6)"/>
<rect x="173" y="-2.1" width="67" height="4.1" rx="2.1" opacity="0.5" transform="rotate(226.1)"/>
<rect x="196" y="-1.8" width="45" height="3.6" rx="1.8" opacity="0.5" transform="rotate(70.5)"/>
<rect x="188" y="-1.9" width="54" height="3.8" rx="1.9" opacity="0.6" transform="rotate(26.3)"/>
<rect x="196" y="-1.8" width="45" height="3.6" rx="1.8" opacity="0.7" transform="rotate(305.6)"/>
<rect x="174" y="-1.9" width="67" height="3.9" rx="1.9" opacity="0.5" transform="rotate(87.8)"/>
<rect x="201" y="-1.5" width="40" height="3.1" rx="1.5" opacity="0.6" transform="rotate(332.6)"/>
<rect x="183" y="-2.1" width="59" height="4.2" rx="2.1" opacity="0.9" transform="rotate(114.5)"/>
<rect x="205" y="-1.8" width="37" height="3.6" rx="1.8" opacity="0.9" transform="rotate(50.7)"/>
<rect x="182" y="-2.1" width="60" height="4.2" rx="2.1" opacity="0.4" transform="rotate(3.7)"/>
<rect x="212" y="-1.8" width="30" height="3.6" rx="1.8" opacity="0.5" transform="rotate(115.4)"/>
<rect x="208" y="-1.5" width="34" height="3.1" rx="1.5" opacity="0.5" transform="rotate(334.9)"/>
<rect x="191" y="-1.5" width="51" height="3.0" rx="1.5" opacity="0.7" transform="rotate(74.6)"/>
<rect x="195" y="-1.8" width="48" height="3.6" rx="1.8" opacity="0.6" transform="rotate(300.0)"/>
<rect x="206" y="-1.9" width="37" height="3.9" rx="1.9" opacity="0.5" transform="rotate(30.8)"/>
<rect x="205" y="-1.4" width="37" height="2.7" rx="1.4" opacity="0.8" transform="rotate(47.2)"/>
<rect x="201" y="-1.8" width="42" height="3.6" rx="1.8" opacity="0.6" transform="rotate(256.3)"/>
<rect x="186" y="-1.5" width="57" height="3.0" rx="1.5" opacity="0.9" transform="rotate(185.1)"/>
<rect x="205" y="-1.6" width="38" height="3.2" rx="1.6" opacity="0.6" transform="rotate(193.1)"/>
<rect x="211" y="-1.7" width="33" height="3.5" rx="1.7" opacity="0.5" transform="rotate(34.6)"/>
<rect x="176" y="-2.0" width="68" height="4.0" rx="2.0" opacity="0.5" transform="rotate(43.9)"/>
<rect x="199" y="-1.8" width="45" height="3.6" rx="1.8" opacity="0.7" transform="rotate(229.6)"/>
<rect x="210" y="-1.4" width="34" height="2.9" rx="1.4" opacity="0.9" transform="rotate(76.8)"/>
<rect x="181" y="-1.9" width="63" height="3.7" rx="1.9" opacity="0.9" transform="rotate(149.1)"/>
<rect x="196" y="-1.8" width="48" height="3.6" rx="1.8" opacity="0.4" transform="rotate(36.8)"/>
<rect x="179" y="-1.5" width="65" height="3.1" rx="1.5" opacity="0.8" transform="rotate(237.1)"/>
<rect x="209" y="-2.1" width="36" height="4.2" rx="2.1" opacity="0.7" transform="rotate(50.5)"/>
<rect x="191" y="-1.9" width="54" height="3.8" rx="1.9" opacity="0.5" transform="rotate(201.7)"/>
<rect x="193" y="-1.6" width="51" height="3.2" rx="1.6" opacity="0.5" transform="rotate(255.8)"/>
<rect x="190" y="-1.4" width="55" height="2.7" rx="1.4" opacity="0.5" transform="rotate(109.8)"/>
<rect x="192" y="-1.5" width="53" height="3.0" rx="1.5" opacity="0.5" transform="rotate(206.4)"/>
<rect x="178" y="-1.7" width="68" height="3.5" rx="1.7" opacity="0.7" transform="rotate(171.4)"/>
<rect x="193" y="-1.8" width="52" height="3.7" rx="1.8" opacity="0.7" transform="rotate(283.8)"/>
<rect x="178" y="-1.4" width="67" height="2.8" rx="1.4" opacity="0.4" transform="rotate(225.7)"/>
<rect x="191" y="-2.0" width="55" height="4.1" rx="2.0" opacity="0.5" transform="rotate(103.3)"/>
<rect x="204" y="-2.0" width="42" height="4.1" rx="2.0" opacity="0.5" transform="rotate(32.9)"/>
<rect x="189" y="-1.6" width="57" height="3.2" rx="1.6" opacity="0.7" transform="rotate(115.2)"/>
<rect x="211" y="-1.7" width="35" height="3.5" rx="1.7" opacity="0.6" transform="rotate(258.8)"/>
<rect x="198" y="-1.9" width="49" height="3.8" rx="1.9" opacity="0.7" transform="rotate(340.6)"/>
<rect x="190" y="-2.1" width="57" height="4.2" rx="2.1" opacity="0.6" transform="rotate(155.6)"/>
<rect x="192" y="-1.6" width="55" height="3.1" rx="1.6" opacity="0.5" transform="rotate(81.0)"/>
<rect x="185" y="-2.1" width="62" height="4.2" rx="2.1" opacity="0.5" transform="rotate(61.7)"/>
<rect x="207" y="-1.7" width="40" height="3.4" rx="1.7" opacity="0.8" transform="rotate(329.1)"/>
<rect x="207" y="-1.9" width="39" height="3.8" rx="1.9" opacity="0.7" transform="rotate(237.3)"/>
<rect x="194" y="-1.9" width="52" height="3.8" rx="1.9" opacity="0.6" transform="rotate(32.0)"/>
<rect x="203" y="-1.9" width="44" height="3.8" rx="1.9" opacity="0.6" transform="rotate(171.4)"/>
<rect x="213" y="-1.8" width="34" height="3.6" rx="1.8" opacity="0.6" transform="rotate(46.1)"/>
<rect x="183" y="-1.6" width="64" height="3.2" rx="1.6" opacity="0.7" transform="rotate(238.6)"/>
<rect x="191" y="-2.0" width="56" height="4.0" rx="2.0" opacity="0.9" transform="rotate(248.9)"/>
<rect x="184" y="-1.9" width="63" height="3.7" rx="1.9" opacity="0.9" transform="rotate(237.5)"/>
<rect x="204" y="-1.6" width="43" height="3.3" rx="1.6" opacity="0.6" transform="rotate(224.1)"/>
<rect x="207" y="-1.7" width="41" height="3.5" rx="1.7" opacity="0.8" transform="rotate(261.1)"/>
<rect x="186" y="-2.1" width="62" height="4.1" rx="2.1" opacity="0.6" transform="rotate(7.4)"/>
<rect x="199" y="-2.0" width="49" height="4.0" rx="2.0" opacity="0.5" transform="rotate(164.7)"/>
<rect x="206" y="-1.5" width="42" height="2.9" rx="1.5" opacity="0.6" transform="rotate(104.0)"/>
<rect x="200" y="-2.0" width="48" height="3.9" rx="2.0" opacity="0.6" transform="rotate(201.9)"/>
<rect x="198" y="-1.6" width="51" height="3.2" rx="1.6" opacity="0.8" transform="rotate(75.4)"/>
<rect x="179" y="-1.7" width="70" height="3.4" rx="1.7" opacity="0.9" transform="rotate(239.4)"/>
<rect x="181" y="-1.4" width="68" height="2.9" rx="1.4" opacity="0.8" transform="rotate(175.7)"/>
<rect x="209" y="-2.0" width="40" height="3.9" rx="2.0" opacity="0.5" transform="rotate(104.8)"/>
<rect x="208" y="-1.4" width="41" height="2.9" rx="1.4" opacity="0.8" transform="rotate(89.6)"/>
<rect x="185" y="-2.1" width="65" height="4.1" rx="2.1" opacity="0.4" transform="rotate(298.5)"/>
<rect x="202" y="-2.1" width="48" height="4.2" rx="2.1" opacity="0.6" transform="rotate(221.4)"/>
<rect x="200" y="-1.9" width="50" height="3.8" rx="1.9" opacity="0.9" transform="rotate(197.7)"/>
<rect x="216" y="-2.1" width="34" height="4.1" rx="2.1" opacity="0.5" transform="rotate(79.1)"/>
<rect x="198" y="-2.2" width="53" height="4.3" rx="2.2" opacity="0.8" transform="rotate(122.9)"/>
<rect x="207" y="-1.4" width="44" height="2.7" rx="1.4" opacity="0.5" transform="rotate(335.9)"/>
<rect x="186" y="-1.4" width="65" height="2.9" rx="1.4" opacity="0.7" transform="rotate(170.3)"/>
<rect x="220" y="-1.9" width="31" height="3.8" rx="1.9" opacity="0.7" transform="rotate(307.1)"/>
<rect x="187" y="-1.4" width="64" height="2.9" rx="1.4" opacity="0.7" transform="rotate(189.1)"/>
<rect x="182" y="-1.9" width="69" height="3.9" rx="1.9" opacity="0.5" transform="rotate(64.5)"/>
<rect x="204" y="-2.2" width="48" height="4.4" rx="2.2" opacity="0.6" transform="rotate(118.0)"/>
<rect x="196" y="-2.2" width="55" height="4.3" rx="2.2" opacity="0.6" transform="rotate(200.1)"/>
<rect x="219" y="-1.7" width="32" height="3.4" rx="1.7" opacity="0.8" transform="rotate(140.7)"/>
<rect x="216" y="-1.5" width="36" height="3.0" rx="1.5" opacity="0.7" transform="rotate(217.8)"/>
<rect x="221" y="-2.0" width="31" height="4.0" rx="2.0" opacity="0.6" transform="rotate(309.9)"/>
<rect x="185" y="-1.3" width="67" height="2.7" rx="1.3" opacity="0.5" transform="rotate(168.6)"/>
<rect x="196" y="-1.4" width="57" height="2.9" rx="1.4" opacity="0.6" transform="rotate(304.3)"/>
<rect x="199" y="-1.3" width="54" height="2.7" rx="1.3" opacity="0.4" transform="rotate(319.4)"/>
<rect x="202" y="-1.5" width="51" height="3.0" rx="1.5" opacity="0.7" transform="rotate(269.7)"/>
<rect x="197" y="-1.6" width="56" height="3.3" rx="1.6" opacity="0.7" transform="rotate(88.2)"/>
<rect x="219" y="-1.7" width="34" height="3.4" rx="1.7" opacity="0.8" transform="rotate(208.5)"/>
<rect x="188" y="-1.8" width="66" height="3.6" rx="1.8" opacity="0.9" transform="rotate(41.4)"/>
<rect x="220" y="-1.7" width="33" height="3.4" rx="1.7" opacity="0.5" transform="rotate(279.1)"/>
<rect x="205" y="-1.7" width="49" height="3.4" rx="1.7" opacity="0.8" transform="rotate(327.0)"/>
<rect x="222" y="-1.5" width="32" height="3.0" rx="1.5" opacity="0.8" transform="rotate(311.0)"/>
<rect x="198" y="-2.1" width="56" height="4.2" rx="2.1" opacity="0.5" transform="rotate(185.1)"/>
<rect x="221" y="-1.5" width="32" height="3.1" rx="1.5" opacity="0.7" transform="rotate(73.1)"/>
<rect x="201" y="-1.4" width="53" height="2.9" rx="1.4" opacity="0.9" transform="rotate(191.1)"/>
<rect x="195" y="-2.1" width="59" height="4.2" rx="2.1" opacity="0.6" transform="rotate(87.1)"/>
<rect x="204" y="-1.4" width="50" height="2.8" rx="1.4" opacity="0.4" transform="rotate(322.1)"/>
<rect x="188" y="-2.1" width="66" height="4.1" rx="2.1" opacity="0.7" transform="rotate(233.7)"/>
<rect x="186" y="-2.0" width="68" height="4.0" rx="2.0" opacity="0.4" transform="rotate(161.1)"/>
<rect x="199" y="-1.7" width="55" height="3.4" rx="1.7" opacity="0.5" transform="rotate(35.1)"/>
<rect x="186" y="-2.2" width="68" height="4.4" rx="2.2" opacity="0.8" transform="rotate(249.4)"/>
<rect x="192" y="-1.8" width="63" height="3.7" rx="1.8" opacity="0.7" transform="rotate(221.9)"/>
<rect x="212" y="-1.4" width="43" height="2.9" rx="1.4" opacity="0.6" transform="rotate(236.4)"/>
<rect x="215" y="-2.1" width="41" height="4.2" rx="2.1" opacity="0.9" transform="rotate(210.5)"/>
<rect x="204" y="-1.8" width="52" height="3.6" rx="1.8" opacity="0.7" transform="rotate(220.1)"/>
<rect x="219" y="-1.9" width="37" height="3.8" rx="1.9" opacity="0.8" transform="rotate(258.2)"/>
<rect x="200" y="-1.9" width="56" height="3.9" rx="1.9" opacity="0.8" transform="rotate(68.4)"/>
<rect x="195" y="-1.5" width="62" height="2.9" rx="1.5" opacity="0.7" transform="rotate(123.7)"/>
<rect x="193" y="-1.4" width="63" height="2.8" rx="1.4" opacity="0.4" transform="rotate(35.4)"/>
<rect x="206" y="-2.0" width="51" height="4.1" rx="2.0" opacity="0.4" transform="rotate(104.6)"/>
<rect x="191" y="-2.2" width="66" height="4.4" rx="2.2" opacity="0.6" transform="rotate(27.7)"/>
<rect x="208" y="-1.3" width="49" height="2.7" rx="1.3" opacity="0.4" transform="rotate(323.5)"/>
<rect x="226" y="-2.2" width="32" height="4.5" rx="2.2" opacity="0.7" transform="rotate(250.9)"/>
<rect x="186" y="-1.5" width="72" height="3.1" rx="1.5" opacity="0.8" transform="rotate(148.9)"/>
<rect x="190" y="-2.2" width="67" height="4.4" rx="2.2" opacity="0.9" transform="rotate(35.9)"/>
<rect x="186" y="-1.9" width="71" height="3.7" rx="1.9" opacity="0.7" transform="rotate(153.6)"/>
<rect x="220" y="-1.8" width="38" height="3.7" rx="1.8" opacity="0.9" transform="rotate(258.5)"/>
<rect x="199" y="-2.0" width="59" height="3.9" rx="2.0" opacity="0.5" transform="rotate(60.0)"/>
<rect x="205" y="-1.9" width="53" height="3.9" rx="1.9" opacity="0.7" transform="rotate(100.2)"/>
<rect x="222" y="-1.4" width="37" height="2.8" rx="1.4" opacity="0.9" transform="rotate(87.8)"/>
<rect x="220" y="-2.1" width="39" height="4.3" rx="2.1" opacity="0.4" transform="rotate(89.9)"/>
<rect x="190" y="-2.1" width="70" height="4.3" rx="2.1" opacity="0.6" transform="rotate(224.6)"/>
<rect x="192" y="-1.4" width="68" height="2.8" rx="1.4" opacity="0.8" transform="rotate(142.6)"/>
<rect x="220" y="-2.0" width="40" height="4.1" rx="2.0" opacity="0.9" transform="rotate(315.7)"/>
<rect x="225" y="-1.6" width="35" height="3.2" rx="1.6" opacity="0.8" transform="rotate(149.8)"/>
<rect x="195" y="-1.4" width="66" height="2.8" rx="1.4" opacity="0.8" transform="rotate(277.7)"/>
<rect x="193" y="-2.3" width="67" height="4.5" rx="2.3" opacity="0.4" transform="rotate(273.2)"/>
<rect x="202" y="-2.0" width="59" height="4.0" rx="2.0" opacity="0.6" transform="rotate(297.1)"/>
<rect x="190" y="-1.7" width="72" height="3.3" rx="1.7" opacity="0.5" transform="rotate(258.6)"/>
<rect x="192" y="-1.6" width="70" height="3.3" rx="1.6" opacity="0.4" transform="rotate(99.7)"/>
<rect x="221" y="-2.1" width="41" height="4.1" rx="2.1" opacity="0.5" transform="rotate(68.9)"/>
<rect x="218" y="-1.8" width="44" height="3.6" rx="1.8" opacity="0.8" transform="rotate(110.3)"/>
<rect x="213" y="-1.9" width="49" height="3.7" rx="1.9" opacity="0.4" transform="rotate(275.2)"/>
<rect x="229" y="-1.5" width="34" height="3.0" rx="1.5" opacity="0.9" transform="rotate(93.1)"/>
<rect x="220" y="-1.4" width="43" height="2.9" rx="1.4" opacity="0.5" transform="rotate(300.4)"/>
<rect x="216" y="-1.8" width="47" height="3.6" rx="1.8" opacity="0.5" transform="rotate(39.2)"/>
<rect x="196" y="-1.6" width="68" height="3.2" rx="1.6" opacity="0.8" transform="rotate(313.5)"/>
<rect x="213" y="-1.4" width="50" height="2.8" rx="1.4" opacity="0.5" transform="rotate(95.5)"/>
<rect x="209" y="-1.4" width="55" height="2.8" rx="1.4" opacity="0.5" transform="rotate(205.2)"/>
<rect x="217" y="-1.8" width="47" height="3.7" rx="1.8" opacity="0.9" transform="rotate(322.5)"/>
<rect x="203" y="-1.7" width="62" height="3.3" rx="1.7" opacity="0.6" transform="rotate(263.2)"/>
<rect x="222" y="-1.6" width="42" height="3.2" rx="1.6" opacity="0.8" transform="rotate(283.0)"/>
<rect x="207" y="-2.2" width="58" height="4.4" rx="2.2" opacity="0.8" transform="rotate(146.6)"/>
<rect x="205" y="-1.9" width="59" height="3.7" rx="1.9" opacity="0.7" transform="rotate(103.1)"/>
<rect x="195" y="-2.3" width="71" height="4.6" rx="2.3" opacity="0.8" transform="rotate(58.8)"/>
<rect x="216" y="-2.1" width="50" height="4.3" rx="2.1" opacity="0.5" transform="rotate(79.6)"/>
<rect x="226" y="-1.4" width="40" height="2.8" rx="1.4" opacity="0.5" transform="rotate(266.5)"/>
<rect x="206" y="-1.6" width="60" height="3.1" rx="1.6" opacity="0.5" transform="rotate(286.9)"/>
<rect x="205" y="-1.7" width="61" height="3.5" rx="1.7" opacity="0.9" transform="rotate(247.3)"/>
<rect x="195" y="-2.2" width="71" height="4.3" rx="2.2" opacity="0.7" transform="rotate(176.0)"/>
<rect x="217" y="-2.0" width="49" height="4.0" rx="2.0" opacity="0.9" transform="rotate(280.9)"/>
<rect x="230" y="-1.6" width="37" height="3.2" rx="1.6" opacity="0.9" transform="rotate(84.3)"/>
<rect x="196" y="-1.9" width="70" height="3.9" rx="1.9" opacity="0.7" transform="rotate(43.4)"/>
<rect x="235" y="-2.2" width="32" height="4.4" rx="2.2" opacity="0.5" transform="rotate(102.5)"/>
<rect x="215" y="-2.2" width="52" height="4.5" rx="2.2" opacity="0.8" transform="rotate(319.3)"/>
<rect x="223" y="-1.5" width="43" height="2.9" rx="1.5" opacity="0.9" transform="rotate(89.3)"/>
<rect x="228" y="-2.1" width="39" height="4.1" rx="2.1" opacity="0.4" transform="rotate(292.3)"/>
<rect x="218" y="-1.8" width="49" height="3.6" rx="1.8" opacity="0.8" transform="rotate(94.0)"/>
<rect x="204" y="-2.1" width="64" height="4.1" rx="2.1" opacity="0.6" transform="rotate(76.7)"/>
<rect x="216" y="-2.1" width="52" height="4.2" rx="2.1" opacity="0.4" transform="rotate(48.4)"/>
<rect x="210" y="-1.9" width="59" height="3.9" rx="1.9" opacity="0.6" transform="rotate(122.7)"/>
<rect x="195" y="-1.7" width="74" height="3.3" rx="1.7" opacity="0.9" transform="rotate(47.0)"/>
<rect x="214" y="-2.2" width="55" height="4.4" rx="2.2" opacity="0.8" transform="rotate(239.6)"/>
<rect x="232" y="-1.6" width="37" height="3.3" rx="1.6" opacity="0.8" transform="rotate(122.3)"/>
<rect x="209" y="-1.7" width="60" height="3.3" rx="1.7" opacity="0.4" transform="rotate(295.1)"/>
<rect x="196" y="-1.5" width="74" height="3.0" rx="1.5" opacity="0.4" transform="rotate(278.8)"/>
<rect x="196" y="-2.2" width="73" height="4.5" rx="2.2" opacity="0.4" transform="rotate(138.4)"/>
<rect x="218" y="-1.9" width="52" height="3.7" rx="1.9" opacity="0.7" transform="rotate(89.4)"/>
<rect x="233" y="-1.4" width="37" height="2.8" rx="1.4" opacity="0.7" transform="rotate(47.0)"/>
<rect x="225" y="-2.0" width="45" height="3.9" rx="2.0" opacity="0.9" transform="rotate(298.3)"/>
<rect x="196" y="-1.5" width="74" height="3.1" rx="1.5" opacity="0.5" transform="rotate(183.9)"/>
<rect x="207" y="-1.4" width="64" height="2.8" rx="1.4" opacity="0.5" transform="rotate(121.5)"/>
<rect x="238" y="-1.4" width="33" height="2.8" rx="1.4" opacity="0.8" transform="rotate(302.6)"/>
<rect x="199" y="-2.3" width="73" height="4.5" rx="2.3" opacity="0.9" transform="rotate(181.3)"/>
<rect x="227" y="-2.1" width="44" height="4.3" rx="2.1" opacity="0.7" transform="rotate(234.5)"/>
<rect x="218" y="-2.1" width="53" height="4.2" rx="2.1" opacity="0.6" transform="rotate(215.7)"/>
<rect x="237" y="-2.0" width="35" height="4.1" rx="2.0" opacity="0.9" transform="rotate(217.5)"/>
<rect x="224" y="-2.1" width="47" height="4.2" rx="2.1" opacity="0.4" transform="rotate(264.2)"/>
<rect x="220" y="-2.3" width="52" height="4.6" rx="2.3" opacity="0.7" transform="rotate(236.8)"/>
<rect x="197" y="-1.6" width="75" height="3.2" rx="1.6" opacity="0.7" transform="rotate(105.6)"/>
<rect x="196" y="-1.4" width="76" height="2.9" rx="1.4" opacity="0.9" transform="rotate(22.4)"/>
<rect x="215" y="-2.1" width="57" height="4.3" rx="2.1" opacity="0.5" transform="rotate(232.0)"/>
<rect x="238" y="-2.1" width="34" height="4.2" rx="2.1" opacity="0.5" transform="rotate(318.7)"/>
<rect x="206" y="-1.8" width="67" height="3.5" rx="1.8" opacity="0.5" transform="rotate(252.8)"/>
<rect x="202" y="-1.4" width="71" height="2.8" rx="1.4" opacity="0.9" transform="rotate(338.6)"/>
<rect x="231" y="-2.2" width="42" height="4.4" rx="2.2" opacity="0.5" transform="rotate(51.6)"/>
<rect x="233" y="-1.5" width="40" height="2.9" rx="1.5" opacity="0.5" transform="rotate(299.3)"/>
<rect x="211" y="-2.1" width="62" height="4.3" rx="2.1" opacity="0.4" transform="rotate(42.9)"/>
<rect x="213" y="-1.9" width="59" height="3.8" rx="1.9" opacity="0.7" transform="rotate(127.8)"/>
<rect x="223" y="-2.1" width="50" height="4.3" rx="2.1" opacity="0.7" transform="rotate(85.8)"/>
<rect x="203" y="-1.8" width="70" height="3.7" rx="1.8" opacity="0.9" transform="rotate(85.6)"/>
<rect x="213" y="-1.9" width="61" height="3.8" rx="1.9" opacity="0.8" transform="rotate(271.0)"/>
<rect x="241" y="-2.3" width="32" height="4.6" rx="2.3" opacity="0.9" transform="rotate(138.1)"/>
<rect x="231" y="-1.5" width="42" height="3.0" rx="1.5" opacity="0.6" transform="rotate(238.2)"/>
<rect x="203" y="-2.2" width="71" height="4.4" rx="2.2" opacity="0.7" transform="rotate(160.9)"/>
<rect x="209" y="-1.6" width="65" height="3.3" rx="1.6" opacity="0.7" transform="rotate(117.6)"/>
<rect x="214" y="-1.8" width="60" height="3.6" rx="1.8" opacity="0.4" transform="rotate(152.2)"/>
<rect x="204" y="-1.9" width="70" height="3.9" rx="1.9" opacity="0.4" transform="rotate(149.3)"/>
<rect x="218" y="-2.2" width="56" height="4.3" rx="2.2" opacity="0.4" transform="rotate(66.2)"/>
<rect x="219" y="-1.9" width="56" height="3.8" rx="1.9" opacity="0.9" transform="rotate(51.8)"/>
<rect x="212" y="-1.5" width="63" height="3.1" rx="1.5" opacity="0.9" transform="rotate(124.2)"/>
<rect x="240" y="-1.9" width="35" height="3.8" rx="1.9" opacity="0.7" transform="rotate(133.3)"/>
<rect x="236" y="-1.5" width="39" height="2.9" rx="1.5" opacity="0.7" transform="rotate(315.2)"/>
<rect x="237" y="-1.6" width="39" height="3.3" rx="1.6" opacity="0.7" transform="rotate(67.4)"/>
<rect x="242" y="-2.3" width="33" height="4.5" rx="2.3" opacity="0.6" transform="rotate(312.7)"/>
<rect x="241" y="-2.2" width="35" height="4.5" rx="2.2" opacity="0.5" transform="rotate(49.5)"/>
<rect x="208" y="-1.9" width="68" height="3.7" rx="1.9" opacity="0.9" transform="rotate(152.9)"/>
<rect x="201" y="-1.7" width="75" height="3.5" rx="1.7" opacity="0.6" transform="rotate(125.8)"/>
<rect x="234" y="-1.8" width="42" height="3.6" rx="1.8" opacity="0.9" transform="rotate(296.6)"/>
<rect x="232" y="-1.8" width="44" height="3.6" rx="1.8" opacity="0.8" transform="rotate(82.6)"/>
<rect x="210" y="-1.9" width="67" height="3.9" rx="1.9" opacity="0.5" transform="rotate(103.9)"/>
<rect x="237" y="-1.6" width="41" height="3.1" rx="1.6" opacity="0.6" transform="rotate(87.5)"/>
<rect x="212" y="-1.5" width="66" height="3.0" rx="1.5" opacity="0.9" transform="rotate(50.3)"/>
<rect x="205" y="-2.3" width="74" height="4.7" rx="2.3" opacity="0.4" transform="rotate(167.3)"/>
<rect x="239" y="-1.5" width="39" height="3.0" rx="1.5" opacity="0.7" transform="rotate(110.1)"/>
<rect x="218" y="-2.3" width="60" height="4.6" rx="2.3" opacity="0.7" transform="rotate(250.1)"/>
<rect x="221" y="-2.4" width="57" height="4.8" rx="2.4" opacity="0.7" transform="rotate(98.5)"/>
<rect x="225" y="-2.1" width="54" height="4.2" rx="2.1" opacity="0.5" transform="rotate(45.8)"/>
<rect x="246" y="-1.5" width="33" height="3.0" rx="1.5" opacity="0.8" transform="rotate(52.6)"/>
<rect x="219" y="-2.2" width="61" height="4.3" rx="2.2" opacity="0.7" transform="rotate(230.9)"/>
<rect x="225" y="-2.0" width="55" height="4.1" rx="2.0" opacity="0.6" transform="rotate(70.7)"/>
<rect x="232" y="-2.0" width="47" height="4.0" rx="2.0" opacity="0.9" transform="rotate(305.9)"/>
<rect x="227" y="-1.6" width="53" height="3.3" rx="1.6" opacity="0.8" transform="rotate(232.2)"/>
<rect x="232" y="-2.2" width="48" height="4.4" rx="2.2" opacity="0.7" transform="rotate(61.2)"/>
<rect x="208" y="-2.4" width="73" height="4.8" rx="2.4" opacity="0.9" transform="rotate(333.2)"/>
<rect x="218" y="-2.3" width="63" height="4.6" rx="2.3" opacity="0.6" transform="rotate(247.5)"/>
<rect x="218" y="-2.1" width="63" height="4.3" rx="2.1" opacity="0.8" transform="rotate(109.8)"/>
<rect x="234" y="-1.9" width="47" height="3.7" rx="1.9" opacity="0.4" transform="rotate(80.6)"/>
<rect x="222" y="-1.4" width="59" height="2.9" rx="1.4" opacity="0.8" transform="rotate(144.7)"/>
<rect x="229" y="-1.6" width="52" height="3.2" rx="1.6" opacity="0.4" transform="rotate(240.6)"/>
<rect x="205" y="-2.0" width="77" height="4.1" rx="2.0" opacity="0.5" transform="rotate(252.3)"/>
<rect x="208" y="-2.1" width="74" height="4.3" rx="2.1" opacity="0.8" transform="rotate(296.1)"/>
<rect x="212" y="-2.3" width="70" height="4.6" rx="2.3" opacity="0.4" transform="rotate(306.2)"/>
<rect x="211" y="-1.5" width="72" height="3.0" rx="1.5" opacity="0.7" transform="rotate(231.9)"/>
<rect x="215" y="-1.7" width="68" height="3.4" rx="1.7" opacity="0.9" transform="rotate(290.8)"/>
<rect x="213" y="-1.7" width="70" height="3.5" rx="1.7" opacity="0.7" transform="rotate(206.8)"/>
<rect x="212" y="-1.6" width="71" height="3.1" rx="1.6" opacity="0.7" transform="rotate(299.6)"/>
<rect x="235" y="-1.7" width="48" height="3.5" rx="1.7" opacity="0.6" transform="rotate(52.4)"/>
<rect x="228" y="-1.7" width="55" height="3.3" rx="1.7" opacity="0.5" transform="rotate(222.4)"/>
<rect x="220" y="-1.9" width="63" height="3.9" rx="1.9" opacity="0.5" transform="rotate(34.8)"/>
<rect x="236" y="-1.6" width="47" height="3.2" rx="1.6" opacity="0.6" transform="rotate(222.6)"/>
<rect x="235" y="-2.4" width="48" height="4.8" rx="2.4" opacity="0.5" transform="rotate(212.0)"/>
<rect x="217" y="-2.4" width="67" height="4.8" rx="2.4" opacity="0.4" transform="rotate(143.4)"/>
<rect x="223" y="-2.2" width="61" height="4.3" rx="2.2" opacity="0.4" transform="rotate(97.7)"/>
<rect x="243" y="-1.8" width="40" height="3.6" rx="1.8" opacity="0.4" transform="rotate(242.1)"/>
<rect x="244" y="-2.4" width="40" height="4.8" rx="2.4" opacity="0.6" transform="rotate(251.9)"/>
<rect x="250" y="-1.9" width="34" height="3.8" rx="1.9" opacity="0.5" transform="rotate(81.8)"/>
<rect x="225" y="-2.1" width="59" height="4.3" rx="2.1" opacity="0.8" transform="rotate(262.1)"/>
<rect x="232" y="-2.3" width="52" height="4.6" rx="2.3" opacity="0.4" transform="rotate(267.4)"/>
<rect x="244" y="-2.2" width="40" height="4.3" rx="2.2" opacity="0.4" transform="rotate(92.4)"/>
<rect x="207" y="-2.2" width="78" height="4.4" rx="2.2" opacity="0.6" transform="rotate(237.9)"/>
<rect x="211" y="-1.9" width="74" height="3.8" rx="1.9" opacity="0.9" transform="rotate(306.4)"/>
<rect x="245" y="-2.3" width="40" height="4.6" rx="2.3" opacity="0.4" transform="rotate(88.0)"/>
<rect x="225" y="-1.9" width="60" height="3.8" rx="1.9" opacity="0.7" transform="rotate(96.5)"/>
<rect x="248" y="-1.7" width="37" height="3.4" rx="1.7" opacity="0.8" transform="rotate(306.6)"/>
<rect x="248" y="-2.1" width="37" height="4.2" rx="2.1" opacity="0.5" transform="rotate(227.6)"/>
<rect x="252" y="-2.4" width="34" height="4.8" rx="2.4" opacity="0.9" transform="rotate(260.0)"/>
<rect x="217" y="-2.0" width="69" height="3.9" rx="2.0" opacity="0.9" transform="rotate(62.6)"/>
<rect x="210" y="-1.4" width="76" height="2.9" rx="1.4" opacity="0.7" transform="rotate(279.7)"/>
<rect x="242" y="-1.8" width="44" height="3.6" rx="1.8" opacity="0.7" transform="rotate(67.9)"/>
<rect x="235" y="-2.3" width="51" height="4.5" rx="2.3" opacity="0.6" transform="rotate(261.2)"/>
<rect x="220" y="-1.9" width="68" height="3.7" rx="1.9" opacity="0.6" transform="rotate(118.3)"/>
<rect x="240" y="-1.5" width="47" height="3.0" rx="1.5" opacity="0.7" transform="rotate(119.0)"/>
<rect x="222" y="-1.9" width="66" height="3.7" rx="1.9" opacity="0.5" transform="rotate(78.9)"/>
<rect x="247" y="-1.4" width="41" height="2.9" rx="1.4" opacity="0.9" transform="rotate(254.4)"/>
<rect x="237" y="-1.5" width="51" height="3.0" rx="1.5" opacity="0.4" transform="rotate(42.1)"/>
<rect x="240" y="-1.9" width="49" height="3.7" rx="1.9" opacity="0.5" transform="rotate(273.9)"/>
<rect x="243" y="-1.7" width="46" height="3.4" rx="1.7" opacity="0.7" transform="rotate(115.0)"/>
<rect x="229" y="-2.4" width="60" height="4.8" rx="2.4" opacity="0.4" transform="rotate(89.5)"/>
<rect x="245" y="-2.1" width="44" height="4.2" rx="2.1" opacity="0.4" transform="rotate(131.5)"/>
<rect x="215" y="-2.4" width="75" height="4.7" rx="2.4" opacity="0.9" transform="rotate(243.2)"/>
<rect x="249" y="-1.7" width="41" height="3.4" rx="1.7" opacity="0.8" transform="rotate(97.0)"/>
<rect x="232" y="-1.5" width="58" height="3.0" rx="1.5" opacity="0.5" transform="rotate(316.3)"/>
<rect x="235" y="-2.3" width="56" height="4.6" rx="2.3" opacity="0.7" transform="rotate(93.6)"/>
<rect x="253" y="-1.9" width="38" height="3.8" rx="1.9" opacity="0.6" transform="rotate(280.5)"/>
<rect x="239" y="-2.3" width="53" height="4.5" rx="2.3" opacity="0.9" transform="rotate(245.8)"/>
<rect x="211" y="-1.5" width="81" height="2.9" rx="1.5" opacity="0.6" transform="rotate(152.1)"/>
<rect x="254" y="-2.2" width="38" height="4.4" rx="2.2" opacity="0.8" transform="rotate(124.7)"/>
<rect x="233" y="-2.1" width="60" height="4.1" rx="2.1" opacity="0.9" transform="rotate(263.5)"/>
<rect x="223" y="-2.0" width="70" height="4.0" rx="2.0" opacity="0.4" transform="rotate(144.8)"/>
<rect x="213" y="-2.1" width="80" height="4.1" rx="2.1" opacity="0.5" transform="rotate(268.9)"/>
<rect x="212" y="-2.2" width="81" height="4.5" rx="2.2" opacity="0.8" transform="rotate(317.7)"/>
<rect x="226" y="-2.1" width="67" height="4.2" rx="2.1" opacity="0.5" transform="rotate(214.4)"/>
<rect x="236" y="-2.4" width="58" height="4.9" rx="2.4" opacity="0.5" transform="rotate(145.6)"/>
<rect x="245" y="-1.6" width="49" height="3.1" rx="1.6" opacity="0.8" transform="rotate(144.3)"/>
<rect x="228" y="-2.2" width="66" height="4.5" rx="2.2" opacity="0.6" transform="rotate(41.4)"/>
<rect x="236" y="-2.5" width="58" height="4.9" rx="2.5" opacity="0.5" transform="rotate(87.2)"/>
<rect x="214" y="-1.6" width="80" height="3.2" rx="1.6" opacity="0.5" transform="rotate(110.5)"/>
<rect x="223" y="-1.5" width="71" height="2.9" rx="1.5" opacity="0.8" transform="rotate(87.7)"/>
<rect x="217" y="-1.6" width="79" height="3.2" rx="1.6" opacity="0.7" transform="rotate(251.2)"/>
<rect x="260" y="-2.3" width="38" height="4.5" rx="2.3" opacity="0.5" transform="rotate(82.2)"/>
<rect x="230" y="-2.2" width="68" height="4.3" rx="2.2" opacity="0.5" transform="rotate(70.2)"/>
<rect x="219" y="-1.7" width="79" height="3.5" rx="1.7" opacity="0.4" transform="rotate(237.5)"/>
<rect x="219" y="-1.8" width="79" height="3.5" rx="1.8" opacity="0.5" transform="rotate(226.0)"/>
<rect x="252" y="-2.3" width="46" height="4.6" rx="2.3" opacity="0.7" transform="rotate(292.5)"/>
<rect x="237" y="-2.2" width="61" height="4.4" rx="2.2" opacity="0.4" transform="rotate(107.3)"/>
<rect x="236" y="-2.0" width="63" height="4.0" rx="2.0" opacity="0.9" transform="rotate(286.9)"/>
<rect x="247" y="-2.3" width="52" height="4.6" rx="2.3" opacity="0.7" transform="rotate(41.3)"/>
<rect x="219" y="-2.5" width="80" height="5.1" rx="2.5" opacity="0.7" transform="rotate(288.7)"/>
<rect x="222" y="-1.8" width="77" height="3.7" rx="1.8" opacity="0.9" transform="rotate(252.9)"/>
<rect x="234" y="-2.3" width="65" height="4.5" rx="2.3" opacity="0.8" transform="rotate(302.2)"/>
<rect x="239" y="-1.9" width="61" height="3.7" rx="1.9" opacity="0.6" transform="rotate(78.0)"/>
<rect x="239" y="-2.5" width="60" height="4.9" rx="2.5" opacity="0.6" transform="rotate(297.3)"/>
<rect x="225" y="-1.7" width="75" height="3.4" rx="1.7" opacity="0.9" transform="rotate(250.4)"/>
<rect x="229" y="-2.0" width="71" height="4.0" rx="2.0" opacity="0.7" transform="rotate(66.7)"/>
<rect x="242" y="-2.0" width="58" height="4.0" rx="2.0" opacity="0.9" transform="rotate(44.6)"/>
<rect x="226" y="-2.3" width="75" height="4.6" rx="2.3" opacity="0.5" transform="rotate(131.7)"/>
<rect x="218" y="-1.6" width="83" height="3.2" rx="1.6" opacity="0.9" transform="rotate(87.0)"/>
<rect x="227" y="-2.1" width="74" height="4.2" rx="2.1" opacity="0.5" transform="rotate(324.1)"/>
<rect x="233" y="-1.6" width="68" height="3.2" rx="1.6" opacity="0.7" transform="rotate(216.9)"/>
<rect x="255" y="-2.4" width="46" height="4.8" rx="2.4" opacity="0.6" transform="rotate(264.0)"/>
<rect x="241" y="-1.9" width="61" height="3.7" rx="1.9" opacity="0.8" transform="rotate(44.4)"/>
<rect x="254" y="-1.5" width="48" height="3.0" rx="1.5" opacity="0.9" transform="rotate(72.0)"/>
<rect x="252" y="-2.2" width="52" height="4.4" rx="2.2" opacity="0.7" transform="rotate(273.3)"/>
<rect x="256" y="-2.2" width="47" height="4.4" rx="2.2" opacity="0.8" transform="rotate(136.7)"/>
<rect x="229" y="-1.5" width="75" height="3.0" rx="1.5" opacity="0.8" transform="rotate(242.1)"/>
<rect x="223" y="-2.2" width="81" height="4.5" rx="2.2" opacity="0.7" transform="rotate(44.5)"/>
<rect x="263" y="-2.4" width="41" height="4.7" rx="2.4" opacity="0.8" transform="rotate(75.8)"/>
<rect x="235" y="-1.6" width="70" height="3.3" rx="1.6" opacity="0.6" transform="rotate(125.5)"/>
<rect x="250" y="-1.7" width="54" height="3.4" rx="1.7" opacity="0.6" transform="rotate(103.5)"/>
<rect x="241" y="-1.7" width="64" height="3.3" rx="1.7" opacity="0.9" transform="rotate(248.4)"/>
<rect x="230" y="-2.1" width="75" height="4.2" rx="2.1" opacity="0.6" transform="rotate(99.9)"/>
<rect x="234" y="-2.0" width="71" height="4.0" rx="2.0" opacity="0.4" transform="rotate(285.4)"/>
<rect x="228" y="-1.7" width="77" height="3.3" rx="1.7" opacity="0.8" transform="rotate(270.8)"/>
<rect x="250" y="-2.0" width="55" height="4.1" rx="2.0" opacity="0.6" transform="rotate(313.8)"/>
<rect x="258" y="-2.1" width="48" height="4.2" rx="2.1" opacity="0.8" transform="rotate(58.0)"/>
<rect x="249" y="-2.4" width="57" height="4.8" rx="2.4" opacity="0.9" transform="rotate(66.0)"/>
<rect x="227" y="-1.9" width="78" height="3.9" rx="1.9" opacity="0.7" transform="rotate(132.7)"/>
<rect x="246" y="-1.8" width="60" height="3.5" rx="1.8" opacity="0.7" transform="rotate(57.2)"/>
<rect x="247" y="-2.5" width="58" height="5.0" rx="2.5" opacity="0.5" transform="rotate(317.0)"/>
<rect x="235" y="-2.6" width="71" height="5.1" rx="2.6" opacity="0.4" transform="rotate(248.5)"/>
<rect x="261" y="-1.7" width="45" height="3.4" rx="1.7" opacity="0.7" transform="rotate(88.2)"/>
<rect x="238" y="-2.3" width="68" height="4.6" rx="2.3" opacity="0.6" transform="rotate(260.0)"/>
<rect x="265" y="-1.7" width="42" height="3.3" rx="1.7" opacity="0.8" transform="rotate(117.8)"/>
<rect x="242" y="-2.3" width="64" height="4.6" rx="2.3" opacity="0.4" transform="rotate(285.4)"/>
<rect x="269" y="-1.9" width="38" height="3.8" rx="1.9" opacity="0.5" transform="rotate(267.6)"/>
<rect x="246" y="-1.9" width="61" height="3.9" rx="1.9" opacity="0.9" transform="rotate(316.6)"/>
<rect x="258" y="-2.2" width="49" height="4.4" rx="2.2" opacity="0.6" transform="rotate(223.1)"/>
<rect x="270" y="-2.1" width="37" height="4.3" rx="2.1" opacity="0.5" transform="rotate(298.6)"/>
<rect x="243" y="-1.9" width="64" height="3.8" rx="1.9" opacity="0.9" transform="rotate(303.8)"/>
<rect x="263" y="-1.9" width="45" height="3.8" rx="1.9" opacity="0.7" transform="rotate(251.5)"/>
<rect x="232" y="-2.4" width="77" height="4.8" rx="2.4" opacity="0.7" transform="rotate(264.7)"/>
<rect x="263" y="-2.3" width="46" height="4.5" rx="2.3" opacity="0.4" transform="rotate(310.5)"/>
<rect x="265" y="-1.9" width="44" height="3.8" rx="1.9" opacity="0.8" transform="rotate(54.5)"/>
<rect x="232" y="-2.3" width="77" height="4.7" rx="2.3" opacity="0.8" transform="rotate(293.6)"/>
<rect x="238" y="-2.1" width="71" height="4.3" rx="2.1" opacity="0.8" transform="rotate(236.6)"/>
<rect x="270" y="-2.2" width="39" height="4.3" rx="2.2" opacity="0.4" transform="rotate(104.1)"/>
<rect x="235" y="-2.4" width="74" height="4.8" rx="2.4" opacity="0.4" transform="rotate(46.5)"/>
<rect x="237" y="-2.2" width="73" height="4.3" rx="2.2" opacity="0.5" transform="rotate(90.7)"/>
<rect x="254" y="-2.5" width="55" height="4.9" rx="2.5" opacity="0.4" transform="rotate(233.6)"/>
<rect x="239" y="-2.3" width="71" height="4.7" rx="2.3" opacity="0.8" transform="rotate(123.8)"/>
<rect x="238" y="-2.5" width="72" height="5.0" rx="2.5" opacity="0.8" transform="rotate(114.1)"/>
<rect x="225" y="-1.7" width="85" height="3.4" rx="1.7" opacity="0.7" transform="rotate(108.9)"/>
<rect x="267" y="-2.2" width="43" height="4.3" rx="2.2" opacity="0.7" transform="rotate(97.1)"/>
<rect x="225" y="-2.0" width="85" height="3.9" rx="2.0" opacity="0.5" transform="rotate(55.7)"/>
<rect x="245" y="-2.6" width="66" height="5.1" rx="2.6" opacity="0.8" transform="rotate(269.2)"/>
<rect x="251" y="-2.1" width="60" height="4.2" rx="2.1" opacity="0.9" transform="rotate(109.2)"/>
<rect x="248" y="-1.9" width="64" height="3.8" rx="1.9" opacity="0.5" transform="rotate(83.9)"/>
<rect x="238" y="-2.4" width="73" height="4.9" rx="2.4" opacity="0.8" transform="rotate(264.0)"/>
<rect x="228" y="-2.5" width="84" height="5.1" rx="2.5" opacity="0.4" transform="rotate(324.6)"/>
<rect x="243" y="-2.1" width="69" height="4.3" rx="2.1" opacity="0.9" transform="rotate(70.9)"/>
<rect x="257" y="-2.1" width="55" height="4.2" rx="2.1" opacity="0.5" transform="rotate(300.8)"/>
<rect x="236" y="-2.2" width="77" height="4.4" rx="2.2" opacity="0.7" transform="rotate(215.1)"/>
<rect x="274" y="-2.6" width="39" height="5.2" rx="2.6" opacity="0.9" transform="rotate(94.5)"/>
<rect x="250" y="-1.5" width="63" height="3.1" rx="1.5" opacity="0.9" transform="rotate(102.8)"/>
<rect x="231" y="-2.1" width="82" height="4.3" rx="2.1" opacity="0.8" transform="rotate(262.0)"/>
<rect x="254" y="-2.6" width="59" height="5.2" rx="2.6" opacity="0.7" transform="rotate(91.9)"/>
<rect x="227" y="-2.3" width="86" height="4.6" rx="2.3" opacity="0.6" transform="rotate(47.3)"/>
<rect x="254" y="-1.9" width="59" height="3.8" rx="1.9" opacity="0.4" transform="rotate(288.1)"/>
<rect x="238" y="-1.7" width="75" height="3.4" rx="1.7" opacity="0.8" transform="rotate(262.3)"/>
<rect x="259" y="-2.1" width="55" height="4.1" rx="2.1" opacity="0.6" transform="rotate(131.2)"/>
<rect x="256" y="-1.6" width="57" height="3.3" rx="1.6" opacity="0.8" transform="rotate(292.4)"/>
<rect x="272" y="-1.8" width="42" height="3.7" rx="1.8" opacity="0.9" transform="rotate(59.8)"/>
<rect x="243" y="-2.6" width="72" height="5.2" rx="2.6" opacity="0.5" transform="rotate(246.4)"/>
<rect x="268" y="-2.3" width="46" height="4.6" rx="2.3" opacity="0.6" transform="rotate(94.8)"/>
<rect x="261" y="-2.4" width="54" height="4.8" rx="2.4" opacity="0.9" transform="rotate(49.3)"/>
<rect x="277" y="-2.5" width="38" height="5.0" rx="2.5" opacity="0.5" transform="rotate(78.1)"/>
<rect x="269" y="-2.2" width="46" height="4.4" rx="2.2" opacity="0.7" transform="rotate(282.5)"/>
<rect x="250" y="-2.3" width="66" height="4.6" rx="2.3" opacity="0.9" transform="rotate(313.1)"/>
<rect x="232" y="-2.5" width="84" height="4.9" rx="2.5" opacity="0.8" transform="rotate(120.2)"/>
<rect x="241" y="-2.3" width="75" height="4.6" rx="2.3" opacity="0.9" transform="rotate(105.6)"/>
<rect x="231" y="-1.7" width="86" height="3.4" rx="1.7" opacity="0.5" transform="rotate(101.9)"/>
<rect x="250" y="-1.6" width="68" height="3.1" rx="1.6" opacity="0.7" transform="rotate(285.7)"/>
<rect x="268" y="-2.3" width="50" height="4.6" rx="2.3" opacity="0.9" transform="rotate(106.7)"/>
<rect x="250" y="-1.6" width="68" height="3.2" rx="1.6" opacity="0.9" transform="rotate(142.9)"/>
<rect x="248" y="-2.1" width="71" height="4.1" rx="2.1" opacity="0.7" transform="rotate(119.7)"/>
<rect x="248" y="-2.0" width="71" height="3.9" rx="2.0" opacity="0.8" transform="rotate(285.3)"/>
<rect x="237" y="-1.9" width="82" height="3.8" rx="1.9" opacity="0.5" transform="rotate(280.9)"/>
<rect x="242" y="-2.3" width="77" height="4.5" rx="2.3" opacity="0.4" transform="rotate(133.3)"/>
<rect x="279" y="-2.2" width="42" height="4.3" rx="2.2" opacity="0.5" transform="rotate(260.5)"/>
<rect x="257" y="-2.6" width="63" height="5.2" rx="2.6" opacity="0.5" transform="rotate(234.4)"/>
<rect x="233" y="-1.7" width="88" height="3.5" rx="1.7" opacity="0.4" transform="rotate(214.5)"/>
<rect x="264" y="-2.3" width="56" height="4.6" rx="2.3" opacity="0.4" transform="rotate(97.9)"/>
<rect x="275" y="-1.6" width="46" height="3.2" rx="1.6" opacity="0.4" transform="rotate(48.8)"/>
<rect x="239" y="-1.9" width="82" height="3.9" rx="1.9" opacity="0.9" transform="rotate(81.4)"/>
<rect x="239" y="-1.9" width="83" height="3.8" rx="1.9" opacity="0.9" transform="rotate(58.7)"/>
<rect x="246" y="-1.7" width="75" height="3.3" rx="1.7" opacity="0.8" transform="rotate(70.3)"/>
<rect x="280" y="-1.6" width="42" height="3.2" rx="1.6" opacity="0.4" transform="rotate(128.7)"/>
<rect x="253" y="-2.3" width="69" height="4.6" rx="2.3" opacity="0.5" transform="rotate(251.7)"/>
<rect x="249" y="-2.5" width="73" height="5.0" rx="2.5" opacity="0.7" transform="rotate(247.6)"/>
<rect x="262" y="-2.5" width="61" height="5.1" rx="2.5" opacity="0.5" transform="rotate(79.6)"/>
<rect x="268" y="-1.6" width="56" height="3.2" rx="1.6" opacity="0.8" transform="rotate(241.3)"/>
<rect x="251" y="-1.7" width="73" height="3.4" rx="1.7" opacity="0.4" transform="rotate(57.0)"/>
<rect x="280" y="-2.0" width="44" height="3.9" rx="2.0" opacity="0.8" transform="rotate(233.1)"/>
<rect x="281" y="-2.5" width="44" height="5.0" rx="2.5" opacity="0.5" transform="rotate(225.6)"/>
<rect x="252" y="-1.9" width="73" height="3.7" rx="1.9" opacity="0.7" transform="rotate(114.5)"/>
<rect x="244" y="-2.5" width="81" height="5.0" rx="2.5" opacity="0.9" transform="rotate(287.0)"/>
<rect x="282" y="-2.2" width="44" height="4.4" rx="2.2" opacity="0.8" transform="rotate(229.9)"/>
<rect x="242" y="-1.9" width="83" height="3.8" rx="1.9" opacity="0.4" transform="rotate(321.2)"/>
<rect x="271" y="-1.8" width="54" height="3.7" rx="1.8" opacity="0.4" transform="rotate(54.1)"/>
<rect x="287" y="-2.6" width="39" height="5.2" rx="2.6" opacity="0.4" transform="rotate(282.5)"/>
<rect x="248" y="-2.6" width="79" height="5.3" rx="2.6" opacity="0.5" transform="rotate(235.9)"/>
<rect x="273" y="-2.3" width="54" height="4.6" rx="2.3" opacity="0.7" transform="rotate(74.2)"/>
<rect x="274" y="-2.3" width="54" height="4.6" rx="2.3" opacity="0.8" transform="rotate(247.8)"/>
<rect x="259" y="-1.6" width="69" height="3.2" rx="1.6" opacity="0.4" transform="rotate(85.3)"/>
<rect x="244" y="-1.8" width="84" height="3.6" rx="1.8" opacity="0.9" transform="rotate(316.3)"/>
<rect x="281" y="-1.6" width="47" height="3.3" rx="1.6" opacity="0.9" transform="rotate(285.2)"/>
<rect x="256" y="-2.6" width="73" height="5.2" rx="2.6" opacity="0.9" transform="rotate(250.8)"/>
<rect x="251" y="-2.0" width="78" height="3.9" rx="2.0" opacity="0.6" transform="rotate(103.0)"/>
<rect x="264" y="-1.8" width="65" height="3.7" rx="1.8" opacity="0.7" transform="rotate(294.5)"/>
<rect x="267" y="-1.9" width="62" height="3.8" rx="1.9" opacity="0.6" transform="rotate(135.9)"/>
<rect x="287" y="-2.0" width="42" height="4.0" rx="2.0" opacity="0.4" transform="rotate(309.7)"/>
<rect x="247" y="-1.8" width="82" height="3.7" rx="1.8" opacity="0.9" transform="rotate(58.5)"/>
<rect x="281" y="-1.9" width="48" height="3.7" rx="1.9" opacity="0.6" transform="rotate(53.1)"/>
<rect x="274" y="-1.8" width="56" height="3.6" rx="1.8" opacity="0.9" transform="rotate(59.9)"/>
<rect x="262" y="-2.5" width="67" height="5.0" rx="2.5" opacity="0.7" transform="rotate(132.7)"/>
<rect x="282" y="-2.1" width="48" height="4.1" rx="2.1" opacity="0.9" transform="rotate(65.5)"/>
<rect x="239" y="-2.0" width="90" height="4.0" rx="2.0" opacity="0.7" transform="rotate(109.3)"/>
<rect x="245" y="-2.7" width="85" height="5.3" rx="2.7" opacity="0.9" transform="rotate(236.5)"/>
<rect x="242" y="-2.0" width="89" height="4.0" rx="2.0" opacity="0.4" transform="rotate(244.1)"/>
<rect x="274" y="-2.3" width="57" height="4.5" rx="2.3" opacity="0.8" transform="rotate(237.2)"/>
<rect x="242" y="-2.3" width="88" height="4.6" rx="2.3" opacity="0.4" transform="rotate(108.7)"/>
<rect x="257" y="-2.7" width="74" height="5.4" rx="2.7" opacity="0.9" transform="rotate(103.5)"/>
<rect x="274" y="-2.3" width="57" height="4.7" rx="2.3" opacity="0.8" transform="rotate(309.3)"/>
<rect x="291" y="-2.5" width="40" height="5.1" rx="2.5" opacity="0.8" transform="rotate(246.5)"/>
<rect x="244" y="-1.9" width="88" height="3.7" rx="1.9" opacity="0.5" transform="rotate(60.2)"/>
<rect x="244" y="-2.6" width="88" height="5.2" rx="2.6" opacity="0.6" transform="rotate(60.0)"/>
<rect x="276" y="-2.3" width="56" height="4.5" rx="2.3" opacity="0.8" transform="rotate(104.0)"/>
<rect x="282" y="-1.9" width="50" height="3.8" rx="1.9" opacity="0.6" transform="rotate(278.5)"/>
<rect x="250" y="-2.4" width="82" height="4.7" rx="2.4" opacity="0.9" transform="rotate(125.4)"/>
<rect x="289" y="-2.1" width="44" height="4.3" rx="2.1" opacity="0.5" transform="rotate(243.9)"/>
<rect x="264" y="-1.7" width="70" height="3.4" rx="1.7" opacity="0.5" transform="rotate(120.3)"/>
<rect x="279" y="-2.5" width="54" height="5.0" rx="2.5" opacity="0.7" transform="rotate(255.4)"/>
<rect x="279" y="-2.2" width="55" height="4.3" rx="2.2" opacity="0.5" transform="rotate(84.5)"/>
<rect x="267" y="-2.2" width="67" height="4.5" rx="2.2" opacity="0.8" transform="rotate(262.0)"/>
<rect x="267" y="-2.0" width="67" height="3.9" rx="2.0" opacity="0.8" transform="rotate(255.5)"/>
<rect x="256" y="-1.7" width="78" height="3.4" rx="1.7" opacity="0.8" transform="rotate(51.5)"/>
<rect x="267" y="-1.7" width="68" height="3.5" rx="1.7" opacity="0.9" transform="rotate(55.2)"/>
<rect x="274" y="-2.0" width="62" height="4.1" rx="2.0" opacity="0.5" transform="rotate(226.3)"/>
<rect x="280" y="-2.3" width="56" height="4.6" rx="2.3" opacity="0.6" transform="rotate(66.9)"/>
<rect x="245" y="-2.7" width="91" height="5.5" rx="2.7" opacity="0.4" transform="rotate(130.3)"/>
<rect x="257" y="-2.4" width="79" height="4.7" rx="2.4" opacity="0.7" transform="rotate(109.6)"/>
<rect x="274" y="-2.2" width="62" height="4.4" rx="2.2" opacity="0.7" transform="rotate(76.2)"/>
<rect x="266" y="-1.6" width="70" height="3.2" rx="1.6" opacity="0.5" transform="rotate(48.1)"/>
<rect x="265" y="-2.4" width="72" height="4.9" rx="2.4" opacity="0.8" transform="rotate(95.2)"/>
<rect x="244" y="-2.6" width="92" height="5.1" rx="2.6" opacity="0.4" transform="rotate(95.9)"/>
<rect x="246" y="-2.0" width="90" height="3.9" rx="2.0" opacity="0.7" transform="rotate(137.0)"/>
<rect x="246" y="-1.9" width="91" height="3.7" rx="1.9" opacity="0.5" transform="rotate(318.9)"/>
<rect x="272" y="-2.5" width="65" height="5.1" rx="2.5" opacity="0.7" transform="rotate(232.8)"/>
<rect x="278" y="-2.4" width="59" height="4.8" rx="2.4" opacity="0.4" transform="rotate(298.0)"/>
<rect x="289" y="-2.6" width="48" height="5.3" rx="2.6" opacity="0.8" transform="rotate(107.8)"/>
<rect x="291" y="-2.7" width="46" height="5.4" rx="2.7" opacity="0.4" transform="rotate(304.5)"/>
<rect x="278" y="-2.3" width="59" height="4.5" rx="2.3" opacity="0.6" transform="rotate(228.0)"/>
<rect x="294" y="-2.0" width="43" height="4.0" rx="2.0" opacity="0.8" transform="rotate(96.1)"/>
<rect x="254" y="-2.2" width="84" height="4.3" rx="2.2" opacity="0.6" transform="rotate(60.7)"/>
<rect x="298" y="-1.7" width="40" height="3.4" rx="1.7" opacity="0.8" transform="rotate(79.6)"/>
<rect x="264" y="-2.1" width="74" height="4.2" rx="2.1" opacity="0.9" transform="rotate(122.2)"/>
<rect x="278" y="-2.0" width="60" height="3.9" rx="2.0" opacity="0.8" transform="rotate(282.5)"/>
<rect x="260" y="-2.3" width="79" height="4.7" rx="2.3" opacity="0.9" transform="rotate(269.1)"/>
<rect x="250" y="-2.0" width="89" height="3.9" rx="2.0" opacity="0.6" transform="rotate(254.2)"/>
<rect x="289" y="-2.0" width="49" height="4.1" rx="2.0" opacity="0.4" transform="rotate(294.5)"/>
<rect x="290" y="-2.7" width="49" height="5.3" rx="2.7" opacity="0.5" transform="rotate(286.2)"/>
<rect x="249" y="-2.0" width="90" height="4.0" rx="2.0" opacity="0.6" transform="rotate(241.9)"/>
<rect x="249" y="-2.8" width="90" height="5.5" rx="2.8" opacity="0.8" transform="rotate(292.5)"/>
<rect x="289" y="-2.6" width="50" height="5.3" rx="2.6" opacity="0.6" transform="rotate(294.3)"/>
<rect x="263" y="-2.3" width="77" height="4.6" rx="2.3" opacity="0.9" transform="rotate(302.1)"/>
<rect x="253" y="-2.1" width="87" height="4.3" rx="2.1" opacity="0.8" transform="rotate(241.2)"/>
<rect x="297" y="-2.2" width="43" height="4.4" rx="2.2" opacity="0.5" transform="rotate(303.8)"/>
<rect x="290" y="-2.1" width="50" height="4.2" rx="2.1" opacity="0.9" transform="rotate(95.5)"/>
<rect x="296" y="-1.7" width="45" height="3.3" rx="1.7" opacity="0.4" transform="rotate(85.0)"/>
<rect x="289" y="-2.4" width="52" height="4.8" rx="2.4" opacity="0.5" transform="rotate(131.7)"/>
<rect x="256" y="-2.3" width="86" height="4.6" rx="2.3" opacity="0.4" transform="rotate(122.3)"/>
<rect x="283" y="-2.2" width="59" height="4.4" rx="2.2" opacity="0.4" transform="rotate(134.4)"/>
<rect x="262" y="-2.1" width="81" height="4.3" rx="2.1" opacity="0.5" transform="rotate(96.7)"/>
<rect x="275" y="-2.1" width="68" height="4.2" rx="2.1" opacity="0.8" transform="rotate(51.1)"/>
<rect x="298" y="-1.7" width="45" height="3.5" rx="1.7" opacity="0.7" transform="rotate(89.5)"/>
<rect x="299" y="-2.8" width="44" height="5.6" rx="2.8" opacity="0.4" transform="rotate(73.7)"/>
<rect x="295" y="-1.9" width="48" height="3.7" rx="1.9" opacity="0.7" transform="rotate(78.5)"/>
<rect x="261" y="-1.9" width="83" height="3.8" rx="1.9" opacity="0.8" transform="rotate(281.4)"/>
<rect x="263" y="-2.5" width="82" height="5.1" rx="2.5" opacity="0.7" transform="rotate(255.7)"/>
<rect x="273" y="-1.9" width="72" height="3.8" rx="1.9" opacity="0.7" transform="rotate(247.9)"/>
<rect x="276" y="-2.1" width="69" height="4.2" rx="2.1" opacity="0.6" transform="rotate(230.6)"/>
<rect x="294" y="-1.9" width="51" height="3.8" rx="1.9" opacity="0.8" transform="rotate(270.3)"/>
<rect x="296" y="-1.8" width="49" height="3.5" rx="1.8" opacity="0.9" transform="rotate(56.2)"/>
<rect x="305" y="-1.9" width="40" height="3.8" rx="1.9" opacity="0.9" transform="rotate(258.2)"/>
<rect x="270" y="-1.9" width="76" height="3.9" rx="1.9" opacity="0.9" transform="rotate(91.7)"/>
<rect x="258" y="-2.4" width="89" height="4.8" rx="2.4" opacity="0.6" transform="rotate(98.3)"/>
<rect x="298" y="-2.4" width="49" height="4.8" rx="2.4" opacity="0.8" transform="rotate(118.3)"/>
<rect x="297" y="-2.6" width="50" height="5.1" rx="2.6" opacity="0.6" transform="rotate(306.2)"/>
<rect x="269" y="-2.0" width="78" height="3.9" rx="2.0" opacity="0.6" transform="rotate(86.8)"/>
<rect x="275" y="-1.6" width="73" height="3.3" rx="1.6" opacity="0.4" transform="rotate(57.7)"/>
<rect x="277" y="-1.6" width="71" height="3.3" rx="1.6" opacity="0.4" transform="rotate(252.0)"/>
<rect x="281" y="-2.8" width="67" height="5.7" rx="2.8" opacity="0.8" transform="rotate(71.4)"/>
<rect x="274" y="-2.1" width="74" height="4.2" rx="2.1" opacity="0.8" transform="rotate(83.8)"/>
<rect x="300" y="-2.0" width="48" height="4.0" rx="2.0" opacity="0.9" transform="rotate(281.9)"/>
<rect x="290" y="-1.8" width="58" height="3.6" rx="1.8" opacity="0.4" transform="rotate(118.5)"/>
<rect x="286" y="-2.5" width="63" height="4.9" rx="2.5" opacity="0.7" transform="rotate(126.6)"/>
<rect x="256" y="-2.5" width="92" height="4.9" rx="2.5" opacity="0.9" transform="rotate(99.5)"/>
<rect x="279" y="-2.6" width="70" height="5.2" rx="2.6" opacity="0.4" transform="rotate(57.2)"/>
<rect x="284" y="-2.0" width="65" height="4.0" rx="2.0" opacity="0.6" transform="rotate(100.7)"/>
<rect x="255" y="-2.4" width="95" height="4.8" rx="2.4" opacity="0.8" transform="rotate(303.8)"/>
<rect x="267" y="-2.2" width="82" height="4.5" rx="2.2" opacity="0.5" transform="rotate(66.5)"/>
<rect x="267" y="-1.8" width="83" height="3.7" rx="1.8" opacity="0.4" transform="rotate(60.1)"/>
<rect x="305" y="-2.6" width="45" height="5.2" rx="2.6" opacity="0.9" transform="rotate(295.0)"/>
<rect x="300" y="-2.4" width="49" height="4.9" rx="2.4" opacity="0.6" transform="rotate(103.6)"/>
<rect x="296" y="-1.7" width="54" height="3.4" rx="1.7" opacity="0.4" transform="rotate(304.9)"/>
<rect x="282" y="-2.1" width="69" height="4.2" rx="2.1" opacity="0.5" transform="rotate(129.4)"/>
<rect x="258" y="-2.7" width="93" height="5.4" rx="2.7" opacity="0.7" transform="rotate(311.8)"/>
<rect x="309" y="-1.9" width="42" height="3.7" rx="1.9" opacity="0.6" transform="rotate(255.3)"/>
<rect x="288" y="-2.5" width="63" height="4.9" rx="2.5" opacity="0.5" transform="rotate(99.1)"/>
<rect x="265" y="-2.9" width="86" height="5.7" rx="2.9" opacity="0.9" transform="rotate(122.4)"/>
<rect x="285" y="-2.2" width="66" height="4.3" rx="2.2" opacity="0.9" transform="rotate(106.2)"/>
<rect x="258" y="-2.3" width="93" height="4.5" rx="2.3" opacity="0.7" transform="rotate(280.6)"/>
<rect x="281" y="-2.6" width="71" height="5.3" rx="2.6" opacity="0.5" transform="rotate(102.4)"/>
<rect x="283" y="-2.4" width="69" height="4.9" rx="2.4" opacity="0.9" transform="rotate(239.0)"/>
<rect x="263" y="-1.7" width="89" height="3.5" rx="1.7" opacity="0.8" transform="rotate(314.0)"/>
<rect x="277" y="-2.4" width="76" height="4.8" rx="2.4" opacity="0.7" transform="rotate(236.6)"/>
<rect x="264" y="-1.7" width="89" height="3.5" rx="1.7" opacity="0.7" transform="rotate(302.8)"/>
<rect x="262" y="-2.6" width="91" height="5.1" rx="2.6" opacity="0.5" transform="rotate(252.3)"/>
<rect x="302" y="-2.9" width="52" height="5.8" rx="2.9" opacity="0.5" transform="rotate(273.6)"/>
<rect x="268" y="-1.9" width="86" height="3.9" rx="1.9" opacity="0.4" transform="rotate(89.5)"/>
<rect x="306" y="-2.1" width="48" height="4.3" rx="2.1" opacity="0.4" transform="rotate(282.7)"/>
<rect x="271" y="-2.1" width="84" height="4.2" rx="2.1" opacity="0.6" transform="rotate(295.0)"/>
<rect x="274" y="-2.2" width="80" height="4.3" rx="2.2" opacity="0.7" transform="rotate(64.2)"/>
<rect x="263" y="-2.8" width="92" height="5.6" rx="2.8" opacity="0.5" transform="rotate(226.9)"/>
<rect x="277" y="-1.9" width="79" height="3.9" rx="1.9" opacity="0.4" transform="rotate(53.8)"/>
<rect x="308" y="-2.4" width="47" height="4.9" rx="2.4" opacity="0.8" transform="rotate(242.8)"/>
<rect x="274" y="-2.4" width="82" height="4.8" rx="2.4" opacity="0.6" transform="rotate(261.2)"/>
<rect x="272" y="-2.6" width="84" height="5.3" rx="2.6" opacity="0.6" transform="rotate(312.5)"/>
<rect x="276" y="-1.9" width="79" height="3.8" rx="1.9" opacity="0.6" transform="rotate(84.5)"/>
<rect x="281" y="-2.6" width="75" height="5.2" rx="2.6" opacity="0.7" transform="rotate(269.2)"/>
<rect x="282" y="-2.1" width="74" height="4.2" rx="2.1" opacity="0.6" transform="rotate(292.5)"/>
<rect x="313" y="-2.4" width="44" height="4.8" rx="2.4" opacity="0.9" transform="rotate(55.7)"/>
<rect x="309" y="-1.9" width="47" height="3.7" rx="1.9" opacity="0.4" transform="rotate(275.8)"/>
<rect x="295" y="-1.7" width="62" height="3.4" rx="1.7" opacity="0.8" transform="rotate(268.6)"/>
<rect x="307" y="-2.5" width="50" height="5.0" rx="2.5" opacity="0.7" transform="rotate(256.2)"/>
<rect x="281" y="-2.6" width="76" height="5.2" rx="2.6" opacity="0.8" transform="rotate(124.8)"/>
<rect x="293" y="-2.0" width="64" height="4.0" rx="2.0" opacity="0.9" transform="rotate(62.4)"/>
<rect x="312" y="-2.9" width="45" height="5.8" rx="2.9" opacity="0.5" transform="rotate(56.8)"/>
<rect x="307" y="-2.2" width="51" height="4.4" rx="2.2" opacity="0.8" transform="rotate(281.1)"/>
<rect x="314" y="-1.8" width="44" height="3.6" rx="1.8" opacity="0.9" transform="rotate(73.6)"/>
<rect x="267" y="-2.2" width="91" height="4.4" rx="2.2" opacity="0.5" transform="rotate(296.2)"/>
<rect x="267" y="-2.1" width="91" height="4.2" rx="2.1" opacity="0.8" transform="rotate(239.3)"/>
<rect x="301" y="-2.9" width="58" height="5.7" rx="2.9" opacity="0.5" transform="rotate(116.6)"/>
<rect x="307" y="-2.6" width="51" height="5.2" rx="2.6" opacity="0.7" transform="rotate(259.2)"/>
<rect x="272" y="-2.0" width="87" height="4.0" rx="2.0" opacity="0.9" transform="rotate(89.5)"/>
<rect x="267" y="-2.1" width="92" height="4.2" rx="2.1" opacity="0.5" transform="rotate(238.4)"/>
<rect x="274" y="-2.9" width="85" height="5.7" rx="2.9" opacity="0.5" transform="rotate(108.6)"/>
<rect x="262" y="-2.3" width="97" height="4.6" rx="2.3" opacity="0.9" transform="rotate(236.8)"/>
<rect x="313" y="-2.6" width="46" height="5.2" rx="2.6" opacity="0.6" transform="rotate(278.7)"/>
<rect x="278" y="-2.2" width="81" height="4.4" rx="2.2" opacity="0.9" transform="rotate(237.8)"/>
<rect x="264" y="-2.3" width="95" height="4.6" rx="2.3" opacity="0.6" transform="rotate(58.7)"/>
<rect x="297" y="-2.2" width="62" height="4.3" rx="2.2" opacity="0.6" transform="rotate(114.9)"/>
<rect x="265" y="-2.0" width="94" height="3.9" rx="2.0" opacity="0.9" transform="rotate(83.6)"/>
<rect x="286" y="-1.7" width="73" height="3.5" rx="1.7" opacity="0.4" transform="rotate(58.2)"/>
<rect x="301" y="-2.2" width="59" height="4.4" rx="2.2" opacity="0.8" transform="rotate(89.7)"/>
<rect x="268" y="-2.2" width="92" height="4.4" rx="2.2" opacity="0.8" transform="rotate(132.2)"/>
<rect x="304" y="-2.3" width="56" height="4.6" rx="2.3" opacity="0.8" transform="rotate(230.8)"/>
<rect x="317" y="-2.8" width="44" height="5.5" rx="2.8" opacity="0.4" transform="rotate(112.1)"/>
<rect x="263" y="-2.8" width="98" height="5.7" rx="2.8" opacity="0.7" transform="rotate(265.8)"/>
<rect x="312" y="-2.0" width="50" height="3.9" rx="2.0" opacity="0.8" transform="rotate(278.1)"/>
<rect x="311" y="-2.5" width="51" height="4.9" rx="2.5" opacity="0.6" transform="rotate(92.1)"/>
<rect x="301" y="-2.1" width="61" height="4.2" rx="2.1" opacity="0.7" transform="rotate(273.8)"/>
<rect x="321" y="-3.0" width="41" height="5.9" rx="3.0" opacity="0.9" transform="rotate(81.0)"/>
<rect x="294" y="-2.5" width="69" height="4.9" rx="2.5" opacity="0.7" transform="rotate(80.2)"/>
<rect x="303" y="-2.0" width="60" height="4.0" rx="2.0" opacity="0.5" transform="rotate(282.3)"/>
<rect x="309" y="-1.7" width="54" height="3.5" rx="1.7" opacity="0.4" transform="rotate(85.7)"/>
<rect x="302" y="-2.1" width="61" height="4.2" rx="2.1" opacity="0.8" transform="rotate(70.4)"/>
<rect x="308" y="-1.7" width="55" height="3.4" rx="1.7" opacity="0.4" transform="rotate(123.0)"/>
<rect x="268" y="-2.4" width="95" height="4.8" rx="2.4" opacity="0.5" transform="rotate(133.6)"/>
<rect x="319" y="-2.9" width="45" height="5.7" rx="2.9" opacity="0.5" transform="rotate(58.7)"/>
<rect x="283" y="-2.9" width="81" height="5.8" rx="2.9" opacity="0.4" transform="rotate(95.2)"/>
<rect x="283" y="-2.8" width="81" height="5.5" rx="2.8" opacity="0.4" transform="rotate(80.2)"/>
<rect x="268" y="-2.2" width="96" height="4.5" rx="2.2" opacity="0.8" transform="rotate(296.3)"/>
<rect x="320" y="-2.2" width="44" height="4.3" rx="2.2" opacity="0.7" transform="rotate(71.1)"/>
<rect x="279" y="-1.7" width="86" height="3.4" rx="1.7" opacity="0.6" transform="rotate(273.5)"/>
<rect x="276" y="-2.0" width="89" height="4.0" rx="2.0" opacity="0.5" transform="rotate(58.5)"/>
<rect x="268" y="-2.3" width="97" height="4.7" rx="2.3" opacity="0.8" transform="rotate(228.4)"/>
<rect x="307" y="-2.2" width="58" height="4.3" rx="2.2" opacity="0.4" transform="rotate(286.1)"/>
<rect x="317" y="-2.4" width="48" height="4.8" rx="2.4" opacity="0.7" transform="rotate(268.3)"/>
<rect x="299" y="-1.8" width="67" height="3.5" rx="1.8" opacity="0.8" transform="rotate(64.3)"/>
<rect x="300" y="-2.3" width="66" height="4.7" rx="2.3" opacity="0.9" transform="rotate(80.0)"/>
<rect x="315" y="-2.4" width="51" height="4.7" rx="2.4" opacity="0.5" transform="rotate(292.4)"/>
<rect x="270" y="-2.5" width="96" height="4.9" rx="2.5" opacity="0.4" transform="rotate(290.8)"/>
<rect x="304" y="-3.0" width="63" height="5.9" rx="3.0" opacity="0.7" transform="rotate(264.5)"/>
<rect x="269" y="-2.5" width="98" height="5.0" rx="2.5" opacity="0.5" transform="rotate(240.3)"/>
<rect x="324" y="-2.5" width="44" height="5.0" rx="2.5" opacity="0.4" transform="rotate(298.8)"/>
<rect x="321" y="-1.8" width="46" height="3.7" rx="1.8" opacity="0.5" transform="rotate(288.0)"/>
<rect x="289" y="-2.4" width="79" height="4.7" rx="2.4" opacity="0.9" transform="rotate(82.5)"/>
<rect x="293" y="-2.4" width="74" height="4.8" rx="2.4" opacity="0.5" transform="rotate(248.0)"/>
<rect x="301" y="-2.5" width="67" height="5.0" rx="2.5" opacity="0.9" transform="rotate(92.4)"/>
<rect x="278" y="-1.8" width="91" height="3.6" rx="1.8" opacity="0.7" transform="rotate(51.0)"/>
<rect x="299" y="-2.6" width="69" height="5.1" rx="2.6" opacity="0.8" transform="rotate(115.9)"/>
<rect x="292" y="-1.8" width="77" height="3.6" rx="1.8" opacity="0.7" transform="rotate(246.9)"/>
<rect x="318" y="-2.3" width="51" height="4.6" rx="2.3" opacity="0.7" transform="rotate(96.6)"/>
<rect x="275" y="-2.8" width="94" height="5.7" rx="2.8" opacity="0.9" transform="rotate(226.1)"/>
<rect x="269" y="-2.7" width="100" height="5.3" rx="2.7" opacity="0.5" transform="rotate(119.6)"/>
<rect x="280" y="-2.9" width="90" height="5.8" rx="2.9" opacity="0.8" transform="rotate(133.7)"/>
<rect x="277" y="-2.5" width="93" height="5.1" rx="2.5" opacity="0.7" transform="rotate(96.9)"/>
<rect x="301" y="-2.8" width="69" height="5.6" rx="2.8" opacity="0.6" transform="rotate(240.4)"/>
<rect x="319" y="-2.0" width="52" height="3.9" rx="2.0" opacity="0.9" transform="rotate(298.5)"/>
<rect x="290" y="-2.9" width="81" height="5.8" rx="2.9" opacity="0.9" transform="rotate(281.1)"/>
<rect x="271" y="-2.2" width="100" height="4.4" rx="2.2" opacity="0.9" transform="rotate(98.7)"/>
<rect x="287" y="-1.9" width="83" height="3.7" rx="1.9" opacity="0.5" transform="rotate(78.6)"/>
<rect x="311" y="-1.9" width="61" height="3.8" rx="1.9" opacity="0.7" transform="rotate(301.0)"/>
<rect x="278" y="-2.0" width="94" height="3.9" rx="2.0" opacity="0.4" transform="rotate(263.7)"/>
<rect x="284" y="-2.4" width="88" height="4.8" rx="2.4" opacity="0.4" transform="rotate(242.3)"/>
<rect x="280" y="-2.0" width="93" height="4.1" rx="2.0" opacity="0.9" transform="rotate(261.8)"/>
<rect x="272" y="-2.5" width="101" height="4.9" rx="2.5" opacity="0.4" transform="rotate(286.8)"/>
<rect x="283" y="-2.3" width="90" height="4.6" rx="2.3" opacity="0.8" transform="rotate(130.4)"/>
<rect x="293" y="-2.7" width="81" height="5.3" rx="2.7" opacity="0.8" transform="rotate(272.3)"/>
<rect x="320" y="-1.7" width="54" height="3.5" rx="1.7" opacity="0.7" transform="rotate(292.2)"/>
<rect x="321" y="-2.2" width="54" height="4.5" rx="2.2" opacity="0.8" transform="rotate(63.4)"/>
<rect x="294" y="-1.7" width="80" height="3.5" rx="1.7" opacity="0.5" transform="rotate(284.7)"/>
<rect x="300" y="-2.8" width="75" height="5.5" rx="2.8" opacity="0.9" transform="rotate(86.2)"/>
<rect x="295" y="-2.7" width="81" height="5.5" rx="2.7" opacity="0.6" transform="rotate(54.9)"/>
<rect x="315" y="-2.6" width="60" height="5.1" rx="2.6" opacity="0.7" transform="rotate(238.4)"/>
<rect x="306" y="-3.0" width="69" height="6.1" rx="3.0" opacity="0.9" transform="rotate(284.6)"/>
<rect x="289" y="-3.0" width="88" height="6.0" rx="3.0" opacity="0.7" transform="rotate(100.6)"/>
<rect x="303" y="-2.1" width="73" height="4.3" rx="2.1" opacity="0.4" transform="rotate(98.6)"/>
<rect x="299" y="-1.9" width="77" height="3.7" rx="1.9" opacity="0.6" transform="rotate(283.7)"/>
<rect x="305" y="-2.0" width="71" height="4.1" rx="2.0" opacity="0.8" transform="rotate(285.6)"/>
<rect x="313" y="-2.4" width="64" height="4.7" rx="2.4" opacity="0.7" transform="rotate(283.1)"/>
<rect x="296" y="-2.0" width="81" height="4.0" rx="2.0" opacity="0.6" transform="rotate(102.2)"/>
<rect x="324" y="-2.8" width="53" height="5.6" rx="2.8" opacity="0.8" transform="rotate(248.0)"/>
<rect x="329" y="-1.8" width="48" height="3.6" rx="1.8" opacity="0.8" transform="rotate(116.7)"/>
<rect x="327" y="-2.5" width="51" height="4.9" rx="2.5" opacity="0.6" transform="rotate(240.4)"/>
<rect x="288" y="-1.9" width="90" height="3.8" rx="1.9" opacity="0.4" transform="rotate(101.3)"/>
<rect x="310" y="-3.0" width="68" height="6.0" rx="3.0" opacity="0.8" transform="rotate(257.1)"/>
<rect x="289" y="-2.8" width="89" height="5.7" rx="2.8" opacity="0.7" transform="rotate(255.3)"/>
<rect x="283" y="-2.0" width="95" height="3.9" rx="2.0" opacity="0.7" transform="rotate(81.4)"/>
<rect x="320" y="-2.6" width="59" height="5.1" rx="2.6" opacity="0.4" transform="rotate(254.7)"/>
<rect x="305" y="-2.2" width="74" height="4.4" rx="2.2" opacity="0.8" transform="rotate(109.5)"/>
<rect x="286" y="-2.2" width="93" height="4.4" rx="2.2" opacity="0.6" transform="rotate(99.2)"/>
<rect x="319" y="-2.9" width="60" height="5.8" rx="2.9" opacity="0.6" transform="rotate(126.9)"/>
<rect x="302" y="-2.9" width="77" height="5.8" rx="2.9" opacity="0.9" transform="rotate(245.9)"/>
<rect x="326" y="-2.5" width="53" height="5.0" rx="2.5" opacity="0.8" transform="rotate(243.5)"/>
<rect x="303" y="-2.8" width="76" height="5.6" rx="2.8" opacity="0.9" transform="rotate(251.6)"/>
<rect x="314" y="-2.8" width="66" height="5.7" rx="2.8" opacity="0.8" transform="rotate(284.2)"/>
<rect x="335" y="-3.0" width="45" height="6.0" rx="3.0" opacity="0.4" transform="rotate(72.3)"/>
<rect x="285" y="-2.8" width="95" height="5.6" rx="2.8" opacity="0.8" transform="rotate(279.0)"/>
<rect x="287" y="-1.9" width="93" height="3.7" rx="1.9" opacity="0.8" transform="rotate(131.0)"/>
<rect x="332" y="-2.7" width="49" height="5.4" rx="2.7" opacity="0.5" transform="rotate(266.2)"/>
<rect x="285" y="-2.8" width="96" height="5.7" rx="2.8" opacity="0.8" transform="rotate(117.5)"/>
<rect x="335" y="-1.9" width="46" height="3.7" rx="1.9" opacity="0.8" transform="rotate(304.2)"/>
<rect x="306" y="-2.4" width="76" height="4.7" rx="2.4" opacity="0.5" transform="rotate(96.9)"/>
<rect x="315" y="-2.2" width="67" height="4.4" rx="2.2" opacity="0.4" transform="rotate(234.5)"/>
<rect x="303" y="-2.3" width="79" height="4.6" rx="2.3" opacity="0.7" transform="rotate(295.6)"/>
<rect x="304" y="-2.8" width="78" height="5.6" rx="2.8" opacity="0.8" transform="rotate(299.0)"/>
<rect x="298" y="-2.9" width="85" height="5.7" rx="2.9" opacity="0.4" transform="rotate(303.4)"/>
<rect x="286" y="-2.2" width="97" height="4.4" rx="2.2" opacity="0.6" transform="rotate(301.8)"/>
<rect x="312" y="-2.4" width="72" height="4.8" rx="2.4" opacity="0.8" transform="rotate(90.5)"/>
<rect x="330" y="-2.3" width="54" height="4.7" rx="2.3" opacity="0.8" transform="rotate(239.7)"/>
<rect x="291" y="-2.8" width="93" height="5.6" rx="2.8" opacity="0.5" transform="rotate(305.8)"/>
<rect x="338" y="-2.2" width="46" height="4.3" rx="2.2" opacity="0.8" transform="rotate(118.3)"/>
<rect x="319" y="-2.8" width="65" height="5.7" rx="2.8" opacity="0.7" transform="rotate(117.1)"/>
<rect x="297" y="-2.3" width="87" height="4.6" rx="2.3" opacity="0.7" transform="rotate(277.6)"/>
<rect x="300" y="-2.6" width="84" height="5.2" rx="2.6" opacity="0.9" transform="rotate(281.9)"/>
<rect x="315" y="-2.4" width="69" height="4.7" rx="2.4" opacity="0.9" transform="rotate(242.0)"/>
<rect x="334" y="-2.5" width="51" height="5.1" rx="2.5" opacity="0.6" transform="rotate(264.4)"/>
<rect x="327" y="-2.9" width="58" height="5.9" rx="2.9" opacity="0.5" transform="rotate(82.4)"/>
<rect x="293" y="-2.1" width="92" height="4.3" rx="2.1" opacity="0.7" transform="rotate(294.7)"/>
<rect x="309" y="-2.8" width="76" height="5.7" rx="2.8" opacity="0.9" transform="rotate(279.5)"/>
<rect x="325" y="-1.8" width="60" height="3.7" rx="1.8" opacity="0.5" transform="rotate(104.9)"/>
<rect x="284" y="-2.2" width="102" height="4.3" rx="2.2" opacity="0.5" transform="rotate(289.5)"/>
<rect x="330" y="-2.5" width="58" height="5.0" rx="2.5" opacity="0.5" transform="rotate(235.5)"/>
<rect x="319" y="-2.2" width="69" height="4.5" rx="2.2" opacity="0.4" transform="rotate(266.2)"/>
<rect x="294" y="-2.1" width="94" height="4.2" rx="2.1" opacity="0.9" transform="rotate(52.0)"/>
<rect x="328" y="-2.0" width="60" height="4.1" rx="2.0" opacity="0.8" transform="rotate(256.6)"/>
<rect x="310" y="-2.8" width="78" height="5.7" rx="2.8" opacity="0.6" transform="rotate(292.6)"/>
<rect x="332" y="-2.1" width="56" height="4.2" rx="2.1" opacity="0.7" transform="rotate(104.5)"/>
<rect x="327" y="-2.1" width="61" height="4.1" rx="2.1" opacity="0.5" transform="rotate(127.0)"/>
<rect x="341" y="-2.6" width="48" height="5.1" rx="2.6" opacity="0.7" transform="rotate(60.7)"/>
<rect x="287" y="-2.5" width="102" height="5.0" rx="2.5" opacity="0.5" transform="rotate(298.6)"/>
<rect x="311" y="-2.8" width="78" height="5.5" rx="2.8" opacity="0.7" transform="rotate(79.9)"/>
<rect x="300" y="-3.0" width="89" height="5.9" rx="3.0" opacity="0.7" transform="rotate(253.5)"/>
<rect x="292" y="-2.9" width="98" height="5.8" rx="2.9" opacity="0.9" transform="rotate(67.4)"/>
<rect x="294" y="-2.4" width="95" height="4.8" rx="2.4" opacity="0.4" transform="rotate(292.4)"/>
<rect x="336" y="-2.7" width="53" height="5.4" rx="2.7" opacity="0.4" transform="rotate(66.2)"/>
<rect x="318" y="-1.9" width="72" height="3.9" rx="1.9" opacity="0.4" transform="rotate(240.1)"/>
<rect x="344" y="-2.7" width="47" height="5.4" rx="2.7" opacity="0.9" transform="rotate(118.5)"/>
<rect x="334" y="-3.0" width="58" height="6.0" rx="3.0" opacity="0.5" transform="rotate(59.7)"/>
<rect x="292" y="-2.8" width="99" height="5.5" rx="2.8" opacity="0.6" transform="rotate(54.3)"/>
<rect x="335" y="-2.8" width="56" height="5.6" rx="2.8" opacity="0.6" transform="rotate(280.9)"/>
<rect x="326" y="-3.2" width="65" height="6.3" rx="3.2" opacity="0.7" transform="rotate(236.9)"/>
<rect x="310" y="-2.9" width="82" height="5.8" rx="2.9" opacity="0.7" transform="rotate(93.9)"/>
<rect x="305" y="-2.5" width="87" height="5.1" rx="2.5" opacity="0.8" transform="rotate(102.8)"/>
<rect x="329" y="-2.9" width="63" height="5.8" rx="2.9" opacity="0.5" transform="rotate(299.9)"/>
<rect x="315" y="-2.3" width="78" height="4.5" rx="2.3" opacity="0.9" transform="rotate(270.7)"/>
<rect x="307" y="-2.8" width="87" height="5.6" rx="2.8" opacity="0.8" transform="rotate(235.4)"/>
<rect x="324" y="-2.3" width="70" height="4.6" rx="2.3" opacity="0.6" transform="rotate(111.8)"/>
<rect x="304" y="-1.9" width="89" height="3.9" rx="1.9" opacity="0.4" transform="rotate(102.5)"/>
<rect x="291" y="-2.0" width="103" height="3.9" rx="2.0" opacity="0.7" transform="rotate(257.5)"/>
<rect x="289" y="-2.0" width="105" height="4.0" rx="2.0" opacity="0.7" transform="rotate(121.0)"/>
<rect x="315" y="-2.3" width="79" height="4.7" rx="2.3" opacity="0.8" transform="rotate(306.1)"/>
<rect x="297" y="-2.7" width="97" height="5.4" rx="2.7" opacity="0.8" transform="rotate(68.3)"/>
<rect x="299" y="-2.4" width="95" height="4.8" rx="2.4" opacity="0.7" transform="rotate(236.7)"/>
<rect x="299" y="-2.5" width="96" height="5.1" rx="2.5" opacity="0.7" transform="rotate(56.2)"/>
<rect x="327" y="-2.8" width="68" height="5.6" rx="2.8" opacity="0.9" transform="rotate(277.6)"/>
<rect x="327" y="-2.7" width="68" height="5.4" rx="2.7" opacity="0.6" transform="rotate(291.5)"/>
<rect x="298" y="-2.7" width="98" height="5.4" rx="2.7" opacity="0.8" transform="rotate(267.9)"/>
<rect x="311" y="-3.1" width="85" height="6.2" rx="3.1" opacity="0.4" transform="rotate(88.6)"/>
<rect x="293" y="-2.9" width="103" height="5.8" rx="2.9" opacity="0.6" transform="rotate(306.1)"/>
<rect x="334" y="-2.4" width="62" height="4.8" rx="2.4" opacity="0.9" transform="rotate(295.1)"/>
<rect x="311" y="-2.7" width="85" height="5.5" rx="2.7" opacity="0.7" transform="rotate(96.3)"/>
<rect x="289" y="-1.9" width="108" height="3.8" rx="1.9" opacity="0.7" transform="rotate(308.2)"/>
<rect x="320" y="-3.0" width="78" height="6.0" rx="3.0" opacity="0.8" transform="rotate(59.5)"/>
<rect x="309" y="-2.3" width="88" height="4.7" rx="2.3" opacity="0.4" transform="rotate(293.4)"/>
<rect x="306" y="-3.0" width="92" height="6.0" rx="3.0" opacity="0.4" transform="rotate(264.0)"/>
<rect x="338" y="-2.5" width="60" height="5.1" rx="2.5" opacity="0.8" transform="rotate(245.1)"/>
<rect x="315" y="-2.4" width="84" height="4.8" rx="2.4" opacity="0.7" transform="rotate(244.4)"/>
<rect x="306" y="-2.0" width="94" height="4.0" rx="2.0" opacity="0.8" transform="rotate(105.6)"/>
<rect x="342" y="-1.8" width="57" height="3.7" rx="1.8" opacity="0.5" transform="rotate(267.9)"/>
<rect x="298" y="-2.4" width="103" height="4.8" rx="2.4" opacity="0.9" transform="rotate(128.0)"/>
<rect x="330" y="-2.3" width="71" height="4.5" rx="2.3" opacity="0.8" transform="rotate(116.1)"/>
<rect x="298" y="-3.1" width="103" height="6.2" rx="3.1" opacity="0.4" transform="rotate(275.4)"/>
<rect x="335" y="-3.1" width="67" height="6.2" rx="3.1" opacity="0.9" transform="rotate(57.7)"/>
<rect x="299" y="-2.1" width="103" height="4.2" rx="2.1" opacity="0.6" transform="rotate(234.3)"/>
<rect x="349" y="-2.8" width="53" height="5.6" rx="2.8" opacity="0.5" transform="rotate(116.9)"/>
<rect x="312" y="-2.7" width="90" height="5.5" rx="2.7" opacity="0.8" transform="rotate(302.9)"/>
<rect x="345" y="-2.5" width="57" height="5.0" rx="2.5" opacity="0.8" transform="rotate(290.5)"/>
<rect x="311" y="-2.0" width="92" height="3.9" rx="2.0" opacity="0.6" transform="rotate(66.2)"/>
<rect x="327" y="-2.3" width="76" height="4.7" rx="2.3" opacity="0.4" transform="rotate(258.6)"/>
<rect x="323" y="-3.1" width="80" height="6.1" rx="3.1" opacity="0.7" transform="rotate(245.0)"/>
<rect x="303" y="-2.2" width="100" height="4.3" rx="2.2" opacity="0.8" transform="rotate(54.1)"/>
<rect x="300" y="-3.2" width="103" height="6.4" rx="3.2" opacity="0.5" transform="rotate(289.2)"/>
<rect x="323" y="-3.1" width="81" height="6.1" rx="3.1" opacity="0.8" transform="rotate(238.3)"/>
<rect x="308" y="-2.8" width="95" height="5.6" rx="2.8" opacity="0.5" transform="rotate(298.5)"/>
<rect x="309" y="-3.0" width="95" height="6.1" rx="3.0" opacity="0.4" transform="rotate(86.6)"/>
<rect x="320" y="-2.5" width="84" height="5.0" rx="2.5" opacity="0.4" transform="rotate(95.9)"/>
<rect x="322" y="-2.9" width="83" height="5.9" rx="2.9" opacity="0.6" transform="rotate(283.1)"/>
<rect x="310" y="-2.6" width="95" height="5.2" rx="2.6" opacity="0.4" transform="rotate(82.3)"/>
<rect x="296" y="-2.1" width="109" height="4.2" rx="2.1" opacity="0.6" transform="rotate(299.9)"/>
<rect x="334" y="-3.1" width="71" height="6.2" rx="3.1" opacity="0.6" transform="rotate(282.4)"/>
<rect x="305" y="-2.6" width="100" height="5.1" rx="2.6" opacity="0.9" transform="rotate(244.8)"/>
<rect x="317" y="-2.9" width="88" height="5.7" rx="2.9" opacity="0.7" transform="rotate(62.7)"/>
<rect x="321" y="-3.0" width="85" height="6.0" rx="3.0" opacity="0.5" transform="rotate(102.1)"/>
<rect x="316" y="-2.4" width="90" height="4.8" rx="2.4" opacity="0.4" transform="rotate(256.9)"/>
<rect x="310" y="-2.5" width="96" height="5.1" rx="2.5" opacity="0.4" transform="rotate(261.7)"/>
<rect x="343" y="-2.7" width="63" height="5.4" rx="2.7" opacity="0.8" transform="rotate(116.7)"/>
<rect x="302" y="-3.2" width="104" height="6.4" rx="3.2" opacity="0.5" transform="rotate(259.8)"/>
<rect x="323" y="-2.2" width="84" height="4.4" rx="2.2" opacity="0.7" transform="rotate(85.3)"/>
<rect x="340" y="-2.2" width="66" height="4.4" rx="2.2" opacity="0.9" transform="rotate(115.5)"/>
<rect x="332" y="-2.5" width="74" height="4.9" rx="2.5" opacity="0.9" transform="rotate(241.6)"/>
<rect x="345" y="-2.5" width="62" height="5.0" rx="2.5" opacity="0.4" transform="rotate(118.7)"/>
<rect x="327" y="-2.0" width="80" height="4.1" rx="2.0" opacity="0.9" transform="rotate(232.7)"/>
<rect x="316" y="-1.9" width="93" height="3.7" rx="1.9" opacity="0.6" transform="rotate(232.0)"/>
<rect x="316" y="-3.2" width="93" height="6.4" rx="3.2" opacity="0.4" transform="rotate(53.5)"/>
<rect x="328" y="-2.5" width="81" height="5.0" rx="2.5" opacity="0.4" transform="rotate(264.4)"/>
<rect x="335" y="-1.9" width="74" height="3.8" rx="1.9" opacity="0.6" transform="rotate(68.7)"/>
<rect x="325" y="-2.3" width="86" height="4.5" rx="2.3" opacity="0.5" transform="rotate(279.7)"/>
<rect x="315" y="-2.4" width="96" height="4.9" rx="2.4" opacity="0.9" transform="rotate(230.4)"/>
<rect x="301" y="-2.8" width="110" height="5.6" rx="2.8" opacity="0.9" transform="rotate(128.9)"/>
<rect x="303" y="-3.0" width="109" height="6.0" rx="3.0" opacity="0.7" transform="rotate(122.2)"/>
<rect x="304" y="-2.8" width="110" height="5.6" rx="2.8" opacity="0.8" transform="rotate(302.9)"/>
<rect x="320" y="-2.1" width="93" height="4.2" rx="2.1" opacity="0.6" transform="rotate(111.8)"/>
<rect x="351" y="-2.1" width="63" height="4.2" rx="2.1" opacity="0.4" transform="rotate(253.4)"/>
<rect x="367" y="-3.0" width="48" height="6.0" rx="3.0" opacity="0.7" transform="rotate(250.6)"/>
<rect x="333" y="-2.9" width="82" height="5.9" rx="2.9" opacity="0.4" transform="rotate(296.7)"/>
<rect x="335" y="-3.0" width="80" height="5.9" rx="3.0" opacity="0.5" transform="rotate(263.0)"/>
<rect x="327" y="-2.0" width="88" height="3.9" rx="2.0" opacity="0.7" transform="rotate(79.8)"/>
<rect x="306" y="-2.8" width="110" height="5.7" rx="2.8" opacity="0.4" transform="rotate(55.1)"/>
<rect x="311" y="-2.2" width="105" height="4.4" rx="2.2" opacity="0.5" transform="rotate(97.2)"/>
<rect x="330" y="-2.7" width="86" height="5.4" rx="2.7" opacity="0.4" transform="rotate(65.6)"/>
<rect x="311" y="-3.3" width="106" height="6.6" rx="3.3" opacity="0.8" transform="rotate(241.0)"/>
<rect x="324" y="-2.5" width="94" height="5.0" rx="2.5" opacity="0.4" transform="rotate(54.7)"/>
<rect x="308" y="-3.3" width="110" height="6.5" rx="3.3" opacity="0.8" transform="rotate(103.3)"/>
<rect x="322" y="-3.3" width="97" height="6.5" rx="3.3" opacity="0.4" transform="rotate(284.5)"/>
<rect x="332" y="-3.3" width="87" height="6.6" rx="3.3" opacity="0.5" transform="rotate(74.5)"/>
<rect x="371" y="-2.3" width="48" height="4.5" rx="2.3" opacity="0.5" transform="rotate(290.1)"/>
<rect x="342" y="-3.3" width="78" height="6.5" rx="3.3" opacity="0.4" transform="rotate(290.9)"/>
<rect x="351" y="-2.2" width="70" height="4.4" rx="2.2" opacity="0.8" transform="rotate(284.1)"/>
<rect x="358" y="-2.2" width="63" height="4.4" rx="2.2" opacity="0.9" transform="rotate(251.1)"/>
<rect x="346" y="-2.2" width="76" height="4.4" rx="2.2" opacity="0.5" transform="rotate(122.6)"/>
<rect x="368" y="-2.9" width="54" height="5.8" rx="2.9" opacity="0.7" transform="rotate(292.9)"/>
<rect x="332" y="-2.3" width="90" height="4.7" rx="2.3" opacity="0.8" transform="rotate(268.1)"/>
<rect x="320" y="-2.0" width="103" height="4.1" rx="2.0" opacity="0.4" transform="rotate(254.5)"/>
<rect x="325" y="-2.9" width="98" height="5.8" rx="2.9" opacity="0.4" transform="rotate(89.6)"/>
<rect x="351" y="-2.6" width="73" height="5.1" rx="2.6" opacity="0.8" transform="rotate(287.4)"/>
<rect x="347" y="-2.7" width="77" height="5.5" rx="2.7" opacity="0.7" transform="rotate(65.2)"/>
<rect x="321" y="-2.4" width="103" height="4.7" rx="2.4" opacity="0.8" transform="rotate(290.9)"/>
<rect x="326" y="-2.8" width="98" height="5.6" rx="2.8" opacity="0.6" transform="rotate(65.5)"/>
<rect x="336" y="-2.4" width="90" height="4.8" rx="2.4" opacity="0.6" transform="rotate(258.7)"/>
<rect x="324" y="-2.7" width="103" height="5.4" rx="2.7" opacity="0.6" transform="rotate(86.4)"/>
<rect x="336" y="-2.3" width="92" height="4.6" rx="2.3" opacity="0.9" transform="rotate(302.7)"/>
<rect x="319" y="-2.9" width="109" height="5.8" rx="2.9" opacity="0.8" transform="rotate(81.8)"/>
<rect x="343" y="-3.1" width="85" height="6.2" rx="3.1" opacity="0.6" transform="rotate(258.3)"/>
<rect x="354" y="-2.8" width="76" height="5.6" rx="2.8" opacity="0.7" transform="rotate(256.3)"/>
<rect x="318" y="-2.6" width="111" height="5.1" rx="2.6" opacity="0.8" transform="rotate(287.1)"/>
<rect x="341" y="-2.9" width="89" height="5.8" rx="2.9" opacity="0.6" transform="rotate(234.1)"/>
<rect x="331" y="-2.2" width="101" height="4.5" rx="2.2" opacity="0.8" transform="rotate(255.4)"/>
<rect x="374" y="-2.7" width="59" height="5.4" rx="2.7" opacity="0.8" transform="rotate(119.8)"/>
<rect x="322" y="-3.1" width="111" height="6.2" rx="3.1" opacity="0.6" transform="rotate(296.9)"/>
<rect x="377" y="-3.1" width="57" height="6.2" rx="3.1" opacity="0.5" transform="rotate(248.4)"/>
<rect x="326" y="-2.6" width="109" height="5.1" rx="2.6" opacity="0.4" transform="rotate(234.4)"/>
<rect x="372" y="-3.0" width="63" height="5.9" rx="3.0" opacity="0.6" transform="rotate(120.4)"/>
<rect x="327" y="-3.4" width="108" height="6.8" rx="3.4" opacity="0.8" transform="rotate(122.1)"/>
<rect x="353" y="-3.0" width="82" height="6.1" rx="3.0" opacity="0.4" transform="rotate(293.0)"/>
<rect x="333" y="-2.4" width="103" height="4.9" rx="2.4" opacity="0.8" transform="rotate(251.3)"/>
<rect x="345" y="-3.1" width="92" height="6.2" rx="3.1" opacity="0.9" transform="rotate(243.0)"/>
<rect x="331" y="-2.6" width="106" height="5.2" rx="2.6" opacity="0.7" transform="rotate(289.2)"/>
<rect x="352" y="-3.0" width="85" height="6.0" rx="3.0" opacity="0.6" transform="rotate(276.5)"/>
<rect x="334" y="-2.3" width="104" height="4.7" rx="2.3" opacity="0.5" transform="rotate(298.6)"/>
<rect x="351" y="-3.2" width="87" height="6.4" rx="3.2" opacity="0.5" transform="rotate(301.1)"/>
<rect x="349" y="-2.0" width="89" height="3.9" rx="2.0" opacity="0.5" transform="rotate(246.1)"/>
<rect x="344" y="-2.6" width="95" height="5.2" rx="2.6" opacity="0.9" transform="rotate(260.2)"/>
<rect x="347" y="-2.0" width="92" height="4.0" rx="2.0" opacity="0.6" transform="rotate(294.8)"/>
<rect x="358" y="-3.2" width="81" height="6.3" rx="3.2" opacity="0.4" transform="rotate(64.8)"/>
<rect x="344" y="-3.3" width="96" height="6.6" rx="3.3" opacity="0.9" transform="rotate(249.4)"/>
<rect x="325" y="-2.9" width="115" height="5.9" rx="2.9" opacity="0.8" transform="rotate(239.9)"/>
<rect x="331" y="-3.2" width="109" height="6.4" rx="3.2" opacity="0.8" transform="rotate(303.5)"/>
<rect x="338" y="-2.9" width="103" height="5.7" rx="2.9" opacity="0.8" transform="rotate(243.2)"/>
<rect x="329" y="-2.0" width="112" height="4.1" rx="2.0" opacity="0.5" transform="rotate(104.3)"/>
<rect x="347" y="-2.8" width="94" height="5.6" rx="2.8" opacity="0.6" transform="rotate(59.4)"/>
<rect x="330" y="-2.2" width="113" height="4.5" rx="2.2" opacity="0.5" transform="rotate(99.6)"/>
<rect x="342" y="-3.3" width="101" height="6.5" rx="3.3" opacity="0.8" transform="rotate(278.0)"/>
<rect x="332" y="-2.7" width="111" height="5.5" rx="2.7" opacity="0.9" transform="rotate(244.7)"/>
<rect x="330" y="-3.1" width="114" height="6.1" rx="3.1" opacity="0.4" transform="rotate(250.3)"/>
<rect x="362" y="-2.6" width="82" height="5.1" rx="2.6" opacity="0.8" transform="rotate(59.9)"/>
<rect x="326" y="-3.3" width="119" height="6.6" rx="3.3" opacity="0.7" transform="rotate(260.3)"/>
<rect x="360" y="-2.7" width="85" height="5.4" rx="2.7" opacity="0.6" transform="rotate(250.4)"/>
<rect x="341" y="-2.7" width="105" height="5.4" rx="2.7" opacity="0.8" transform="rotate(250.6)"/>
<rect x="352" y="-2.7" width="97" height="5.4" rx="2.7" opacity="0.8" transform="rotate(65.7)"/>
<rect x="366" y="-3.2" width="84" height="6.3" rx="3.2" opacity="0.5" transform="rotate(291.0)"/>
<rect x="333" y="-3.4" width="117" height="6.7" rx="3.4" opacity="0.7" transform="rotate(303.5)"/>
<rect x="332" y="-2.6" width="118" height="5.2" rx="2.6" opacity="0.6" transform="rotate(56.6)"/>
<rect x="353" y="-3.0" width="97" height="5.9" rx="3.0" opacity="0.8" transform="rotate(264.5)"/>
<rect x="344" y="-2.6" width="106" height="5.2" rx="2.6" opacity="0.9" transform="rotate(110.3)"/>
<rect x="336" y="-2.8" width="114" height="5.7" rx="2.8" opacity="0.4" transform="rotate(261.9)"/>
<rect x="349" y="-2.4" width="102" height="4.7" rx="2.4" opacity="0.9" transform="rotate(277.5)"/>
<rect x="337" y="-2.0" width="114" height="4.1" rx="2.0" opacity="0.5" transform="rotate(64.1)"/>
<rect x="348" y="-2.2" width="102" height="4.5" rx="2.2" opacity="0.5" transform="rotate(259.1)"/>
<rect x="357" y="-3.0" width="95" height="6.1" rx="3.0" opacity="0.8" transform="rotate(61.2)"/>
<rect x="381" y="-2.4" width="73" height="4.9" rx="2.4" opacity="0.4" transform="rotate(296.1)"/>
<rect x="333" y="-3.1" width="120" height="6.2" rx="3.1" opacity="0.9" transform="rotate(118.7)"/>
<rect x="393" y="-2.5" width="61" height="5.0" rx="2.5" opacity="0.9" transform="rotate(240.4)"/>
<rect x="363" y="-2.5" width="91" height="5.1" rx="2.5" opacity="0.7" transform="rotate(245.9)"/>
<rect x="359" y="-3.5" width="95" height="7.1" rx="3.5" opacity="0.5" transform="rotate(250.9)"/>
<rect x="378" y="-3.6" width="77" height="7.1" rx="3.6" opacity="0.7" transform="rotate(239.3)"/>
<rect x="339" y="-3.1" width="115" height="6.1" rx="3.1" opacity="0.8" transform="rotate(298.3)"/>
<rect x="343" y="-2.8" width="112" height="5.7" rx="2.8" opacity="0.8" transform="rotate(66.1)"/>
<rect x="374" y="-2.3" width="81" height="4.6" rx="2.3" opacity="0.7" transform="rotate(291.8)"/>
<rect x="334" y="-2.5" width="121" height="5.0" rx="2.5" opacity="0.6" transform="rotate(73.9)"/>
<rect x="369" y="-2.8" width="88" height="5.5" rx="2.8" opacity="0.5" transform="rotate(299.5)"/>
<rect x="373" y="-2.2" width="84" height="4.3" rx="2.2" opacity="0.6" transform="rotate(121.0)"/>
<rect x="375" y="-2.6" width="84" height="5.1" rx="2.6" opacity="0.7" transform="rotate(239.2)"/>
<rect x="351" y="-3.1" width="109" height="6.1" rx="3.1" opacity="0.7" transform="rotate(63.1)"/>
<rect x="353" y="-3.2" width="107" height="6.3" rx="3.2" opacity="0.4" transform="rotate(242.1)"/>
<rect x="337" y="-2.9" width="124" height="5.9" rx="2.9" opacity="0.4" transform="rotate(266.6)"/>
<rect x="351" y="-3.6" width="113" height="7.1" rx="3.6" opacity="0.9" transform="rotate(291.6)"/>
<rect x="363" y="-3.2" width="103" height="6.4" rx="3.2" opacity="0.9" transform="rotate(254.8)"/>
<rect x="358" y="-3.4" width="109" height="6.8" rx="3.4" opacity="0.7" transform="rotate(62.4)"/>
<rect x="346" y="-2.1" width="123" height="4.1" rx="2.1" opacity="0.9" transform="rotate(62.7)"/>
<rect x="365" y="-3.6" width="104" height="7.3" rx="3.6" opacity="0.7" transform="rotate(236.9)"/>
<rect x="345" y="-3.4" width="126" height="6.9" rx="3.4" opacity="0.6" transform="rotate(269.7)"/>
<rect x="353" y="-2.6" width="117" height="5.3" rx="2.6" opacity="0.7" transform="rotate(294.5)"/>
<rect x="380" y="-3.3" width="91" height="6.6" rx="3.3" opacity="0.8" transform="rotate(238.3)"/>
<rect x="353" y="-3.6" width="120" height="7.3" rx="3.6" opacity="0.7" transform="rotate(249.4)"/>
<rect x="358" y="-3.4" width="117" height="6.7" rx="3.4" opacity="0.8" transform="rotate(240.0)"/>
<rect x="364" y="-3.0" width="115" height="6.0" rx="3.0" opacity="0.4" transform="rotate(242.5)"/>
<rect x="369" y="-2.8" width="110" height="5.6" rx="2.8" opacity="0.5" transform="rotate(286.9)"/>
<rect x="358" y="-2.1" width="121" height="4.2" rx="2.1" opacity="0.9" transform="rotate(123.5)"/>
<rect x="351" y="-3.7" width="129" height="7.3" rx="3.7" opacity="0.4" transform="rotate(59.6)"/>
<rect x="360" y="-2.1" width="123" height="4.3" rx="2.1" opacity="0.7" transform="rotate(287.8)"/>
<rect x="362" y="-2.9" width="124" height="5.9" rx="2.9" opacity="0.7" transform="rotate(301.0)"/>
<rect x="365" y="-3.1" width="124" height="6.1" rx="3.1" opacity="0.5" transform="rotate(255.2)"/>
<rect x="376" y="-3.8" width="118" height="7.5" rx="3.8" opacity="0.7" transform="rotate(247.4)"/>
<rect x="363" y="-2.7" width="132" height="5.3" rx="2.7" opacity="0.5" transform="rotate(298.1)"/>
<rect x="370" y="-3.5" width="125" height="7.0" rx="3.5" opacity="0.5" transform="rotate(252.2)"/>
<rect x="387" y="-3.3" width="112" height="6.6" rx="3.3" opacity="0.8" transform="rotate(239.6)"/>
</g></svg>
<!--/BURST-->
<!--LOGO-->
<svg id="logos" width="374" height="663" viewBox="819 0 374 663" style="position:absolute;left:0;top:0;z-index:1">
<rect x="1017.5" y="611.5" width="157" height="34" fill="#0b2d42" opacity="0.55"/>
<g opacity="0.7">
<path d="M991,604 C987,613 972,618 972,630 C972,637 978,641 986,640.5 C981,638 978.5,634 979,629.5 C980,621 993,618 991,604 Z" fill="#b5772f"/>
<path d="M975,635 C977,640 982,641.5 988,640.5 C995,639.5 999,635 997,631.5 C995,628 988,627.5 985.5,631 C984,634 987.5,636.5 991,635" fill="none" stroke="#c2554a" stroke-width="2.2" stroke-linecap="round"/>
<path d="M981,626.5 C989,622 1004,624 1005,633 C1005.5,641 994,646.5 985,645 C980,644 976.5,641.5 975,638.5" fill="none" stroke="#1d6c9a" stroke-width="2.2" stroke-linecap="round"/>
</g>
<g id="cicon">
<ellipse cx="1036.9" cy="628.9" rx="16.4" ry="17" fill="#eef2f3"/>
<path d="M1024.8,628.7 C1028,623 1033,618.6 1042.2,617.2 C1045,616.6 1047.5,616.3 1050,616.2 L1055,620 L1055,630 L1052.4,629.5 C1051,627 1047,624.4 1042.2,624.2 C1036,624 1030,626 1024.8,628.7 Z" fill="#12364b"/>
<g stroke="#8d989e" stroke-width="1.2" fill="none">
<path d="M1022.8,619.8 H1029.5 M1021.6,622.4 H1028 M1021,625 H1026.5"/>
<path d="M1024,630.6 H1041 M1023.5,633.2 H1043.5 M1024,635.8 H1044 M1025.5,638.4 H1043 M1028,641 H1040.5"/>
<path d="M1042.8,629 V637"/>
</g>
</g>
</svg>
<div class="abs" style="left:241px;top:610px;font-size:32px;letter-spacing:0.75px;color:#e6f2f5">canalys</div>
<div class="abs" style="left:149px;top:649.5px;font-size:11.6px;font-weight:bold;color:#08283a;opacity:0.5">www.lingliuyx.com</div>
<div class="abs" style="left:267px;top:649.5px;font-size:12px;font-weight:bold;color:#08283a;opacity:0.5">www.d6zyx.com</div>
<!--/LOGO-->
  <div class="abs big" style="top:236px;left:2px"><i>2028</i>年</div>
  <div class="abs big" style="top:291px;left:3px">全球<span><i style="letter-spacing:0">5G</i></span>渗透率</div>
  <div class="abs big" style="top:347px;left:1px">将<span>达到<i style="letter-spacing:2.2px">87%</i></span></div>
</div>
</body>
</html>
